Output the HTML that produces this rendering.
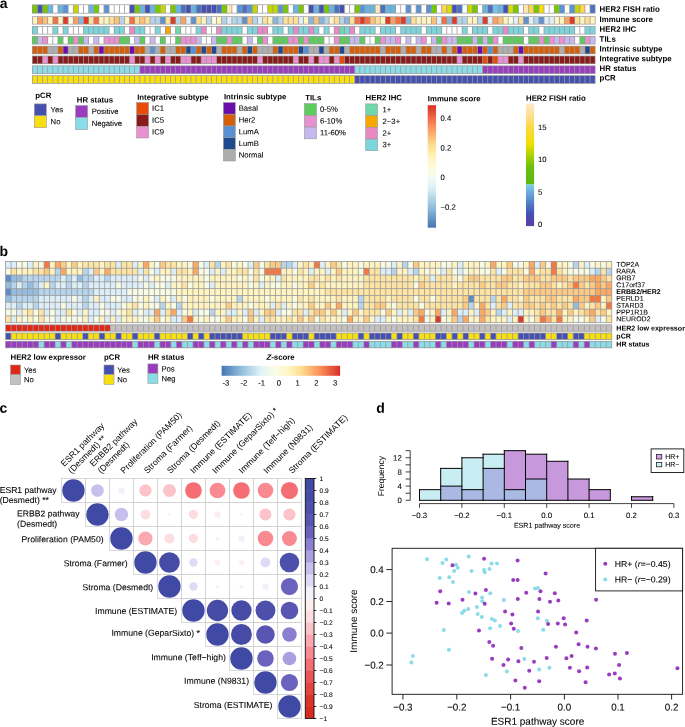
<!DOCTYPE html>
<html lang="en">
<head>
<meta charset="utf-8">
<title>Figure</title>
<style>
html,body{margin:0;padding:0;background:#fff;}
body{width:685px;height:727px;overflow:hidden;}
svg{display:block;font-family:"Liberation Sans", Arial, Helvetica, sans-serif;text-rendering:geometricPrecision;}
</style>
</head>
<body>
<svg width="685" height="727" viewBox="0 0 685 727">
<rect x="0" y="0" width="685" height="727" fill="#ffffff"/>
<g id="panel-a">
<rect x="32.00" y="4.40" width="563.52" height="9.15" fill="#9a9a9a"/>
<rect x="32.75" y="5.10" width="4.32" height="7.75" fill="#78c800"/>
<rect x="37.87" y="5.10" width="4.32" height="7.75" fill="#4650b0"/>
<rect x="42.98" y="5.10" width="4.32" height="7.75" fill="#78c800"/>
<rect x="48.10" y="5.10" width="4.32" height="7.75" fill="#68b4e0"/>
<rect x="53.22" y="5.10" width="4.32" height="7.75" fill="#ffffff"/>
<rect x="58.33" y="5.10" width="4.32" height="7.75" fill="#68b4e0"/>
<rect x="63.45" y="5.10" width="4.32" height="7.75" fill="#5a94d4"/>
<rect x="68.57" y="5.10" width="4.32" height="7.75" fill="#ffffff"/>
<rect x="73.68" y="5.10" width="4.32" height="7.75" fill="#c4d800"/>
<rect x="78.80" y="5.10" width="4.32" height="7.75" fill="#ffffff"/>
<rect x="83.92" y="5.10" width="4.32" height="7.75" fill="#ffffff"/>
<rect x="89.03" y="5.10" width="4.32" height="7.75" fill="#68b4e0"/>
<rect x="94.15" y="5.10" width="4.32" height="7.75" fill="#78c800"/>
<rect x="99.26" y="5.10" width="4.32" height="7.75" fill="#ffffff"/>
<rect x="104.38" y="5.10" width="4.32" height="7.75" fill="#5a94d4"/>
<rect x="109.50" y="5.10" width="4.32" height="7.75" fill="#ffffff"/>
<rect x="114.61" y="5.10" width="4.32" height="7.75" fill="#ffffff"/>
<rect x="119.73" y="5.10" width="4.32" height="7.75" fill="#ffffff"/>
<rect x="124.85" y="5.10" width="4.32" height="7.75" fill="#ffffff"/>
<rect x="129.96" y="5.10" width="4.32" height="7.75" fill="#4650b0"/>
<rect x="135.08" y="5.10" width="4.32" height="7.75" fill="#78c800"/>
<rect x="140.20" y="5.10" width="4.32" height="7.75" fill="#68b4e0"/>
<rect x="145.31" y="5.10" width="4.32" height="7.75" fill="#4650b0"/>
<rect x="150.43" y="5.10" width="4.32" height="7.75" fill="#68b4e0"/>
<rect x="155.55" y="5.10" width="4.32" height="7.75" fill="#78c800"/>
<rect x="160.66" y="5.10" width="4.32" height="7.75" fill="#c4d800"/>
<rect x="165.78" y="5.10" width="4.32" height="7.75" fill="#ffffff"/>
<rect x="170.90" y="5.10" width="4.32" height="7.75" fill="#78c800"/>
<rect x="176.01" y="5.10" width="4.32" height="7.75" fill="#68b4e0"/>
<rect x="181.13" y="5.10" width="4.32" height="7.75" fill="#4a70c4"/>
<rect x="186.25" y="5.10" width="4.32" height="7.75" fill="#4650b0"/>
<rect x="191.36" y="5.10" width="4.32" height="7.75" fill="#68b4e0"/>
<rect x="196.48" y="5.10" width="4.32" height="7.75" fill="#4a70c4"/>
<rect x="201.59" y="5.10" width="4.32" height="7.75" fill="#4650b0"/>
<rect x="206.71" y="5.10" width="4.32" height="7.75" fill="#4650b0"/>
<rect x="211.83" y="5.10" width="4.32" height="7.75" fill="#4650b0"/>
<rect x="216.94" y="5.10" width="4.32" height="7.75" fill="#4a70c4"/>
<rect x="222.06" y="5.10" width="4.32" height="7.75" fill="#78c800"/>
<rect x="227.18" y="5.10" width="4.32" height="7.75" fill="#ffe8b0"/>
<rect x="232.29" y="5.10" width="4.32" height="7.75" fill="#ffffff"/>
<rect x="237.41" y="5.10" width="4.32" height="7.75" fill="#5a94d4"/>
<rect x="242.53" y="5.10" width="4.32" height="7.75" fill="#4a70c4"/>
<rect x="247.64" y="5.10" width="4.32" height="7.75" fill="#5a94d4"/>
<rect x="252.76" y="5.10" width="4.32" height="7.75" fill="#c4d800"/>
<rect x="257.88" y="5.10" width="4.32" height="7.75" fill="#ffffff"/>
<rect x="262.99" y="5.10" width="4.32" height="7.75" fill="#ffffff"/>
<rect x="268.11" y="5.10" width="4.32" height="7.75" fill="#c4d800"/>
<rect x="273.23" y="5.10" width="4.32" height="7.75" fill="#c4d800"/>
<rect x="278.34" y="5.10" width="4.32" height="7.75" fill="#5a94d4"/>
<rect x="283.46" y="5.10" width="4.32" height="7.75" fill="#78c800"/>
<rect x="288.57" y="5.10" width="4.32" height="7.75" fill="#ffffff"/>
<rect x="293.69" y="5.10" width="4.32" height="7.75" fill="#68b4e0"/>
<rect x="298.81" y="5.10" width="4.32" height="7.75" fill="#78c800"/>
<rect x="303.92" y="5.10" width="4.32" height="7.75" fill="#ffffff"/>
<rect x="309.04" y="5.10" width="4.32" height="7.75" fill="#4650b0"/>
<rect x="314.16" y="5.10" width="4.32" height="7.75" fill="#68b4e0"/>
<rect x="319.27" y="5.10" width="4.32" height="7.75" fill="#4650b0"/>
<rect x="324.39" y="5.10" width="4.32" height="7.75" fill="#78c800"/>
<rect x="329.51" y="5.10" width="4.32" height="7.75" fill="#68b4e0"/>
<rect x="334.62" y="5.10" width="4.32" height="7.75" fill="#4a70c4"/>
<rect x="339.74" y="5.10" width="4.32" height="7.75" fill="#4650b0"/>
<rect x="344.86" y="5.10" width="4.32" height="7.75" fill="#ffffff"/>
<rect x="349.97" y="5.10" width="4.32" height="7.75" fill="#ffffff"/>
<rect x="355.09" y="5.10" width="4.32" height="7.75" fill="#78c800"/>
<rect x="360.21" y="5.10" width="4.32" height="7.75" fill="#5a94d4"/>
<rect x="365.32" y="5.10" width="4.32" height="7.75" fill="#68b4e0"/>
<rect x="370.44" y="5.10" width="4.32" height="7.75" fill="#68b4e0"/>
<rect x="375.56" y="5.10" width="4.32" height="7.75" fill="#ffe8b0"/>
<rect x="380.67" y="5.10" width="4.32" height="7.75" fill="#4a70c4"/>
<rect x="385.79" y="5.10" width="4.32" height="7.75" fill="#68b4e0"/>
<rect x="390.91" y="5.10" width="4.32" height="7.75" fill="#68b4e0"/>
<rect x="396.02" y="5.10" width="4.32" height="7.75" fill="#ffffff"/>
<rect x="401.14" y="5.10" width="4.32" height="7.75" fill="#ffffff"/>
<rect x="406.25" y="5.10" width="4.32" height="7.75" fill="#5a94d4"/>
<rect x="411.37" y="5.10" width="4.32" height="7.75" fill="#ffffff"/>
<rect x="416.49" y="5.10" width="4.32" height="7.75" fill="#5a94d4"/>
<rect x="421.60" y="5.10" width="4.32" height="7.75" fill="#ffffff"/>
<rect x="426.72" y="5.10" width="4.32" height="7.75" fill="#5a94d4"/>
<rect x="431.84" y="5.10" width="4.32" height="7.75" fill="#78c800"/>
<rect x="436.95" y="5.10" width="4.32" height="7.75" fill="#ffffff"/>
<rect x="442.07" y="5.10" width="4.32" height="7.75" fill="#fdd84a"/>
<rect x="447.19" y="5.10" width="4.32" height="7.75" fill="#d8de00"/>
<rect x="452.30" y="5.10" width="4.32" height="7.75" fill="#4650b0"/>
<rect x="457.42" y="5.10" width="4.32" height="7.75" fill="#4a70c4"/>
<rect x="462.54" y="5.10" width="4.32" height="7.75" fill="#ffffff"/>
<rect x="467.65" y="5.10" width="4.32" height="7.75" fill="#c4d800"/>
<rect x="472.77" y="5.10" width="4.32" height="7.75" fill="#78c800"/>
<rect x="477.89" y="5.10" width="4.32" height="7.75" fill="#ffffff"/>
<rect x="483.00" y="5.10" width="4.32" height="7.75" fill="#68b4e0"/>
<rect x="488.12" y="5.10" width="4.32" height="7.75" fill="#4a70c4"/>
<rect x="493.24" y="5.10" width="4.32" height="7.75" fill="#70c8e8"/>
<rect x="498.35" y="5.10" width="4.32" height="7.75" fill="#68b4e0"/>
<rect x="503.47" y="5.10" width="4.32" height="7.75" fill="#4650b0"/>
<rect x="508.58" y="5.10" width="4.32" height="7.75" fill="#d8de00"/>
<rect x="513.70" y="5.10" width="4.32" height="7.75" fill="#78c800"/>
<rect x="518.82" y="5.10" width="4.32" height="7.75" fill="#ffffff"/>
<rect x="523.93" y="5.10" width="4.32" height="7.75" fill="#ffe8b0"/>
<rect x="529.05" y="5.10" width="4.32" height="7.75" fill="#fdd84a"/>
<rect x="534.17" y="5.10" width="4.32" height="7.75" fill="#78c800"/>
<rect x="539.28" y="5.10" width="4.32" height="7.75" fill="#f4e000"/>
<rect x="544.40" y="5.10" width="4.32" height="7.75" fill="#ffffff"/>
<rect x="549.52" y="5.10" width="4.32" height="7.75" fill="#ffffff"/>
<rect x="554.63" y="5.10" width="4.32" height="7.75" fill="#78c800"/>
<rect x="559.75" y="5.10" width="4.32" height="7.75" fill="#5a94d4"/>
<rect x="564.87" y="5.10" width="4.32" height="7.75" fill="#ffffff"/>
<rect x="569.98" y="5.10" width="4.32" height="7.75" fill="#5a94d4"/>
<rect x="575.10" y="5.10" width="4.32" height="7.75" fill="#c4d800"/>
<rect x="580.22" y="5.10" width="4.32" height="7.75" fill="#fdd84a"/>
<rect x="585.33" y="5.10" width="4.32" height="7.75" fill="#ffffff"/>
<rect x="590.45" y="5.10" width="4.32" height="7.75" fill="#4a70c4"/>
<rect x="32.00" y="16.30" width="563.52" height="8.20" fill="#9a9a9a"/>
<rect x="32.75" y="17.00" width="4.32" height="6.80" fill="#fff4c0"/>
<rect x="37.87" y="17.00" width="4.32" height="6.80" fill="#fca060"/>
<rect x="42.98" y="17.00" width="4.32" height="6.80" fill="#fdc078"/>
<rect x="48.10" y="17.00" width="4.32" height="6.80" fill="#fff4c0"/>
<rect x="53.22" y="17.00" width="4.32" height="6.80" fill="#f46d43"/>
<rect x="58.33" y="17.00" width="4.32" height="6.80" fill="#fff4c0"/>
<rect x="63.45" y="17.00" width="4.32" height="6.80" fill="#dc3c28"/>
<rect x="68.57" y="17.00" width="4.32" height="6.80" fill="#fcfde0"/>
<rect x="73.68" y="17.00" width="4.32" height="6.80" fill="#fca060"/>
<rect x="78.80" y="17.00" width="4.32" height="6.80" fill="#8ab4da"/>
<rect x="83.92" y="17.00" width="4.32" height="6.80" fill="#dc3c28"/>
<rect x="89.03" y="17.00" width="4.32" height="6.80" fill="#fee098"/>
<rect x="94.15" y="17.00" width="4.32" height="6.80" fill="#f46d43"/>
<rect x="99.26" y="17.00" width="4.32" height="6.80" fill="#fff4c0"/>
<rect x="104.38" y="17.00" width="4.32" height="6.80" fill="#fff4c0"/>
<rect x="109.50" y="17.00" width="4.32" height="6.80" fill="#fee098"/>
<rect x="114.61" y="17.00" width="4.32" height="6.80" fill="#fdc078"/>
<rect x="119.73" y="17.00" width="4.32" height="6.80" fill="#b4d4ea"/>
<rect x="124.85" y="17.00" width="4.32" height="6.80" fill="#fff4c0"/>
<rect x="129.96" y="17.00" width="4.32" height="6.80" fill="#f46d43"/>
<rect x="135.08" y="17.00" width="4.32" height="6.80" fill="#fee098"/>
<rect x="140.20" y="17.00" width="4.32" height="6.80" fill="#fdc078"/>
<rect x="145.31" y="17.00" width="4.32" height="6.80" fill="#fee098"/>
<rect x="150.43" y="17.00" width="4.32" height="6.80" fill="#b4d4ea"/>
<rect x="155.55" y="17.00" width="4.32" height="6.80" fill="#b4d4ea"/>
<rect x="160.66" y="17.00" width="4.32" height="6.80" fill="#6292cc"/>
<rect x="165.78" y="17.00" width="4.32" height="6.80" fill="#fee098"/>
<rect x="170.90" y="17.00" width="4.32" height="6.80" fill="#dc3c28"/>
<rect x="176.01" y="17.00" width="4.32" height="6.80" fill="#b4d4ea"/>
<rect x="181.13" y="17.00" width="4.32" height="6.80" fill="#fca060"/>
<rect x="186.25" y="17.00" width="4.32" height="6.80" fill="#e0f0f8"/>
<rect x="191.36" y="17.00" width="4.32" height="6.80" fill="#6292cc"/>
<rect x="196.48" y="17.00" width="4.32" height="6.80" fill="#fee098"/>
<rect x="201.59" y="17.00" width="4.32" height="6.80" fill="#fff4c0"/>
<rect x="206.71" y="17.00" width="4.32" height="6.80" fill="#b4d4ea"/>
<rect x="211.83" y="17.00" width="4.32" height="6.80" fill="#fcfde0"/>
<rect x="216.94" y="17.00" width="4.32" height="6.80" fill="#fff4c0"/>
<rect x="222.06" y="17.00" width="4.32" height="6.80" fill="#b4d4ea"/>
<rect x="227.18" y="17.00" width="4.32" height="6.80" fill="#e0f0f8"/>
<rect x="232.29" y="17.00" width="4.32" height="6.80" fill="#b4d4ea"/>
<rect x="237.41" y="17.00" width="4.32" height="6.80" fill="#b4d4ea"/>
<rect x="242.53" y="17.00" width="4.32" height="6.80" fill="#6292cc"/>
<rect x="247.64" y="17.00" width="4.32" height="6.80" fill="#fdc078"/>
<rect x="252.76" y="17.00" width="4.32" height="6.80" fill="#b4d4ea"/>
<rect x="257.88" y="17.00" width="4.32" height="6.80" fill="#e0f0f8"/>
<rect x="262.99" y="17.00" width="4.32" height="6.80" fill="#fee098"/>
<rect x="268.11" y="17.00" width="4.32" height="6.80" fill="#fff4c0"/>
<rect x="273.23" y="17.00" width="4.32" height="6.80" fill="#8ab4da"/>
<rect x="278.34" y="17.00" width="4.32" height="6.80" fill="#b4d4ea"/>
<rect x="283.46" y="17.00" width="4.32" height="6.80" fill="#fee098"/>
<rect x="288.57" y="17.00" width="4.32" height="6.80" fill="#fee098"/>
<rect x="293.69" y="17.00" width="4.32" height="6.80" fill="#fee098"/>
<rect x="298.81" y="17.00" width="4.32" height="6.80" fill="#e0f0f8"/>
<rect x="303.92" y="17.00" width="4.32" height="6.80" fill="#fff4c0"/>
<rect x="309.04" y="17.00" width="4.32" height="6.80" fill="#8ab4da"/>
<rect x="314.16" y="17.00" width="4.32" height="6.80" fill="#fdc078"/>
<rect x="319.27" y="17.00" width="4.32" height="6.80" fill="#8ab4da"/>
<rect x="324.39" y="17.00" width="4.32" height="6.80" fill="#b4d4ea"/>
<rect x="329.51" y="17.00" width="4.32" height="6.80" fill="#fff4c0"/>
<rect x="334.62" y="17.00" width="4.32" height="6.80" fill="#fee098"/>
<rect x="339.74" y="17.00" width="4.32" height="6.80" fill="#b4d4ea"/>
<rect x="344.86" y="17.00" width="4.32" height="6.80" fill="#8ab4da"/>
<rect x="349.97" y="17.00" width="4.32" height="6.80" fill="#fee098"/>
<rect x="355.09" y="17.00" width="4.32" height="6.80" fill="#f46d43"/>
<rect x="360.21" y="17.00" width="4.32" height="6.80" fill="#dc3c28"/>
<rect x="365.32" y="17.00" width="4.32" height="6.80" fill="#f46d43"/>
<rect x="370.44" y="17.00" width="4.32" height="6.80" fill="#fdc078"/>
<rect x="375.56" y="17.00" width="4.32" height="6.80" fill="#fee098"/>
<rect x="380.67" y="17.00" width="4.32" height="6.80" fill="#fff4c0"/>
<rect x="385.79" y="17.00" width="4.32" height="6.80" fill="#dc3c28"/>
<rect x="390.91" y="17.00" width="4.32" height="6.80" fill="#fca060"/>
<rect x="396.02" y="17.00" width="4.32" height="6.80" fill="#f46d43"/>
<rect x="401.14" y="17.00" width="4.32" height="6.80" fill="#dc3c28"/>
<rect x="406.25" y="17.00" width="4.32" height="6.80" fill="#8ab4da"/>
<rect x="411.37" y="17.00" width="4.32" height="6.80" fill="#fee098"/>
<rect x="416.49" y="17.00" width="4.32" height="6.80" fill="#fff4c0"/>
<rect x="421.60" y="17.00" width="4.32" height="6.80" fill="#fff4c0"/>
<rect x="426.72" y="17.00" width="4.32" height="6.80" fill="#fff4c0"/>
<rect x="431.84" y="17.00" width="4.32" height="6.80" fill="#fdc078"/>
<rect x="436.95" y="17.00" width="4.32" height="6.80" fill="#e0f0f8"/>
<rect x="442.07" y="17.00" width="4.32" height="6.80" fill="#f46d43"/>
<rect x="447.19" y="17.00" width="4.32" height="6.80" fill="#8ab4da"/>
<rect x="452.30" y="17.00" width="4.32" height="6.80" fill="#dc3c28"/>
<rect x="457.42" y="17.00" width="4.32" height="6.80" fill="#b4d4ea"/>
<rect x="462.54" y="17.00" width="4.32" height="6.80" fill="#b4d4ea"/>
<rect x="467.65" y="17.00" width="4.32" height="6.80" fill="#fff4c0"/>
<rect x="472.77" y="17.00" width="4.32" height="6.80" fill="#fff4c0"/>
<rect x="477.89" y="17.00" width="4.32" height="6.80" fill="#b4d4ea"/>
<rect x="483.00" y="17.00" width="4.32" height="6.80" fill="#dc3c28"/>
<rect x="488.12" y="17.00" width="4.32" height="6.80" fill="#e0f0f8"/>
<rect x="493.24" y="17.00" width="4.32" height="6.80" fill="#fca060"/>
<rect x="498.35" y="17.00" width="4.32" height="6.80" fill="#fdc078"/>
<rect x="503.47" y="17.00" width="4.32" height="6.80" fill="#fff4c0"/>
<rect x="508.58" y="17.00" width="4.32" height="6.80" fill="#fcfde0"/>
<rect x="513.70" y="17.00" width="4.32" height="6.80" fill="#e0f0f8"/>
<rect x="518.82" y="17.00" width="4.32" height="6.80" fill="#fee098"/>
<rect x="523.93" y="17.00" width="4.32" height="6.80" fill="#6292cc"/>
<rect x="529.05" y="17.00" width="4.32" height="6.80" fill="#e0f0f8"/>
<rect x="534.17" y="17.00" width="4.32" height="6.80" fill="#b4d4ea"/>
<rect x="539.28" y="17.00" width="4.32" height="6.80" fill="#6292cc"/>
<rect x="544.40" y="17.00" width="4.32" height="6.80" fill="#e0f0f8"/>
<rect x="549.52" y="17.00" width="4.32" height="6.80" fill="#e0f0f8"/>
<rect x="554.63" y="17.00" width="4.32" height="6.80" fill="#fff4c0"/>
<rect x="559.75" y="17.00" width="4.32" height="6.80" fill="#fff4c0"/>
<rect x="564.87" y="17.00" width="4.32" height="6.80" fill="#fca060"/>
<rect x="569.98" y="17.00" width="4.32" height="6.80" fill="#dc3c28"/>
<rect x="575.10" y="17.00" width="4.32" height="6.80" fill="#fee098"/>
<rect x="580.22" y="17.00" width="4.32" height="6.80" fill="#fff4c0"/>
<rect x="585.33" y="17.00" width="4.32" height="6.80" fill="#fee098"/>
<rect x="590.45" y="17.00" width="4.32" height="6.80" fill="#fff4c0"/>
<rect x="32.00" y="26.10" width="563.52" height="8.40" fill="#9a9a9a"/>
<rect x="32.75" y="26.80" width="4.32" height="7.00" fill="#7cd4dc"/>
<rect x="37.87" y="26.80" width="4.32" height="7.00" fill="#ffffff"/>
<rect x="42.98" y="26.80" width="4.32" height="7.00" fill="#ffffff"/>
<rect x="48.10" y="26.80" width="4.32" height="7.00" fill="#ffffff"/>
<rect x="53.22" y="26.80" width="4.32" height="7.00" fill="#7cd4dc"/>
<rect x="58.33" y="26.80" width="4.32" height="7.00" fill="#ffffff"/>
<rect x="63.45" y="26.80" width="4.32" height="7.00" fill="#7cd4dc"/>
<rect x="68.57" y="26.80" width="4.32" height="7.00" fill="#ffffff"/>
<rect x="73.68" y="26.80" width="4.32" height="7.00" fill="#ffffff"/>
<rect x="78.80" y="26.80" width="4.32" height="7.00" fill="#ffffff"/>
<rect x="83.92" y="26.80" width="4.32" height="7.00" fill="#7cd4dc"/>
<rect x="89.03" y="26.80" width="4.32" height="7.00" fill="#7cd4dc"/>
<rect x="94.15" y="26.80" width="4.32" height="7.00" fill="#7cd4dc"/>
<rect x="99.26" y="26.80" width="4.32" height="7.00" fill="#7cd4dc"/>
<rect x="104.38" y="26.80" width="4.32" height="7.00" fill="#7cd4dc"/>
<rect x="109.50" y="26.80" width="4.32" height="7.00" fill="#ffffff"/>
<rect x="114.61" y="26.80" width="4.32" height="7.00" fill="#7cd4dc"/>
<rect x="119.73" y="26.80" width="4.32" height="7.00" fill="#7cd4dc"/>
<rect x="124.85" y="26.80" width="4.32" height="7.00" fill="#ffffff"/>
<rect x="129.96" y="26.80" width="4.32" height="7.00" fill="#e888c4"/>
<rect x="135.08" y="26.80" width="4.32" height="7.00" fill="#7cd4dc"/>
<rect x="140.20" y="26.80" width="4.32" height="7.00" fill="#7cd4dc"/>
<rect x="145.31" y="26.80" width="4.32" height="7.00" fill="#ffffff"/>
<rect x="150.43" y="26.80" width="4.32" height="7.00" fill="#ffffff"/>
<rect x="155.55" y="26.80" width="4.32" height="7.00" fill="#7cd4dc"/>
<rect x="160.66" y="26.80" width="4.32" height="7.00" fill="#ffffff"/>
<rect x="165.78" y="26.80" width="4.32" height="7.00" fill="#f4a800"/>
<rect x="170.90" y="26.80" width="4.32" height="7.00" fill="#ffffff"/>
<rect x="176.01" y="26.80" width="4.32" height="7.00" fill="#70d8a8"/>
<rect x="181.13" y="26.80" width="4.32" height="7.00" fill="#ffffff"/>
<rect x="186.25" y="26.80" width="4.32" height="7.00" fill="#ffffff"/>
<rect x="191.36" y="26.80" width="4.32" height="7.00" fill="#ffffff"/>
<rect x="196.48" y="26.80" width="4.32" height="7.00" fill="#7cd4dc"/>
<rect x="201.59" y="26.80" width="4.32" height="7.00" fill="#e888c4"/>
<rect x="206.71" y="26.80" width="4.32" height="7.00" fill="#ffffff"/>
<rect x="211.83" y="26.80" width="4.32" height="7.00" fill="#ffffff"/>
<rect x="216.94" y="26.80" width="4.32" height="7.00" fill="#e888c4"/>
<rect x="222.06" y="26.80" width="4.32" height="7.00" fill="#7cd4dc"/>
<rect x="227.18" y="26.80" width="4.32" height="7.00" fill="#7cd4dc"/>
<rect x="232.29" y="26.80" width="4.32" height="7.00" fill="#7cd4dc"/>
<rect x="237.41" y="26.80" width="4.32" height="7.00" fill="#7cd4dc"/>
<rect x="242.53" y="26.80" width="4.32" height="7.00" fill="#ffffff"/>
<rect x="247.64" y="26.80" width="4.32" height="7.00" fill="#7cd4dc"/>
<rect x="252.76" y="26.80" width="4.32" height="7.00" fill="#7cd4dc"/>
<rect x="257.88" y="26.80" width="4.32" height="7.00" fill="#e888c4"/>
<rect x="262.99" y="26.80" width="4.32" height="7.00" fill="#e888c4"/>
<rect x="268.11" y="26.80" width="4.32" height="7.00" fill="#ffffff"/>
<rect x="273.23" y="26.80" width="4.32" height="7.00" fill="#7cd4dc"/>
<rect x="278.34" y="26.80" width="4.32" height="7.00" fill="#7cd4dc"/>
<rect x="283.46" y="26.80" width="4.32" height="7.00" fill="#ffffff"/>
<rect x="288.57" y="26.80" width="4.32" height="7.00" fill="#7cd4dc"/>
<rect x="293.69" y="26.80" width="4.32" height="7.00" fill="#e888c4"/>
<rect x="298.81" y="26.80" width="4.32" height="7.00" fill="#7cd4dc"/>
<rect x="303.92" y="26.80" width="4.32" height="7.00" fill="#7cd4dc"/>
<rect x="309.04" y="26.80" width="4.32" height="7.00" fill="#e888c4"/>
<rect x="314.16" y="26.80" width="4.32" height="7.00" fill="#7cd4dc"/>
<rect x="319.27" y="26.80" width="4.32" height="7.00" fill="#ffffff"/>
<rect x="324.39" y="26.80" width="4.32" height="7.00" fill="#7cd4dc"/>
<rect x="329.51" y="26.80" width="4.32" height="7.00" fill="#ffffff"/>
<rect x="334.62" y="26.80" width="4.32" height="7.00" fill="#e888c4"/>
<rect x="339.74" y="26.80" width="4.32" height="7.00" fill="#70d8a8"/>
<rect x="344.86" y="26.80" width="4.32" height="7.00" fill="#7cd4dc"/>
<rect x="349.97" y="26.80" width="4.32" height="7.00" fill="#e888c4"/>
<rect x="355.09" y="26.80" width="4.32" height="7.00" fill="#ffffff"/>
<rect x="360.21" y="26.80" width="4.32" height="7.00" fill="#7cd4dc"/>
<rect x="365.32" y="26.80" width="4.32" height="7.00" fill="#7cd4dc"/>
<rect x="370.44" y="26.80" width="4.32" height="7.00" fill="#7cd4dc"/>
<rect x="375.56" y="26.80" width="4.32" height="7.00" fill="#ffffff"/>
<rect x="380.67" y="26.80" width="4.32" height="7.00" fill="#7cd4dc"/>
<rect x="385.79" y="26.80" width="4.32" height="7.00" fill="#7cd4dc"/>
<rect x="390.91" y="26.80" width="4.32" height="7.00" fill="#7cd4dc"/>
<rect x="396.02" y="26.80" width="4.32" height="7.00" fill="#ffffff"/>
<rect x="401.14" y="26.80" width="4.32" height="7.00" fill="#7cd4dc"/>
<rect x="406.25" y="26.80" width="4.32" height="7.00" fill="#7cd4dc"/>
<rect x="411.37" y="26.80" width="4.32" height="7.00" fill="#7cd4dc"/>
<rect x="416.49" y="26.80" width="4.32" height="7.00" fill="#7cd4dc"/>
<rect x="421.60" y="26.80" width="4.32" height="7.00" fill="#ffffff"/>
<rect x="426.72" y="26.80" width="4.32" height="7.00" fill="#7cd4dc"/>
<rect x="431.84" y="26.80" width="4.32" height="7.00" fill="#7cd4dc"/>
<rect x="436.95" y="26.80" width="4.32" height="7.00" fill="#7cd4dc"/>
<rect x="442.07" y="26.80" width="4.32" height="7.00" fill="#ffffff"/>
<rect x="447.19" y="26.80" width="4.32" height="7.00" fill="#ffffff"/>
<rect x="452.30" y="26.80" width="4.32" height="7.00" fill="#ffffff"/>
<rect x="457.42" y="26.80" width="4.32" height="7.00" fill="#ffffff"/>
<rect x="462.54" y="26.80" width="4.32" height="7.00" fill="#7cd4dc"/>
<rect x="467.65" y="26.80" width="4.32" height="7.00" fill="#ffffff"/>
<rect x="472.77" y="26.80" width="4.32" height="7.00" fill="#7cd4dc"/>
<rect x="477.89" y="26.80" width="4.32" height="7.00" fill="#7cd4dc"/>
<rect x="483.00" y="26.80" width="4.32" height="7.00" fill="#7cd4dc"/>
<rect x="488.12" y="26.80" width="4.32" height="7.00" fill="#ffffff"/>
<rect x="493.24" y="26.80" width="4.32" height="7.00" fill="#7cd4dc"/>
<rect x="498.35" y="26.80" width="4.32" height="7.00" fill="#7cd4dc"/>
<rect x="503.47" y="26.80" width="4.32" height="7.00" fill="#e888c4"/>
<rect x="508.58" y="26.80" width="4.32" height="7.00" fill="#7cd4dc"/>
<rect x="513.70" y="26.80" width="4.32" height="7.00" fill="#7cd4dc"/>
<rect x="518.82" y="26.80" width="4.32" height="7.00" fill="#7cd4dc"/>
<rect x="523.93" y="26.80" width="4.32" height="7.00" fill="#ffffff"/>
<rect x="529.05" y="26.80" width="4.32" height="7.00" fill="#7cd4dc"/>
<rect x="534.17" y="26.80" width="4.32" height="7.00" fill="#7cd4dc"/>
<rect x="539.28" y="26.80" width="4.32" height="7.00" fill="#ffffff"/>
<rect x="544.40" y="26.80" width="4.32" height="7.00" fill="#7cd4dc"/>
<rect x="549.52" y="26.80" width="4.32" height="7.00" fill="#7cd4dc"/>
<rect x="554.63" y="26.80" width="4.32" height="7.00" fill="#7cd4dc"/>
<rect x="559.75" y="26.80" width="4.32" height="7.00" fill="#7cd4dc"/>
<rect x="564.87" y="26.80" width="4.32" height="7.00" fill="#7cd4dc"/>
<rect x="569.98" y="26.80" width="4.32" height="7.00" fill="#7cd4dc"/>
<rect x="575.10" y="26.80" width="4.32" height="7.00" fill="#ffffff"/>
<rect x="580.22" y="26.80" width="4.32" height="7.00" fill="#ffffff"/>
<rect x="585.33" y="26.80" width="4.32" height="7.00" fill="#7cd4dc"/>
<rect x="590.45" y="26.80" width="4.32" height="7.00" fill="#7cd4dc"/>
<rect x="32.00" y="36.05" width="563.52" height="8.40" fill="#9a9a9a"/>
<rect x="32.75" y="36.75" width="4.32" height="7.00" fill="#5ccc5c"/>
<rect x="37.87" y="36.75" width="4.32" height="7.00" fill="#c8b8f0"/>
<rect x="42.98" y="36.75" width="4.32" height="7.00" fill="#e890d0"/>
<rect x="48.10" y="36.75" width="4.32" height="7.00" fill="#ffffff"/>
<rect x="53.22" y="36.75" width="4.32" height="7.00" fill="#ffffff"/>
<rect x="58.33" y="36.75" width="4.32" height="7.00" fill="#5ccc5c"/>
<rect x="63.45" y="36.75" width="4.32" height="7.00" fill="#ffffff"/>
<rect x="68.57" y="36.75" width="4.32" height="7.00" fill="#5ccc5c"/>
<rect x="73.68" y="36.75" width="4.32" height="7.00" fill="#e890d0"/>
<rect x="78.80" y="36.75" width="4.32" height="7.00" fill="#5ccc5c"/>
<rect x="83.92" y="36.75" width="4.32" height="7.00" fill="#c8b8f0"/>
<rect x="89.03" y="36.75" width="4.32" height="7.00" fill="#ffffff"/>
<rect x="94.15" y="36.75" width="4.32" height="7.00" fill="#c8b8f0"/>
<rect x="99.26" y="36.75" width="4.32" height="7.00" fill="#ffffff"/>
<rect x="104.38" y="36.75" width="4.32" height="7.00" fill="#e890d0"/>
<rect x="109.50" y="36.75" width="4.32" height="7.00" fill="#e890d0"/>
<rect x="114.61" y="36.75" width="4.32" height="7.00" fill="#e890d0"/>
<rect x="119.73" y="36.75" width="4.32" height="7.00" fill="#5ccc5c"/>
<rect x="124.85" y="36.75" width="4.32" height="7.00" fill="#5ccc5c"/>
<rect x="129.96" y="36.75" width="4.32" height="7.00" fill="#ffffff"/>
<rect x="135.08" y="36.75" width="4.32" height="7.00" fill="#c8b8f0"/>
<rect x="140.20" y="36.75" width="4.32" height="7.00" fill="#5ccc5c"/>
<rect x="145.31" y="36.75" width="4.32" height="7.00" fill="#ffffff"/>
<rect x="150.43" y="36.75" width="4.32" height="7.00" fill="#c8b8f0"/>
<rect x="155.55" y="36.75" width="4.32" height="7.00" fill="#ffffff"/>
<rect x="160.66" y="36.75" width="4.32" height="7.00" fill="#5ccc5c"/>
<rect x="165.78" y="36.75" width="4.32" height="7.00" fill="#ffffff"/>
<rect x="170.90" y="36.75" width="4.32" height="7.00" fill="#ffffff"/>
<rect x="176.01" y="36.75" width="4.32" height="7.00" fill="#5ccc5c"/>
<rect x="181.13" y="36.75" width="4.32" height="7.00" fill="#e890d0"/>
<rect x="186.25" y="36.75" width="4.32" height="7.00" fill="#e890d0"/>
<rect x="191.36" y="36.75" width="4.32" height="7.00" fill="#e890d0"/>
<rect x="196.48" y="36.75" width="4.32" height="7.00" fill="#c8b8f0"/>
<rect x="201.59" y="36.75" width="4.32" height="7.00" fill="#ffffff"/>
<rect x="206.71" y="36.75" width="4.32" height="7.00" fill="#ffffff"/>
<rect x="211.83" y="36.75" width="4.32" height="7.00" fill="#c8b8f0"/>
<rect x="216.94" y="36.75" width="4.32" height="7.00" fill="#5ccc5c"/>
<rect x="222.06" y="36.75" width="4.32" height="7.00" fill="#5ccc5c"/>
<rect x="227.18" y="36.75" width="4.32" height="7.00" fill="#e890d0"/>
<rect x="232.29" y="36.75" width="4.32" height="7.00" fill="#5ccc5c"/>
<rect x="237.41" y="36.75" width="4.32" height="7.00" fill="#5ccc5c"/>
<rect x="242.53" y="36.75" width="4.32" height="7.00" fill="#ffffff"/>
<rect x="247.64" y="36.75" width="4.32" height="7.00" fill="#c8b8f0"/>
<rect x="252.76" y="36.75" width="4.32" height="7.00" fill="#ffffff"/>
<rect x="257.88" y="36.75" width="4.32" height="7.00" fill="#5ccc5c"/>
<rect x="262.99" y="36.75" width="4.32" height="7.00" fill="#e890d0"/>
<rect x="268.11" y="36.75" width="4.32" height="7.00" fill="#ffffff"/>
<rect x="273.23" y="36.75" width="4.32" height="7.00" fill="#5ccc5c"/>
<rect x="278.34" y="36.75" width="4.32" height="7.00" fill="#5ccc5c"/>
<rect x="283.46" y="36.75" width="4.32" height="7.00" fill="#5ccc5c"/>
<rect x="288.57" y="36.75" width="4.32" height="7.00" fill="#e890d0"/>
<rect x="293.69" y="36.75" width="4.32" height="7.00" fill="#e890d0"/>
<rect x="298.81" y="36.75" width="4.32" height="7.00" fill="#5ccc5c"/>
<rect x="303.92" y="36.75" width="4.32" height="7.00" fill="#e890d0"/>
<rect x="309.04" y="36.75" width="4.32" height="7.00" fill="#5ccc5c"/>
<rect x="314.16" y="36.75" width="4.32" height="7.00" fill="#5ccc5c"/>
<rect x="319.27" y="36.75" width="4.32" height="7.00" fill="#5ccc5c"/>
<rect x="324.39" y="36.75" width="4.32" height="7.00" fill="#ffffff"/>
<rect x="329.51" y="36.75" width="4.32" height="7.00" fill="#ffffff"/>
<rect x="334.62" y="36.75" width="4.32" height="7.00" fill="#e890d0"/>
<rect x="339.74" y="36.75" width="4.32" height="7.00" fill="#5ccc5c"/>
<rect x="344.86" y="36.75" width="4.32" height="7.00" fill="#5ccc5c"/>
<rect x="349.97" y="36.75" width="4.32" height="7.00" fill="#c8b8f0"/>
<rect x="355.09" y="36.75" width="4.32" height="7.00" fill="#c8b8f0"/>
<rect x="360.21" y="36.75" width="4.32" height="7.00" fill="#5ccc5c"/>
<rect x="365.32" y="36.75" width="4.32" height="7.00" fill="#ffffff"/>
<rect x="370.44" y="36.75" width="4.32" height="7.00" fill="#ffffff"/>
<rect x="375.56" y="36.75" width="4.32" height="7.00" fill="#5ccc5c"/>
<rect x="380.67" y="36.75" width="4.32" height="7.00" fill="#e890d0"/>
<rect x="385.79" y="36.75" width="4.32" height="7.00" fill="#c8b8f0"/>
<rect x="390.91" y="36.75" width="4.32" height="7.00" fill="#c8b8f0"/>
<rect x="396.02" y="36.75" width="4.32" height="7.00" fill="#e890d0"/>
<rect x="401.14" y="36.75" width="4.32" height="7.00" fill="#ffffff"/>
<rect x="406.25" y="36.75" width="4.32" height="7.00" fill="#c8b8f0"/>
<rect x="411.37" y="36.75" width="4.32" height="7.00" fill="#ffffff"/>
<rect x="416.49" y="36.75" width="4.32" height="7.00" fill="#c8b8f0"/>
<rect x="421.60" y="36.75" width="4.32" height="7.00" fill="#e890d0"/>
<rect x="426.72" y="36.75" width="4.32" height="7.00" fill="#ffffff"/>
<rect x="431.84" y="36.75" width="4.32" height="7.00" fill="#c8b8f0"/>
<rect x="436.95" y="36.75" width="4.32" height="7.00" fill="#5ccc5c"/>
<rect x="442.07" y="36.75" width="4.32" height="7.00" fill="#e890d0"/>
<rect x="447.19" y="36.75" width="4.32" height="7.00" fill="#c8b8f0"/>
<rect x="452.30" y="36.75" width="4.32" height="7.00" fill="#c8b8f0"/>
<rect x="457.42" y="36.75" width="4.32" height="7.00" fill="#5ccc5c"/>
<rect x="462.54" y="36.75" width="4.32" height="7.00" fill="#5ccc5c"/>
<rect x="467.65" y="36.75" width="4.32" height="7.00" fill="#5ccc5c"/>
<rect x="472.77" y="36.75" width="4.32" height="7.00" fill="#c8b8f0"/>
<rect x="477.89" y="36.75" width="4.32" height="7.00" fill="#5ccc5c"/>
<rect x="483.00" y="36.75" width="4.32" height="7.00" fill="#c8b8f0"/>
<rect x="488.12" y="36.75" width="4.32" height="7.00" fill="#5ccc5c"/>
<rect x="493.24" y="36.75" width="4.32" height="7.00" fill="#e890d0"/>
<rect x="498.35" y="36.75" width="4.32" height="7.00" fill="#ffffff"/>
<rect x="503.47" y="36.75" width="4.32" height="7.00" fill="#5ccc5c"/>
<rect x="508.58" y="36.75" width="4.32" height="7.00" fill="#5ccc5c"/>
<rect x="513.70" y="36.75" width="4.32" height="7.00" fill="#5ccc5c"/>
<rect x="518.82" y="36.75" width="4.32" height="7.00" fill="#5ccc5c"/>
<rect x="523.93" y="36.75" width="4.32" height="7.00" fill="#ffffff"/>
<rect x="529.05" y="36.75" width="4.32" height="7.00" fill="#5ccc5c"/>
<rect x="534.17" y="36.75" width="4.32" height="7.00" fill="#5ccc5c"/>
<rect x="539.28" y="36.75" width="4.32" height="7.00" fill="#e890d0"/>
<rect x="544.40" y="36.75" width="4.32" height="7.00" fill="#5ccc5c"/>
<rect x="549.52" y="36.75" width="4.32" height="7.00" fill="#e890d0"/>
<rect x="554.63" y="36.75" width="4.32" height="7.00" fill="#c8b8f0"/>
<rect x="559.75" y="36.75" width="4.32" height="7.00" fill="#e890d0"/>
<rect x="564.87" y="36.75" width="4.32" height="7.00" fill="#c8b8f0"/>
<rect x="569.98" y="36.75" width="4.32" height="7.00" fill="#c8b8f0"/>
<rect x="575.10" y="36.75" width="4.32" height="7.00" fill="#ffffff"/>
<rect x="580.22" y="36.75" width="4.32" height="7.00" fill="#5ccc5c"/>
<rect x="585.33" y="36.75" width="4.32" height="7.00" fill="#e890d0"/>
<rect x="590.45" y="36.75" width="4.32" height="7.00" fill="#c8b8f0"/>
<rect x="32.00" y="45.85" width="563.52" height="8.40" fill="#9a9a9a"/>
<rect x="32.75" y="46.55" width="4.32" height="7.00" fill="#d4600c"/>
<rect x="37.87" y="46.55" width="4.32" height="7.00" fill="#d4600c"/>
<rect x="42.98" y="46.55" width="4.32" height="7.00" fill="#d4600c"/>
<rect x="48.10" y="46.55" width="4.32" height="7.00" fill="#adadad"/>
<rect x="53.22" y="46.55" width="4.32" height="7.00" fill="#adadad"/>
<rect x="58.33" y="46.55" width="4.32" height="7.00" fill="#d4600c"/>
<rect x="63.45" y="46.55" width="4.32" height="7.00" fill="#6a0dad"/>
<rect x="68.57" y="46.55" width="4.32" height="7.00" fill="#adadad"/>
<rect x="73.68" y="46.55" width="4.32" height="7.00" fill="#adadad"/>
<rect x="78.80" y="46.55" width="4.32" height="7.00" fill="#d4600c"/>
<rect x="83.92" y="46.55" width="4.32" height="7.00" fill="#d4600c"/>
<rect x="89.03" y="46.55" width="4.32" height="7.00" fill="#adadad"/>
<rect x="94.15" y="46.55" width="4.32" height="7.00" fill="#d4600c"/>
<rect x="99.26" y="46.55" width="4.32" height="7.00" fill="#6a0dad"/>
<rect x="104.38" y="46.55" width="4.32" height="7.00" fill="#d4600c"/>
<rect x="109.50" y="46.55" width="4.32" height="7.00" fill="#d4600c"/>
<rect x="114.61" y="46.55" width="4.32" height="7.00" fill="#d4600c"/>
<rect x="119.73" y="46.55" width="4.32" height="7.00" fill="#d4600c"/>
<rect x="124.85" y="46.55" width="4.32" height="7.00" fill="#d4600c"/>
<rect x="129.96" y="46.55" width="4.32" height="7.00" fill="#6a0dad"/>
<rect x="135.08" y="46.55" width="4.32" height="7.00" fill="#d4600c"/>
<rect x="140.20" y="46.55" width="4.32" height="7.00" fill="#d4600c"/>
<rect x="145.31" y="46.55" width="4.32" height="7.00" fill="#adadad"/>
<rect x="150.43" y="46.55" width="4.32" height="7.00" fill="#5a90d0"/>
<rect x="155.55" y="46.55" width="4.32" height="7.00" fill="#adadad"/>
<rect x="160.66" y="46.55" width="4.32" height="7.00" fill="#d4600c"/>
<rect x="165.78" y="46.55" width="4.32" height="7.00" fill="#adadad"/>
<rect x="170.90" y="46.55" width="4.32" height="7.00" fill="#adadad"/>
<rect x="176.01" y="46.55" width="4.32" height="7.00" fill="#d4600c"/>
<rect x="181.13" y="46.55" width="4.32" height="7.00" fill="#d4600c"/>
<rect x="186.25" y="46.55" width="4.32" height="7.00" fill="#204a90"/>
<rect x="191.36" y="46.55" width="4.32" height="7.00" fill="#5a90d0"/>
<rect x="196.48" y="46.55" width="4.32" height="7.00" fill="#d4600c"/>
<rect x="201.59" y="46.55" width="4.32" height="7.00" fill="#204a90"/>
<rect x="206.71" y="46.55" width="4.32" height="7.00" fill="#d4600c"/>
<rect x="211.83" y="46.55" width="4.32" height="7.00" fill="#204a90"/>
<rect x="216.94" y="46.55" width="4.32" height="7.00" fill="#adadad"/>
<rect x="222.06" y="46.55" width="4.32" height="7.00" fill="#d4600c"/>
<rect x="227.18" y="46.55" width="4.32" height="7.00" fill="#d4600c"/>
<rect x="232.29" y="46.55" width="4.32" height="7.00" fill="#d4600c"/>
<rect x="237.41" y="46.55" width="4.32" height="7.00" fill="#adadad"/>
<rect x="242.53" y="46.55" width="4.32" height="7.00" fill="#d4600c"/>
<rect x="247.64" y="46.55" width="4.32" height="7.00" fill="#204a90"/>
<rect x="252.76" y="46.55" width="4.32" height="7.00" fill="#d4600c"/>
<rect x="257.88" y="46.55" width="4.32" height="7.00" fill="#adadad"/>
<rect x="262.99" y="46.55" width="4.32" height="7.00" fill="#adadad"/>
<rect x="268.11" y="46.55" width="4.32" height="7.00" fill="#adadad"/>
<rect x="273.23" y="46.55" width="4.32" height="7.00" fill="#d4600c"/>
<rect x="278.34" y="46.55" width="4.32" height="7.00" fill="#204a90"/>
<rect x="283.46" y="46.55" width="4.32" height="7.00" fill="#d4600c"/>
<rect x="288.57" y="46.55" width="4.32" height="7.00" fill="#d4600c"/>
<rect x="293.69" y="46.55" width="4.32" height="7.00" fill="#d4600c"/>
<rect x="298.81" y="46.55" width="4.32" height="7.00" fill="#204a90"/>
<rect x="303.92" y="46.55" width="4.32" height="7.00" fill="#5a90d0"/>
<rect x="309.04" y="46.55" width="4.32" height="7.00" fill="#adadad"/>
<rect x="314.16" y="46.55" width="4.32" height="7.00" fill="#adadad"/>
<rect x="319.27" y="46.55" width="4.32" height="7.00" fill="#204a90"/>
<rect x="324.39" y="46.55" width="4.32" height="7.00" fill="#adadad"/>
<rect x="329.51" y="46.55" width="4.32" height="7.00" fill="#d4600c"/>
<rect x="334.62" y="46.55" width="4.32" height="7.00" fill="#d4600c"/>
<rect x="339.74" y="46.55" width="4.32" height="7.00" fill="#204a90"/>
<rect x="344.86" y="46.55" width="4.32" height="7.00" fill="#adadad"/>
<rect x="349.97" y="46.55" width="4.32" height="7.00" fill="#d4600c"/>
<rect x="355.09" y="46.55" width="4.32" height="7.00" fill="#d4600c"/>
<rect x="360.21" y="46.55" width="4.32" height="7.00" fill="#d4600c"/>
<rect x="365.32" y="46.55" width="4.32" height="7.00" fill="#d4600c"/>
<rect x="370.44" y="46.55" width="4.32" height="7.00" fill="#d4600c"/>
<rect x="375.56" y="46.55" width="4.32" height="7.00" fill="#d4600c"/>
<rect x="380.67" y="46.55" width="4.32" height="7.00" fill="#adadad"/>
<rect x="385.79" y="46.55" width="4.32" height="7.00" fill="#d4600c"/>
<rect x="390.91" y="46.55" width="4.32" height="7.00" fill="#d4600c"/>
<rect x="396.02" y="46.55" width="4.32" height="7.00" fill="#d4600c"/>
<rect x="401.14" y="46.55" width="4.32" height="7.00" fill="#adadad"/>
<rect x="406.25" y="46.55" width="4.32" height="7.00" fill="#d4600c"/>
<rect x="411.37" y="46.55" width="4.32" height="7.00" fill="#d4600c"/>
<rect x="416.49" y="46.55" width="4.32" height="7.00" fill="#adadad"/>
<rect x="421.60" y="46.55" width="4.32" height="7.00" fill="#d4600c"/>
<rect x="426.72" y="46.55" width="4.32" height="7.00" fill="#d4600c"/>
<rect x="431.84" y="46.55" width="4.32" height="7.00" fill="#adadad"/>
<rect x="436.95" y="46.55" width="4.32" height="7.00" fill="#adadad"/>
<rect x="442.07" y="46.55" width="4.32" height="7.00" fill="#d4600c"/>
<rect x="447.19" y="46.55" width="4.32" height="7.00" fill="#adadad"/>
<rect x="452.30" y="46.55" width="4.32" height="7.00" fill="#d4600c"/>
<rect x="457.42" y="46.55" width="4.32" height="7.00" fill="#6a0dad"/>
<rect x="462.54" y="46.55" width="4.32" height="7.00" fill="#d4600c"/>
<rect x="467.65" y="46.55" width="4.32" height="7.00" fill="#d4600c"/>
<rect x="472.77" y="46.55" width="4.32" height="7.00" fill="#d4600c"/>
<rect x="477.89" y="46.55" width="4.32" height="7.00" fill="#6a0dad"/>
<rect x="483.00" y="46.55" width="4.32" height="7.00" fill="#d4600c"/>
<rect x="488.12" y="46.55" width="4.32" height="7.00" fill="#5a90d0"/>
<rect x="493.24" y="46.55" width="4.32" height="7.00" fill="#d4600c"/>
<rect x="498.35" y="46.55" width="4.32" height="7.00" fill="#adadad"/>
<rect x="503.47" y="46.55" width="4.32" height="7.00" fill="#adadad"/>
<rect x="508.58" y="46.55" width="4.32" height="7.00" fill="#adadad"/>
<rect x="513.70" y="46.55" width="4.32" height="7.00" fill="#d4600c"/>
<rect x="518.82" y="46.55" width="4.32" height="7.00" fill="#6a0dad"/>
<rect x="523.93" y="46.55" width="4.32" height="7.00" fill="#d4600c"/>
<rect x="529.05" y="46.55" width="4.32" height="7.00" fill="#d4600c"/>
<rect x="534.17" y="46.55" width="4.32" height="7.00" fill="#d4600c"/>
<rect x="539.28" y="46.55" width="4.32" height="7.00" fill="#d4600c"/>
<rect x="544.40" y="46.55" width="4.32" height="7.00" fill="#d4600c"/>
<rect x="549.52" y="46.55" width="4.32" height="7.00" fill="#d4600c"/>
<rect x="554.63" y="46.55" width="4.32" height="7.00" fill="#d4600c"/>
<rect x="559.75" y="46.55" width="4.32" height="7.00" fill="#adadad"/>
<rect x="564.87" y="46.55" width="4.32" height="7.00" fill="#d4600c"/>
<rect x="569.98" y="46.55" width="4.32" height="7.00" fill="#d4600c"/>
<rect x="575.10" y="46.55" width="4.32" height="7.00" fill="#d4600c"/>
<rect x="580.22" y="46.55" width="4.32" height="7.00" fill="#adadad"/>
<rect x="585.33" y="46.55" width="4.32" height="7.00" fill="#204a90"/>
<rect x="590.45" y="46.55" width="4.32" height="7.00" fill="#d4600c"/>
<rect x="32.00" y="55.65" width="563.52" height="8.40" fill="#9a9a9a"/>
<rect x="32.75" y="56.35" width="4.32" height="7.00" fill="#8b1a1a"/>
<rect x="37.87" y="56.35" width="4.32" height="7.00" fill="#8b1a1a"/>
<rect x="42.98" y="56.35" width="4.32" height="7.00" fill="#e890d0"/>
<rect x="48.10" y="56.35" width="4.32" height="7.00" fill="#8b1a1a"/>
<rect x="53.22" y="56.35" width="4.32" height="7.00" fill="#e890d0"/>
<rect x="58.33" y="56.35" width="4.32" height="7.00" fill="#8b1a1a"/>
<rect x="63.45" y="56.35" width="4.32" height="7.00" fill="#8b1a1a"/>
<rect x="68.57" y="56.35" width="4.32" height="7.00" fill="#8b1a1a"/>
<rect x="73.68" y="56.35" width="4.32" height="7.00" fill="#8b1a1a"/>
<rect x="78.80" y="56.35" width="4.32" height="7.00" fill="#8b1a1a"/>
<rect x="83.92" y="56.35" width="4.32" height="7.00" fill="#8b1a1a"/>
<rect x="89.03" y="56.35" width="4.32" height="7.00" fill="#8b1a1a"/>
<rect x="94.15" y="56.35" width="4.32" height="7.00" fill="#8b1a1a"/>
<rect x="99.26" y="56.35" width="4.32" height="7.00" fill="#8b1a1a"/>
<rect x="104.38" y="56.35" width="4.32" height="7.00" fill="#8b1a1a"/>
<rect x="109.50" y="56.35" width="4.32" height="7.00" fill="#8b1a1a"/>
<rect x="114.61" y="56.35" width="4.32" height="7.00" fill="#8b1a1a"/>
<rect x="119.73" y="56.35" width="4.32" height="7.00" fill="#8b1a1a"/>
<rect x="124.85" y="56.35" width="4.32" height="7.00" fill="#8b1a1a"/>
<rect x="129.96" y="56.35" width="4.32" height="7.00" fill="#e890d0"/>
<rect x="135.08" y="56.35" width="4.32" height="7.00" fill="#8b1a1a"/>
<rect x="140.20" y="56.35" width="4.32" height="7.00" fill="#8b1a1a"/>
<rect x="145.31" y="56.35" width="4.32" height="7.00" fill="#e890d0"/>
<rect x="150.43" y="56.35" width="4.32" height="7.00" fill="#8b1a1a"/>
<rect x="155.55" y="56.35" width="4.32" height="7.00" fill="#e890d0"/>
<rect x="160.66" y="56.35" width="4.32" height="7.00" fill="#8b1a1a"/>
<rect x="165.78" y="56.35" width="4.32" height="7.00" fill="#e890d0"/>
<rect x="170.90" y="56.35" width="4.32" height="7.00" fill="#8b1a1a"/>
<rect x="176.01" y="56.35" width="4.32" height="7.00" fill="#8b1a1a"/>
<rect x="181.13" y="56.35" width="4.32" height="7.00" fill="#e890d0"/>
<rect x="186.25" y="56.35" width="4.32" height="7.00" fill="#e890d0"/>
<rect x="191.36" y="56.35" width="4.32" height="7.00" fill="#8b1a1a"/>
<rect x="196.48" y="56.35" width="4.32" height="7.00" fill="#8b1a1a"/>
<rect x="201.59" y="56.35" width="4.32" height="7.00" fill="#e890d0"/>
<rect x="206.71" y="56.35" width="4.32" height="7.00" fill="#e890d0"/>
<rect x="211.83" y="56.35" width="4.32" height="7.00" fill="#e890d0"/>
<rect x="216.94" y="56.35" width="4.32" height="7.00" fill="#8b1a1a"/>
<rect x="222.06" y="56.35" width="4.32" height="7.00" fill="#8b1a1a"/>
<rect x="227.18" y="56.35" width="4.32" height="7.00" fill="#8b1a1a"/>
<rect x="232.29" y="56.35" width="4.32" height="7.00" fill="#8b1a1a"/>
<rect x="237.41" y="56.35" width="4.32" height="7.00" fill="#8b1a1a"/>
<rect x="242.53" y="56.35" width="4.32" height="7.00" fill="#8b1a1a"/>
<rect x="247.64" y="56.35" width="4.32" height="7.00" fill="#8b1a1a"/>
<rect x="252.76" y="56.35" width="4.32" height="7.00" fill="#8b1a1a"/>
<rect x="257.88" y="56.35" width="4.32" height="7.00" fill="#e890d0"/>
<rect x="262.99" y="56.35" width="4.32" height="7.00" fill="#8b1a1a"/>
<rect x="268.11" y="56.35" width="4.32" height="7.00" fill="#8b1a1a"/>
<rect x="273.23" y="56.35" width="4.32" height="7.00" fill="#8b1a1a"/>
<rect x="278.34" y="56.35" width="4.32" height="7.00" fill="#8b1a1a"/>
<rect x="283.46" y="56.35" width="4.32" height="7.00" fill="#8b1a1a"/>
<rect x="288.57" y="56.35" width="4.32" height="7.00" fill="#8b1a1a"/>
<rect x="293.69" y="56.35" width="4.32" height="7.00" fill="#e890d0"/>
<rect x="298.81" y="56.35" width="4.32" height="7.00" fill="#8b1a1a"/>
<rect x="303.92" y="56.35" width="4.32" height="7.00" fill="#8b1a1a"/>
<rect x="309.04" y="56.35" width="4.32" height="7.00" fill="#e890d0"/>
<rect x="314.16" y="56.35" width="4.32" height="7.00" fill="#8b1a1a"/>
<rect x="319.27" y="56.35" width="4.32" height="7.00" fill="#e890d0"/>
<rect x="324.39" y="56.35" width="4.32" height="7.00" fill="#e890d0"/>
<rect x="329.51" y="56.35" width="4.32" height="7.00" fill="#8b1a1a"/>
<rect x="334.62" y="56.35" width="4.32" height="7.00" fill="#e890d0"/>
<rect x="339.74" y="56.35" width="4.32" height="7.00" fill="#e84c08"/>
<rect x="344.86" y="56.35" width="4.32" height="7.00" fill="#8b1a1a"/>
<rect x="349.97" y="56.35" width="4.32" height="7.00" fill="#8b1a1a"/>
<rect x="355.09" y="56.35" width="4.32" height="7.00" fill="#8b1a1a"/>
<rect x="360.21" y="56.35" width="4.32" height="7.00" fill="#8b1a1a"/>
<rect x="365.32" y="56.35" width="4.32" height="7.00" fill="#8b1a1a"/>
<rect x="370.44" y="56.35" width="4.32" height="7.00" fill="#8b1a1a"/>
<rect x="375.56" y="56.35" width="4.32" height="7.00" fill="#8b1a1a"/>
<rect x="380.67" y="56.35" width="4.32" height="7.00" fill="#8b1a1a"/>
<rect x="385.79" y="56.35" width="4.32" height="7.00" fill="#8b1a1a"/>
<rect x="390.91" y="56.35" width="4.32" height="7.00" fill="#8b1a1a"/>
<rect x="396.02" y="56.35" width="4.32" height="7.00" fill="#8b1a1a"/>
<rect x="401.14" y="56.35" width="4.32" height="7.00" fill="#8b1a1a"/>
<rect x="406.25" y="56.35" width="4.32" height="7.00" fill="#8b1a1a"/>
<rect x="411.37" y="56.35" width="4.32" height="7.00" fill="#8b1a1a"/>
<rect x="416.49" y="56.35" width="4.32" height="7.00" fill="#8b1a1a"/>
<rect x="421.60" y="56.35" width="4.32" height="7.00" fill="#8b1a1a"/>
<rect x="426.72" y="56.35" width="4.32" height="7.00" fill="#8b1a1a"/>
<rect x="431.84" y="56.35" width="4.32" height="7.00" fill="#8b1a1a"/>
<rect x="436.95" y="56.35" width="4.32" height="7.00" fill="#8b1a1a"/>
<rect x="442.07" y="56.35" width="4.32" height="7.00" fill="#8b1a1a"/>
<rect x="447.19" y="56.35" width="4.32" height="7.00" fill="#8b1a1a"/>
<rect x="452.30" y="56.35" width="4.32" height="7.00" fill="#8b1a1a"/>
<rect x="457.42" y="56.35" width="4.32" height="7.00" fill="#e890d0"/>
<rect x="462.54" y="56.35" width="4.32" height="7.00" fill="#8b1a1a"/>
<rect x="467.65" y="56.35" width="4.32" height="7.00" fill="#8b1a1a"/>
<rect x="472.77" y="56.35" width="4.32" height="7.00" fill="#8b1a1a"/>
<rect x="477.89" y="56.35" width="4.32" height="7.00" fill="#8b1a1a"/>
<rect x="483.00" y="56.35" width="4.32" height="7.00" fill="#e84c08"/>
<rect x="488.12" y="56.35" width="4.32" height="7.00" fill="#8b1a1a"/>
<rect x="493.24" y="56.35" width="4.32" height="7.00" fill="#e84c08"/>
<rect x="498.35" y="56.35" width="4.32" height="7.00" fill="#e890d0"/>
<rect x="503.47" y="56.35" width="4.32" height="7.00" fill="#e890d0"/>
<rect x="508.58" y="56.35" width="4.32" height="7.00" fill="#8b1a1a"/>
<rect x="513.70" y="56.35" width="4.32" height="7.00" fill="#8b1a1a"/>
<rect x="518.82" y="56.35" width="4.32" height="7.00" fill="#e890d0"/>
<rect x="523.93" y="56.35" width="4.32" height="7.00" fill="#8b1a1a"/>
<rect x="529.05" y="56.35" width="4.32" height="7.00" fill="#8b1a1a"/>
<rect x="534.17" y="56.35" width="4.32" height="7.00" fill="#8b1a1a"/>
<rect x="539.28" y="56.35" width="4.32" height="7.00" fill="#8b1a1a"/>
<rect x="544.40" y="56.35" width="4.32" height="7.00" fill="#8b1a1a"/>
<rect x="549.52" y="56.35" width="4.32" height="7.00" fill="#8b1a1a"/>
<rect x="554.63" y="56.35" width="4.32" height="7.00" fill="#8b1a1a"/>
<rect x="559.75" y="56.35" width="4.32" height="7.00" fill="#8b1a1a"/>
<rect x="564.87" y="56.35" width="4.32" height="7.00" fill="#8b1a1a"/>
<rect x="569.98" y="56.35" width="4.32" height="7.00" fill="#8b1a1a"/>
<rect x="575.10" y="56.35" width="4.32" height="7.00" fill="#8b1a1a"/>
<rect x="580.22" y="56.35" width="4.32" height="7.00" fill="#8b1a1a"/>
<rect x="585.33" y="56.35" width="4.32" height="7.00" fill="#8b1a1a"/>
<rect x="590.45" y="56.35" width="4.32" height="7.00" fill="#8b1a1a"/>
<rect x="32.00" y="65.45" width="563.52" height="8.45" fill="#9a9a9a"/>
<rect x="32.75" y="66.15" width="4.32" height="7.05" fill="#8adce8"/>
<rect x="37.87" y="66.15" width="4.32" height="7.05" fill="#8adce8"/>
<rect x="42.98" y="66.15" width="4.32" height="7.05" fill="#8adce8"/>
<rect x="48.10" y="66.15" width="4.32" height="7.05" fill="#8adce8"/>
<rect x="53.22" y="66.15" width="4.32" height="7.05" fill="#8adce8"/>
<rect x="58.33" y="66.15" width="4.32" height="7.05" fill="#8adce8"/>
<rect x="63.45" y="66.15" width="4.32" height="7.05" fill="#8adce8"/>
<rect x="68.57" y="66.15" width="4.32" height="7.05" fill="#8adce8"/>
<rect x="73.68" y="66.15" width="4.32" height="7.05" fill="#8adce8"/>
<rect x="78.80" y="66.15" width="4.32" height="7.05" fill="#8adce8"/>
<rect x="83.92" y="66.15" width="4.32" height="7.05" fill="#8adce8"/>
<rect x="89.03" y="66.15" width="4.32" height="7.05" fill="#8adce8"/>
<rect x="94.15" y="66.15" width="4.32" height="7.05" fill="#8adce8"/>
<rect x="99.26" y="66.15" width="4.32" height="7.05" fill="#8adce8"/>
<rect x="104.38" y="66.15" width="4.32" height="7.05" fill="#8adce8"/>
<rect x="109.50" y="66.15" width="4.32" height="7.05" fill="#8adce8"/>
<rect x="114.61" y="66.15" width="4.32" height="7.05" fill="#8adce8"/>
<rect x="119.73" y="66.15" width="4.32" height="7.05" fill="#8adce8"/>
<rect x="124.85" y="66.15" width="4.32" height="7.05" fill="#8adce8"/>
<rect x="129.96" y="66.15" width="4.32" height="7.05" fill="#8adce8"/>
<rect x="135.08" y="66.15" width="4.32" height="7.05" fill="#8adce8"/>
<rect x="140.20" y="66.15" width="4.32" height="7.05" fill="#9a3cc0"/>
<rect x="145.31" y="66.15" width="4.32" height="7.05" fill="#9a3cc0"/>
<rect x="150.43" y="66.15" width="4.32" height="7.05" fill="#9a3cc0"/>
<rect x="155.55" y="66.15" width="4.32" height="7.05" fill="#9a3cc0"/>
<rect x="160.66" y="66.15" width="4.32" height="7.05" fill="#9a3cc0"/>
<rect x="165.78" y="66.15" width="4.32" height="7.05" fill="#9a3cc0"/>
<rect x="170.90" y="66.15" width="4.32" height="7.05" fill="#9a3cc0"/>
<rect x="176.01" y="66.15" width="4.32" height="7.05" fill="#9a3cc0"/>
<rect x="181.13" y="66.15" width="4.32" height="7.05" fill="#9a3cc0"/>
<rect x="186.25" y="66.15" width="4.32" height="7.05" fill="#9a3cc0"/>
<rect x="191.36" y="66.15" width="4.32" height="7.05" fill="#9a3cc0"/>
<rect x="196.48" y="66.15" width="4.32" height="7.05" fill="#9a3cc0"/>
<rect x="201.59" y="66.15" width="4.32" height="7.05" fill="#9a3cc0"/>
<rect x="206.71" y="66.15" width="4.32" height="7.05" fill="#9a3cc0"/>
<rect x="211.83" y="66.15" width="4.32" height="7.05" fill="#9a3cc0"/>
<rect x="216.94" y="66.15" width="4.32" height="7.05" fill="#9a3cc0"/>
<rect x="222.06" y="66.15" width="4.32" height="7.05" fill="#9a3cc0"/>
<rect x="227.18" y="66.15" width="4.32" height="7.05" fill="#9a3cc0"/>
<rect x="232.29" y="66.15" width="4.32" height="7.05" fill="#9a3cc0"/>
<rect x="237.41" y="66.15" width="4.32" height="7.05" fill="#9a3cc0"/>
<rect x="242.53" y="66.15" width="4.32" height="7.05" fill="#9a3cc0"/>
<rect x="247.64" y="66.15" width="4.32" height="7.05" fill="#9a3cc0"/>
<rect x="252.76" y="66.15" width="4.32" height="7.05" fill="#9a3cc0"/>
<rect x="257.88" y="66.15" width="4.32" height="7.05" fill="#9a3cc0"/>
<rect x="262.99" y="66.15" width="4.32" height="7.05" fill="#9a3cc0"/>
<rect x="268.11" y="66.15" width="4.32" height="7.05" fill="#9a3cc0"/>
<rect x="273.23" y="66.15" width="4.32" height="7.05" fill="#9a3cc0"/>
<rect x="278.34" y="66.15" width="4.32" height="7.05" fill="#9a3cc0"/>
<rect x="283.46" y="66.15" width="4.32" height="7.05" fill="#9a3cc0"/>
<rect x="288.57" y="66.15" width="4.32" height="7.05" fill="#9a3cc0"/>
<rect x="293.69" y="66.15" width="4.32" height="7.05" fill="#9a3cc0"/>
<rect x="298.81" y="66.15" width="4.32" height="7.05" fill="#9a3cc0"/>
<rect x="303.92" y="66.15" width="4.32" height="7.05" fill="#9a3cc0"/>
<rect x="309.04" y="66.15" width="4.32" height="7.05" fill="#9a3cc0"/>
<rect x="314.16" y="66.15" width="4.32" height="7.05" fill="#9a3cc0"/>
<rect x="319.27" y="66.15" width="4.32" height="7.05" fill="#9a3cc0"/>
<rect x="324.39" y="66.15" width="4.32" height="7.05" fill="#9a3cc0"/>
<rect x="329.51" y="66.15" width="4.32" height="7.05" fill="#9a3cc0"/>
<rect x="334.62" y="66.15" width="4.32" height="7.05" fill="#9a3cc0"/>
<rect x="339.74" y="66.15" width="4.32" height="7.05" fill="#9a3cc0"/>
<rect x="344.86" y="66.15" width="4.32" height="7.05" fill="#9a3cc0"/>
<rect x="349.97" y="66.15" width="4.32" height="7.05" fill="#9a3cc0"/>
<rect x="355.09" y="66.15" width="4.32" height="7.05" fill="#8adce8"/>
<rect x="360.21" y="66.15" width="4.32" height="7.05" fill="#8adce8"/>
<rect x="365.32" y="66.15" width="4.32" height="7.05" fill="#8adce8"/>
<rect x="370.44" y="66.15" width="4.32" height="7.05" fill="#8adce8"/>
<rect x="375.56" y="66.15" width="4.32" height="7.05" fill="#8adce8"/>
<rect x="380.67" y="66.15" width="4.32" height="7.05" fill="#8adce8"/>
<rect x="385.79" y="66.15" width="4.32" height="7.05" fill="#8adce8"/>
<rect x="390.91" y="66.15" width="4.32" height="7.05" fill="#8adce8"/>
<rect x="396.02" y="66.15" width="4.32" height="7.05" fill="#8adce8"/>
<rect x="401.14" y="66.15" width="4.32" height="7.05" fill="#8adce8"/>
<rect x="406.25" y="66.15" width="4.32" height="7.05" fill="#8adce8"/>
<rect x="411.37" y="66.15" width="4.32" height="7.05" fill="#8adce8"/>
<rect x="416.49" y="66.15" width="4.32" height="7.05" fill="#8adce8"/>
<rect x="421.60" y="66.15" width="4.32" height="7.05" fill="#8adce8"/>
<rect x="426.72" y="66.15" width="4.32" height="7.05" fill="#8adce8"/>
<rect x="431.84" y="66.15" width="4.32" height="7.05" fill="#8adce8"/>
<rect x="436.95" y="66.15" width="4.32" height="7.05" fill="#8adce8"/>
<rect x="442.07" y="66.15" width="4.32" height="7.05" fill="#8adce8"/>
<rect x="447.19" y="66.15" width="4.32" height="7.05" fill="#8adce8"/>
<rect x="452.30" y="66.15" width="4.32" height="7.05" fill="#8adce8"/>
<rect x="457.42" y="66.15" width="4.32" height="7.05" fill="#8adce8"/>
<rect x="462.54" y="66.15" width="4.32" height="7.05" fill="#8adce8"/>
<rect x="467.65" y="66.15" width="4.32" height="7.05" fill="#8adce8"/>
<rect x="472.77" y="66.15" width="4.32" height="7.05" fill="#8adce8"/>
<rect x="477.89" y="66.15" width="4.32" height="7.05" fill="#8adce8"/>
<rect x="483.00" y="66.15" width="4.32" height="7.05" fill="#9a3cc0"/>
<rect x="488.12" y="66.15" width="4.32" height="7.05" fill="#9a3cc0"/>
<rect x="493.24" y="66.15" width="4.32" height="7.05" fill="#9a3cc0"/>
<rect x="498.35" y="66.15" width="4.32" height="7.05" fill="#9a3cc0"/>
<rect x="503.47" y="66.15" width="4.32" height="7.05" fill="#9a3cc0"/>
<rect x="508.58" y="66.15" width="4.32" height="7.05" fill="#9a3cc0"/>
<rect x="513.70" y="66.15" width="4.32" height="7.05" fill="#9a3cc0"/>
<rect x="518.82" y="66.15" width="4.32" height="7.05" fill="#9a3cc0"/>
<rect x="523.93" y="66.15" width="4.32" height="7.05" fill="#9a3cc0"/>
<rect x="529.05" y="66.15" width="4.32" height="7.05" fill="#9a3cc0"/>
<rect x="534.17" y="66.15" width="4.32" height="7.05" fill="#9a3cc0"/>
<rect x="539.28" y="66.15" width="4.32" height="7.05" fill="#9a3cc0"/>
<rect x="544.40" y="66.15" width="4.32" height="7.05" fill="#9a3cc0"/>
<rect x="549.52" y="66.15" width="4.32" height="7.05" fill="#9a3cc0"/>
<rect x="554.63" y="66.15" width="4.32" height="7.05" fill="#9a3cc0"/>
<rect x="559.75" y="66.15" width="4.32" height="7.05" fill="#9a3cc0"/>
<rect x="564.87" y="66.15" width="4.32" height="7.05" fill="#9a3cc0"/>
<rect x="569.98" y="66.15" width="4.32" height="7.05" fill="#9a3cc0"/>
<rect x="575.10" y="66.15" width="4.32" height="7.05" fill="#9a3cc0"/>
<rect x="580.22" y="66.15" width="4.32" height="7.05" fill="#9a3cc0"/>
<rect x="585.33" y="66.15" width="4.32" height="7.05" fill="#9a3cc0"/>
<rect x="590.45" y="66.15" width="4.32" height="7.05" fill="#9a3cc0"/>
<rect x="32.00" y="75.25" width="563.52" height="8.55" fill="#9a9a9a"/>
<rect x="32.75" y="75.95" width="4.32" height="7.15" fill="#f8e010"/>
<rect x="37.87" y="75.95" width="4.32" height="7.15" fill="#f8e010"/>
<rect x="42.98" y="75.95" width="4.32" height="7.15" fill="#f8e010"/>
<rect x="48.10" y="75.95" width="4.32" height="7.15" fill="#f8e010"/>
<rect x="53.22" y="75.95" width="4.32" height="7.15" fill="#f8e010"/>
<rect x="58.33" y="75.95" width="4.32" height="7.15" fill="#f8e010"/>
<rect x="63.45" y="75.95" width="4.32" height="7.15" fill="#f8e010"/>
<rect x="68.57" y="75.95" width="4.32" height="7.15" fill="#f8e010"/>
<rect x="73.68" y="75.95" width="4.32" height="7.15" fill="#f8e010"/>
<rect x="78.80" y="75.95" width="4.32" height="7.15" fill="#f8e010"/>
<rect x="83.92" y="75.95" width="4.32" height="7.15" fill="#f8e010"/>
<rect x="89.03" y="75.95" width="4.32" height="7.15" fill="#f8e010"/>
<rect x="94.15" y="75.95" width="4.32" height="7.15" fill="#f8e010"/>
<rect x="99.26" y="75.95" width="4.32" height="7.15" fill="#f8e010"/>
<rect x="104.38" y="75.95" width="4.32" height="7.15" fill="#f8e010"/>
<rect x="109.50" y="75.95" width="4.32" height="7.15" fill="#f8e010"/>
<rect x="114.61" y="75.95" width="4.32" height="7.15" fill="#f8e010"/>
<rect x="119.73" y="75.95" width="4.32" height="7.15" fill="#f8e010"/>
<rect x="124.85" y="75.95" width="4.32" height="7.15" fill="#f8e010"/>
<rect x="129.96" y="75.95" width="4.32" height="7.15" fill="#f8e010"/>
<rect x="135.08" y="75.95" width="4.32" height="7.15" fill="#f8e010"/>
<rect x="140.20" y="75.95" width="4.32" height="7.15" fill="#f8e010"/>
<rect x="145.31" y="75.95" width="4.32" height="7.15" fill="#f8e010"/>
<rect x="150.43" y="75.95" width="4.32" height="7.15" fill="#f8e010"/>
<rect x="155.55" y="75.95" width="4.32" height="7.15" fill="#f8e010"/>
<rect x="160.66" y="75.95" width="4.32" height="7.15" fill="#f8e010"/>
<rect x="165.78" y="75.95" width="4.32" height="7.15" fill="#f8e010"/>
<rect x="170.90" y="75.95" width="4.32" height="7.15" fill="#f8e010"/>
<rect x="176.01" y="75.95" width="4.32" height="7.15" fill="#f8e010"/>
<rect x="181.13" y="75.95" width="4.32" height="7.15" fill="#f8e010"/>
<rect x="186.25" y="75.95" width="4.32" height="7.15" fill="#f8e010"/>
<rect x="191.36" y="75.95" width="4.32" height="7.15" fill="#f8e010"/>
<rect x="196.48" y="75.95" width="4.32" height="7.15" fill="#f8e010"/>
<rect x="201.59" y="75.95" width="4.32" height="7.15" fill="#f8e010"/>
<rect x="206.71" y="75.95" width="4.32" height="7.15" fill="#f8e010"/>
<rect x="211.83" y="75.95" width="4.32" height="7.15" fill="#f8e010"/>
<rect x="216.94" y="75.95" width="4.32" height="7.15" fill="#f8e010"/>
<rect x="222.06" y="75.95" width="4.32" height="7.15" fill="#f8e010"/>
<rect x="227.18" y="75.95" width="4.32" height="7.15" fill="#f8e010"/>
<rect x="232.29" y="75.95" width="4.32" height="7.15" fill="#f8e010"/>
<rect x="237.41" y="75.95" width="4.32" height="7.15" fill="#f8e010"/>
<rect x="242.53" y="75.95" width="4.32" height="7.15" fill="#f8e010"/>
<rect x="247.64" y="75.95" width="4.32" height="7.15" fill="#f8e010"/>
<rect x="252.76" y="75.95" width="4.32" height="7.15" fill="#f8e010"/>
<rect x="257.88" y="75.95" width="4.32" height="7.15" fill="#f8e010"/>
<rect x="262.99" y="75.95" width="4.32" height="7.15" fill="#f8e010"/>
<rect x="268.11" y="75.95" width="4.32" height="7.15" fill="#f8e010"/>
<rect x="273.23" y="75.95" width="4.32" height="7.15" fill="#f8e010"/>
<rect x="278.34" y="75.95" width="4.32" height="7.15" fill="#f8e010"/>
<rect x="283.46" y="75.95" width="4.32" height="7.15" fill="#f8e010"/>
<rect x="288.57" y="75.95" width="4.32" height="7.15" fill="#f8e010"/>
<rect x="293.69" y="75.95" width="4.32" height="7.15" fill="#f8e010"/>
<rect x="298.81" y="75.95" width="4.32" height="7.15" fill="#f8e010"/>
<rect x="303.92" y="75.95" width="4.32" height="7.15" fill="#f8e010"/>
<rect x="309.04" y="75.95" width="4.32" height="7.15" fill="#f8e010"/>
<rect x="314.16" y="75.95" width="4.32" height="7.15" fill="#f8e010"/>
<rect x="319.27" y="75.95" width="4.32" height="7.15" fill="#f8e010"/>
<rect x="324.39" y="75.95" width="4.32" height="7.15" fill="#f8e010"/>
<rect x="329.51" y="75.95" width="4.32" height="7.15" fill="#f8e010"/>
<rect x="334.62" y="75.95" width="4.32" height="7.15" fill="#f8e010"/>
<rect x="339.74" y="75.95" width="4.32" height="7.15" fill="#f8e010"/>
<rect x="344.86" y="75.95" width="4.32" height="7.15" fill="#f8e010"/>
<rect x="349.97" y="75.95" width="4.32" height="7.15" fill="#f8e010"/>
<rect x="355.09" y="75.95" width="4.32" height="7.15" fill="#4650b0"/>
<rect x="360.21" y="75.95" width="4.32" height="7.15" fill="#4650b0"/>
<rect x="365.32" y="75.95" width="4.32" height="7.15" fill="#4650b0"/>
<rect x="370.44" y="75.95" width="4.32" height="7.15" fill="#4650b0"/>
<rect x="375.56" y="75.95" width="4.32" height="7.15" fill="#4650b0"/>
<rect x="380.67" y="75.95" width="4.32" height="7.15" fill="#4650b0"/>
<rect x="385.79" y="75.95" width="4.32" height="7.15" fill="#4650b0"/>
<rect x="390.91" y="75.95" width="4.32" height="7.15" fill="#4650b0"/>
<rect x="396.02" y="75.95" width="4.32" height="7.15" fill="#4650b0"/>
<rect x="401.14" y="75.95" width="4.32" height="7.15" fill="#4650b0"/>
<rect x="406.25" y="75.95" width="4.32" height="7.15" fill="#4650b0"/>
<rect x="411.37" y="75.95" width="4.32" height="7.15" fill="#4650b0"/>
<rect x="416.49" y="75.95" width="4.32" height="7.15" fill="#4650b0"/>
<rect x="421.60" y="75.95" width="4.32" height="7.15" fill="#4650b0"/>
<rect x="426.72" y="75.95" width="4.32" height="7.15" fill="#4650b0"/>
<rect x="431.84" y="75.95" width="4.32" height="7.15" fill="#4650b0"/>
<rect x="436.95" y="75.95" width="4.32" height="7.15" fill="#4650b0"/>
<rect x="442.07" y="75.95" width="4.32" height="7.15" fill="#4650b0"/>
<rect x="447.19" y="75.95" width="4.32" height="7.15" fill="#4650b0"/>
<rect x="452.30" y="75.95" width="4.32" height="7.15" fill="#4650b0"/>
<rect x="457.42" y="75.95" width="4.32" height="7.15" fill="#4650b0"/>
<rect x="462.54" y="75.95" width="4.32" height="7.15" fill="#4650b0"/>
<rect x="467.65" y="75.95" width="4.32" height="7.15" fill="#4650b0"/>
<rect x="472.77" y="75.95" width="4.32" height="7.15" fill="#4650b0"/>
<rect x="477.89" y="75.95" width="4.32" height="7.15" fill="#4650b0"/>
<rect x="483.00" y="75.95" width="4.32" height="7.15" fill="#4650b0"/>
<rect x="488.12" y="75.95" width="4.32" height="7.15" fill="#4650b0"/>
<rect x="493.24" y="75.95" width="4.32" height="7.15" fill="#4650b0"/>
<rect x="498.35" y="75.95" width="4.32" height="7.15" fill="#4650b0"/>
<rect x="503.47" y="75.95" width="4.32" height="7.15" fill="#4650b0"/>
<rect x="508.58" y="75.95" width="4.32" height="7.15" fill="#4650b0"/>
<rect x="513.70" y="75.95" width="4.32" height="7.15" fill="#4650b0"/>
<rect x="518.82" y="75.95" width="4.32" height="7.15" fill="#4650b0"/>
<rect x="523.93" y="75.95" width="4.32" height="7.15" fill="#4650b0"/>
<rect x="529.05" y="75.95" width="4.32" height="7.15" fill="#4650b0"/>
<rect x="534.17" y="75.95" width="4.32" height="7.15" fill="#4650b0"/>
<rect x="539.28" y="75.95" width="4.32" height="7.15" fill="#4650b0"/>
<rect x="544.40" y="75.95" width="4.32" height="7.15" fill="#4650b0"/>
<rect x="549.52" y="75.95" width="4.32" height="7.15" fill="#4650b0"/>
<rect x="554.63" y="75.95" width="4.32" height="7.15" fill="#4650b0"/>
<rect x="559.75" y="75.95" width="4.32" height="7.15" fill="#4650b0"/>
<rect x="564.87" y="75.95" width="4.32" height="7.15" fill="#4650b0"/>
<rect x="569.98" y="75.95" width="4.32" height="7.15" fill="#4650b0"/>
<rect x="575.10" y="75.95" width="4.32" height="7.15" fill="#4650b0"/>
<rect x="580.22" y="75.95" width="4.32" height="7.15" fill="#4650b0"/>
<rect x="585.33" y="75.95" width="4.32" height="7.15" fill="#4650b0"/>
<rect x="590.45" y="75.95" width="4.32" height="7.15" fill="#4650b0"/>
<text x="599.60" y="11.70" transform="rotate(0.03 599.60 11.70)" font-size="7.87" font-weight="700" fill="#000">HER2 FISH ratio</text>
<text x="599.60" y="22.00" transform="rotate(0.03 599.60 22.00)" font-size="7.87" font-weight="700" fill="#000">Immune score</text>
<text x="599.60" y="31.80" transform="rotate(0.03 599.60 31.80)" font-size="7.87" font-weight="700" fill="#000">HER2 IHC</text>
<text x="599.60" y="41.70" transform="rotate(0.03 599.60 41.70)" font-size="7.87" font-weight="700" fill="#000">TILs</text>
<text x="599.60" y="51.40" transform="rotate(0.03 599.60 51.40)" font-size="7.87" font-weight="700" fill="#000">Intrinsic subtype</text>
<text x="599.60" y="61.20" transform="rotate(0.03 599.60 61.20)" font-size="7.87" font-weight="700" fill="#000">Integrative subtype</text>
<text x="599.60" y="70.90" transform="rotate(0.03 599.60 70.90)" font-size="7.87" font-weight="700" fill="#000">HR status</text>
<text x="599.60" y="80.60" transform="rotate(0.03 599.60 80.60)" font-size="7.87" font-weight="700" fill="#000">pCR</text>
<text x="35.30" y="98.00" transform="rotate(0.03 35.30 98.00)" font-size="7.8" font-weight="700" fill="#000">pCR</text>
<rect x="34.30" y="103.90" width="12.00" height="11.90" fill="#4650b0" stroke="#9a9a9a" stroke-width="0.6"/>
<text x="50.60" y="112.25" transform="rotate(0.03 50.60 112.25)" font-size="7.7" stroke="#000" stroke-width="0.08" fill="#000">Yes</text>
<rect x="34.30" y="115.80" width="12.00" height="11.90" fill="#f8e010" stroke="#9a9a9a" stroke-width="0.6"/>
<text x="50.60" y="124.15" transform="rotate(0.03 50.60 124.15)" font-size="7.7" stroke="#000" stroke-width="0.08" fill="#000">No</text>
<text x="76.80" y="102.50" transform="rotate(0.03 76.80 102.50)" font-size="7.8" font-weight="700" fill="#000">HR status</text>
<rect x="75.60" y="105.60" width="12.00" height="11.90" fill="#9a3cc0" stroke="#9a9a9a" stroke-width="0.6"/>
<text x="91.70" y="113.95" transform="rotate(0.03 91.70 113.95)" font-size="7.7" stroke="#000" stroke-width="0.08" fill="#000">Positive</text>
<rect x="75.60" y="117.50" width="12.00" height="12.00" fill="#8adce8" stroke="#9a9a9a" stroke-width="0.6"/>
<text x="91.70" y="125.90" transform="rotate(0.03 91.70 125.90)" font-size="7.7" stroke="#000" stroke-width="0.08" fill="#000">Negative</text>
<text x="137.20" y="99.70" transform="rotate(0.03 137.20 99.70)" font-size="7.8" font-weight="700" fill="#000">Integrative subtype</text>
<rect x="136.60" y="102.50" width="12.00" height="11.90" fill="#e84c08" stroke="#9a9a9a" stroke-width="0.6"/>
<text x="152.10" y="110.85" transform="rotate(0.03 152.10 110.85)" font-size="7.7" stroke="#000" stroke-width="0.08" fill="#000">IC1</text>
<rect x="136.60" y="114.40" width="12.00" height="11.90" fill="#8b1a1a" stroke="#9a9a9a" stroke-width="0.6"/>
<text x="152.10" y="122.75" transform="rotate(0.03 152.10 122.75)" font-size="7.7" stroke="#000" stroke-width="0.08" fill="#000">IC5</text>
<rect x="136.60" y="126.30" width="12.00" height="11.70" fill="#e890d0" stroke="#9a9a9a" stroke-width="0.6"/>
<text x="152.10" y="134.55" transform="rotate(0.03 152.10 134.55)" font-size="7.7" stroke="#000" stroke-width="0.08" fill="#000">IC9</text>
<text x="223.90" y="99.20" transform="rotate(0.03 223.90 99.20)" font-size="7.8" font-weight="700" fill="#000">Intrinsic subtype</text>
<rect x="223.40" y="102.50" width="11.90" height="11.70" fill="#6a0dad" stroke="#9a9a9a" stroke-width="0.6"/>
<text x="238.70" y="110.75" transform="rotate(0.03 238.70 110.75)" font-size="7.7" stroke="#000" stroke-width="0.08" fill="#000">Basal</text>
<rect x="223.40" y="114.20" width="11.90" height="11.80" fill="#d4600c" stroke="#9a9a9a" stroke-width="0.6"/>
<text x="238.70" y="122.50" transform="rotate(0.03 238.70 122.50)" font-size="7.7" stroke="#000" stroke-width="0.08" fill="#000">Her2</text>
<rect x="223.40" y="126.00" width="11.90" height="11.70" fill="#5a90d0" stroke="#9a9a9a" stroke-width="0.6"/>
<text x="238.70" y="134.25" transform="rotate(0.03 238.70 134.25)" font-size="7.7" stroke="#000" stroke-width="0.08" fill="#000">LumA</text>
<rect x="223.40" y="137.70" width="11.90" height="11.70" fill="#204a90" stroke="#9a9a9a" stroke-width="0.6"/>
<text x="238.70" y="145.95" transform="rotate(0.03 238.70 145.95)" font-size="7.7" stroke="#000" stroke-width="0.08" fill="#000">LumB</text>
<rect x="223.40" y="149.40" width="11.90" height="11.60" fill="#adadad" stroke="#9a9a9a" stroke-width="0.6"/>
<text x="238.70" y="157.60" transform="rotate(0.03 238.70 157.60)" font-size="7.7" stroke="#000" stroke-width="0.08" fill="#000">Normal</text>
<text x="305.20" y="100.30" transform="rotate(0.03 305.20 100.30)" font-size="7.8" font-weight="700" fill="#000">TILs</text>
<rect x="304.40" y="103.60" width="12.10" height="11.70" fill="#5ccc5c" stroke="#9a9a9a" stroke-width="0.6"/>
<text x="320.00" y="111.85" transform="rotate(0.03 320.00 111.85)" font-size="7.7" stroke="#000" stroke-width="0.08" fill="#000">0-5%</text>
<rect x="304.40" y="115.30" width="12.10" height="11.80" fill="#e890d0" stroke="#9a9a9a" stroke-width="0.6"/>
<text x="320.00" y="123.60" transform="rotate(0.03 320.00 123.60)" font-size="7.7" stroke="#000" stroke-width="0.08" fill="#000">6-10%</text>
<rect x="304.40" y="127.10" width="12.10" height="11.70" fill="#c8b8f0" stroke="#9a9a9a" stroke-width="0.6"/>
<text x="320.00" y="135.35" transform="rotate(0.03 320.00 135.35)" font-size="7.7" stroke="#000" stroke-width="0.08" fill="#000">11-60%</text>
<text x="365.60" y="100.30" transform="rotate(0.03 365.60 100.30)" font-size="7.8" font-weight="700" fill="#000">HER2 IHC</text>
<rect x="365.70" y="103.90" width="11.90" height="11.80" fill="#70d8a8" stroke="#9a9a9a" stroke-width="0.6"/>
<text x="382.60" y="112.20" transform="rotate(0.03 382.60 112.20)" font-size="7.7" stroke="#000" stroke-width="0.08" fill="#000">1+</text>
<rect x="365.70" y="115.70" width="11.90" height="11.70" fill="#f4a800" stroke="#9a9a9a" stroke-width="0.6"/>
<text x="382.60" y="123.95" transform="rotate(0.03 382.60 123.95)" font-size="7.7" stroke="#000" stroke-width="0.08" fill="#000">2−3+</text>
<rect x="365.70" y="127.40" width="11.90" height="11.70" fill="#e888c4" stroke="#9a9a9a" stroke-width="0.6"/>
<text x="382.60" y="135.65" transform="rotate(0.03 382.60 135.65)" font-size="7.7" stroke="#000" stroke-width="0.08" fill="#000">2+</text>
<rect x="365.70" y="139.10" width="11.90" height="11.60" fill="#7cd4dc" stroke="#9a9a9a" stroke-width="0.6"/>
<text x="382.60" y="147.30" transform="rotate(0.03 382.60 147.30)" font-size="7.7" stroke="#000" stroke-width="0.08" fill="#000">3+</text>
<defs><linearGradient id="gImm" x1="0" y1="1" x2="0" y2="0"><stop offset="0" stop-color="#4575b4"/><stop offset="0.167" stop-color="#91bfdb"/><stop offset="0.333" stop-color="#e0f3f8"/><stop offset="0.45" stop-color="#fbfde6"/><stop offset="0.56" stop-color="#fff6c6"/><stop offset="0.667" stop-color="#fee090"/><stop offset="0.833" stop-color="#fc8d59"/><stop offset="1" stop-color="#d73027"/></linearGradient><linearGradient id="gFish1" x1="0" y1="1" x2="0" y2="0"><stop offset="0" stop-color="#5a40a8"/><stop offset="0.3" stop-color="#4450b0"/><stop offset="0.65" stop-color="#5a90d0"/><stop offset="1" stop-color="#7cccea"/></linearGradient><linearGradient id="gFish2" x1="0" y1="1" x2="0" y2="0"><stop offset="0" stop-color="#5cb810"/><stop offset="0.22" stop-color="#6cc010"/><stop offset="0.38" stop-color="#b4d400"/><stop offset="0.5" stop-color="#f0e000"/><stop offset="0.7" stop-color="#fcd840"/><stop offset="0.88" stop-color="#fee0a0"/><stop offset="1" stop-color="#ffe8c8"/></linearGradient><linearGradient id="gZ" x1="0" y1="0" x2="1" y2="0"><stop offset="0" stop-color="#4575b4"/><stop offset="0.167" stop-color="#91bfdb"/><stop offset="0.333" stop-color="#e0f3f8"/><stop offset="0.45" stop-color="#fbfde6"/><stop offset="0.56" stop-color="#fff6c6"/><stop offset="0.667" stop-color="#fee090"/><stop offset="0.833" stop-color="#fc8d59"/><stop offset="1" stop-color="#d73027"/></linearGradient></defs>
<text x="427.80" y="101.30" transform="rotate(0.03 427.80 101.30)" font-size="7.8" font-weight="700" fill="#000">Immune score</text>
<rect x="427.70" y="105.20" width="8.35" height="122.50" fill="url(#gImm)"/>
<text x="440.60" y="120.80" transform="rotate(0.03 440.60 120.80)" font-size="7.7" stroke="#000" stroke-width="0.08" fill="#000">0.4</text>
<text x="440.60" y="150.50" transform="rotate(0.03 440.60 150.50)" font-size="7.7" stroke="#000" stroke-width="0.08" fill="#000">0.2</text>
<text x="440.60" y="179.90" transform="rotate(0.03 440.60 179.90)" font-size="7.7" stroke="#000" stroke-width="0.08" fill="#000">0</text>
<text x="440.60" y="209.70" transform="rotate(0.03 440.60 209.70)" font-size="7.7" stroke="#000" stroke-width="0.08" fill="#000">−0.2</text>
<text x="526.00" y="100.80" transform="rotate(0.03 526.00 100.80)" font-size="7.8" font-weight="700" fill="#000">HER2 FISH ratio</text>
<rect x="526.00" y="103.50" width="8.10" height="81.00" fill="url(#gFish2)"/>
<rect x="526.00" y="184.50" width="8.10" height="41.60" fill="url(#gFish1)"/>
<text x="538.00" y="130.00" transform="rotate(0.03 538.00 130.00)" font-size="7.7" stroke="#000" stroke-width="0.08" fill="#000">15</text>
<text x="538.00" y="162.10" transform="rotate(0.03 538.00 162.10)" font-size="7.7" stroke="#000" stroke-width="0.08" fill="#000">10</text>
<text x="538.00" y="194.80" transform="rotate(0.03 538.00 194.80)" font-size="7.7" stroke="#000" stroke-width="0.08" fill="#000">5</text>
<text x="538.00" y="226.90" transform="rotate(0.03 538.00 226.90)" font-size="7.7" stroke="#000" stroke-width="0.08" fill="#000">0</text>
<text x="-0.30" y="7.90" transform="rotate(0.03 -0.30 7.90)" font-size="14" font-weight="700" fill="#000">a</text>
</g>
<g id="panel-b">
<rect x="5.15" y="261.00" width="607.01" height="62.11" fill="#9a9a9a"/>
<rect x="5.95" y="261.80" width="4.71" height="6.01" fill="#dceef7"/>
<rect x="11.46" y="261.80" width="4.71" height="6.01" fill="#dceef7"/>
<rect x="16.97" y="261.80" width="4.71" height="6.01" fill="#f7fbe4"/>
<rect x="22.48" y="261.80" width="4.71" height="6.01" fill="#f7fbe4"/>
<rect x="27.99" y="261.80" width="4.71" height="6.01" fill="#dceef7"/>
<rect x="33.50" y="261.80" width="4.71" height="6.01" fill="#fff4c0"/>
<rect x="39.02" y="261.80" width="4.71" height="6.01" fill="#f7fbe4"/>
<rect x="44.53" y="261.80" width="4.71" height="6.01" fill="#f47842"/>
<rect x="50.04" y="261.80" width="4.71" height="6.01" fill="#fff4c0"/>
<rect x="55.55" y="261.80" width="4.71" height="6.01" fill="#fca862"/>
<rect x="61.06" y="261.80" width="4.71" height="6.01" fill="#fdca84"/>
<rect x="66.57" y="261.80" width="4.71" height="6.01" fill="#fff4c0"/>
<rect x="72.08" y="261.80" width="4.71" height="6.01" fill="#fdca84"/>
<rect x="77.59" y="261.80" width="4.71" height="6.01" fill="#fff4c0"/>
<rect x="83.10" y="261.80" width="4.71" height="6.01" fill="#fee4a2"/>
<rect x="88.62" y="261.80" width="4.71" height="6.01" fill="#fee4a2"/>
<rect x="94.13" y="261.80" width="4.71" height="6.01" fill="#fee4a2"/>
<rect x="99.64" y="261.80" width="4.71" height="6.01" fill="#fff4c0"/>
<rect x="105.15" y="261.80" width="4.71" height="6.01" fill="#fee4a2"/>
<rect x="110.66" y="261.80" width="4.71" height="6.01" fill="#fee4a2"/>
<rect x="116.17" y="261.80" width="4.71" height="6.01" fill="#dceef7"/>
<rect x="121.68" y="261.80" width="4.71" height="6.01" fill="#fee4a2"/>
<rect x="127.19" y="261.80" width="4.71" height="6.01" fill="#fee4a2"/>
<rect x="132.70" y="261.80" width="4.71" height="6.01" fill="#dceef7"/>
<rect x="138.21" y="261.80" width="4.71" height="6.01" fill="#fff4c0"/>
<rect x="143.73" y="261.80" width="4.71" height="6.01" fill="#fca862"/>
<rect x="149.24" y="261.80" width="4.71" height="6.01" fill="#fff4c0"/>
<rect x="154.75" y="261.80" width="4.71" height="6.01" fill="#f7fbe4"/>
<rect x="160.26" y="261.80" width="4.71" height="6.01" fill="#fdca84"/>
<rect x="165.77" y="261.80" width="4.71" height="6.01" fill="#fee4a2"/>
<rect x="171.28" y="261.80" width="4.71" height="6.01" fill="#fee4a2"/>
<rect x="176.79" y="261.80" width="4.71" height="6.01" fill="#fff4c0"/>
<rect x="182.30" y="261.80" width="4.71" height="6.01" fill="#fff4c0"/>
<rect x="187.81" y="261.80" width="4.71" height="6.01" fill="#f7fbe4"/>
<rect x="193.32" y="261.80" width="4.71" height="6.01" fill="#fca862"/>
<rect x="198.84" y="261.80" width="4.71" height="6.01" fill="#f7fbe4"/>
<rect x="204.35" y="261.80" width="4.71" height="6.01" fill="#dceef7"/>
<rect x="209.86" y="261.80" width="4.71" height="6.01" fill="#fee4a2"/>
<rect x="215.37" y="261.80" width="4.71" height="6.01" fill="#b6d4ec"/>
<rect x="220.88" y="261.80" width="4.71" height="6.01" fill="#fff4c0"/>
<rect x="226.39" y="261.80" width="4.71" height="6.01" fill="#fee4a2"/>
<rect x="231.90" y="261.80" width="4.71" height="6.01" fill="#f7fbe4"/>
<rect x="237.41" y="261.80" width="4.71" height="6.01" fill="#fff4c0"/>
<rect x="242.92" y="261.80" width="4.71" height="6.01" fill="#f7fbe4"/>
<rect x="248.43" y="261.80" width="4.71" height="6.01" fill="#dceef7"/>
<rect x="253.95" y="261.80" width="4.71" height="6.01" fill="#fdca84"/>
<rect x="259.46" y="261.80" width="4.71" height="6.01" fill="#f7fbe4"/>
<rect x="264.97" y="261.80" width="4.71" height="6.01" fill="#fee4a2"/>
<rect x="270.48" y="261.80" width="4.71" height="6.01" fill="#fdca84"/>
<rect x="275.99" y="261.80" width="4.71" height="6.01" fill="#fdca84"/>
<rect x="281.50" y="261.80" width="4.71" height="6.01" fill="#b6d4ec"/>
<rect x="287.01" y="261.80" width="4.71" height="6.01" fill="#b6d4ec"/>
<rect x="292.52" y="261.80" width="4.71" height="6.01" fill="#dceef7"/>
<rect x="298.03" y="261.80" width="4.71" height="6.01" fill="#fff4c0"/>
<rect x="303.54" y="261.80" width="4.71" height="6.01" fill="#fee4a2"/>
<rect x="309.06" y="261.80" width="4.71" height="6.01" fill="#fff4c0"/>
<rect x="314.57" y="261.80" width="4.71" height="6.01" fill="#f47842"/>
<rect x="320.08" y="261.80" width="4.71" height="6.01" fill="#dceef7"/>
<rect x="325.59" y="261.80" width="4.71" height="6.01" fill="#fff4c0"/>
<rect x="331.10" y="261.80" width="4.71" height="6.01" fill="#fdca84"/>
<rect x="336.61" y="261.80" width="4.71" height="6.01" fill="#fee4a2"/>
<rect x="342.12" y="261.80" width="4.71" height="6.01" fill="#f7fbe4"/>
<rect x="347.63" y="261.80" width="4.71" height="6.01" fill="#fff4c0"/>
<rect x="353.14" y="261.80" width="4.71" height="6.01" fill="#fff4c0"/>
<rect x="358.65" y="261.80" width="4.71" height="6.01" fill="#f7fbe4"/>
<rect x="364.17" y="261.80" width="4.71" height="6.01" fill="#fff4c0"/>
<rect x="369.68" y="261.80" width="4.71" height="6.01" fill="#fff4c0"/>
<rect x="375.19" y="261.80" width="4.71" height="6.01" fill="#fff4c0"/>
<rect x="380.70" y="261.80" width="4.71" height="6.01" fill="#f7fbe4"/>
<rect x="386.21" y="261.80" width="4.71" height="6.01" fill="#f7fbe4"/>
<rect x="391.72" y="261.80" width="4.71" height="6.01" fill="#dceef7"/>
<rect x="397.23" y="261.80" width="4.71" height="6.01" fill="#fff4c0"/>
<rect x="402.74" y="261.80" width="4.71" height="6.01" fill="#b6d4ec"/>
<rect x="408.25" y="261.80" width="4.71" height="6.01" fill="#f7fbe4"/>
<rect x="413.76" y="261.80" width="4.71" height="6.01" fill="#fdca84"/>
<rect x="419.27" y="261.80" width="4.71" height="6.01" fill="#fff4c0"/>
<rect x="424.79" y="261.80" width="4.71" height="6.01" fill="#fff4c0"/>
<rect x="430.30" y="261.80" width="4.71" height="6.01" fill="#fff4c0"/>
<rect x="435.81" y="261.80" width="4.71" height="6.01" fill="#fff4c0"/>
<rect x="441.32" y="261.80" width="4.71" height="6.01" fill="#f7fbe4"/>
<rect x="446.83" y="261.80" width="4.71" height="6.01" fill="#f7fbe4"/>
<rect x="452.34" y="261.80" width="4.71" height="6.01" fill="#fff4c0"/>
<rect x="457.85" y="261.80" width="4.71" height="6.01" fill="#dceef7"/>
<rect x="463.36" y="261.80" width="4.71" height="6.01" fill="#fff4c0"/>
<rect x="468.87" y="261.80" width="4.71" height="6.01" fill="#fff4c0"/>
<rect x="474.38" y="261.80" width="4.71" height="6.01" fill="#fff4c0"/>
<rect x="479.90" y="261.80" width="4.71" height="6.01" fill="#f7fbe4"/>
<rect x="485.41" y="261.80" width="4.71" height="6.01" fill="#fff4c0"/>
<rect x="490.92" y="261.80" width="4.71" height="6.01" fill="#fca862"/>
<rect x="496.43" y="261.80" width="4.71" height="6.01" fill="#fff4c0"/>
<rect x="501.94" y="261.80" width="4.71" height="6.01" fill="#fff4c0"/>
<rect x="507.45" y="261.80" width="4.71" height="6.01" fill="#fdca84"/>
<rect x="512.96" y="261.80" width="4.71" height="6.01" fill="#f7fbe4"/>
<rect x="518.47" y="261.80" width="4.71" height="6.01" fill="#f7fbe4"/>
<rect x="523.98" y="261.80" width="4.71" height="6.01" fill="#fff4c0"/>
<rect x="529.49" y="261.80" width="4.71" height="6.01" fill="#fca862"/>
<rect x="535.01" y="261.80" width="4.71" height="6.01" fill="#dceef7"/>
<rect x="540.52" y="261.80" width="4.71" height="6.01" fill="#fdca84"/>
<rect x="546.03" y="261.80" width="4.71" height="6.01" fill="#f7fbe4"/>
<rect x="551.54" y="261.80" width="4.71" height="6.01" fill="#f47842"/>
<rect x="557.05" y="261.80" width="4.71" height="6.01" fill="#fff4c0"/>
<rect x="562.56" y="261.80" width="4.71" height="6.01" fill="#fff4c0"/>
<rect x="568.07" y="261.80" width="4.71" height="6.01" fill="#f7fbe4"/>
<rect x="573.58" y="261.80" width="4.71" height="6.01" fill="#b6d4ec"/>
<rect x="579.09" y="261.80" width="4.71" height="6.01" fill="#fff4c0"/>
<rect x="584.60" y="261.80" width="4.71" height="6.01" fill="#dceef7"/>
<rect x="590.12" y="261.80" width="4.71" height="6.01" fill="#f7fbe4"/>
<rect x="595.63" y="261.80" width="4.71" height="6.01" fill="#fff4c0"/>
<rect x="601.14" y="261.80" width="4.71" height="6.01" fill="#f7fbe4"/>
<rect x="606.65" y="261.80" width="4.71" height="6.01" fill="#fff4c0"/>
<rect x="5.95" y="268.61" width="4.71" height="6.01" fill="#f7fbe4"/>
<rect x="11.46" y="268.61" width="4.71" height="6.01" fill="#fee4a2"/>
<rect x="16.97" y="268.61" width="4.71" height="6.01" fill="#fff4c0"/>
<rect x="22.48" y="268.61" width="4.71" height="6.01" fill="#fff4c0"/>
<rect x="27.99" y="268.61" width="4.71" height="6.01" fill="#fff4c0"/>
<rect x="33.50" y="268.61" width="4.71" height="6.01" fill="#fee4a2"/>
<rect x="39.02" y="268.61" width="4.71" height="6.01" fill="#fee4a2"/>
<rect x="44.53" y="268.61" width="4.71" height="6.01" fill="#fdca84"/>
<rect x="50.04" y="268.61" width="4.71" height="6.01" fill="#fff4c0"/>
<rect x="55.55" y="268.61" width="4.71" height="6.01" fill="#b6d4ec"/>
<rect x="61.06" y="268.61" width="4.71" height="6.01" fill="#fca862"/>
<rect x="66.57" y="268.61" width="4.71" height="6.01" fill="#fff4c0"/>
<rect x="72.08" y="268.61" width="4.71" height="6.01" fill="#fff4c0"/>
<rect x="77.59" y="268.61" width="4.71" height="6.01" fill="#fff4c0"/>
<rect x="83.10" y="268.61" width="4.71" height="6.01" fill="#b6d4ec"/>
<rect x="88.62" y="268.61" width="4.71" height="6.01" fill="#dceef7"/>
<rect x="94.13" y="268.61" width="4.71" height="6.01" fill="#fdca84"/>
<rect x="99.64" y="268.61" width="4.71" height="6.01" fill="#fff4c0"/>
<rect x="105.15" y="268.61" width="4.71" height="6.01" fill="#fca862"/>
<rect x="110.66" y="268.61" width="4.71" height="6.01" fill="#fee4a2"/>
<rect x="116.17" y="268.61" width="4.71" height="6.01" fill="#fee4a2"/>
<rect x="121.68" y="268.61" width="4.71" height="6.01" fill="#fee4a2"/>
<rect x="127.19" y="268.61" width="4.71" height="6.01" fill="#fee4a2"/>
<rect x="132.70" y="268.61" width="4.71" height="6.01" fill="#fee4a2"/>
<rect x="138.21" y="268.61" width="4.71" height="6.01" fill="#dceef7"/>
<rect x="143.73" y="268.61" width="4.71" height="6.01" fill="#fee4a2"/>
<rect x="149.24" y="268.61" width="4.71" height="6.01" fill="#f7fbe4"/>
<rect x="154.75" y="268.61" width="4.71" height="6.01" fill="#dceef7"/>
<rect x="160.26" y="268.61" width="4.71" height="6.01" fill="#fff4c0"/>
<rect x="165.77" y="268.61" width="4.71" height="6.01" fill="#fff4c0"/>
<rect x="171.28" y="268.61" width="4.71" height="6.01" fill="#dceef7"/>
<rect x="176.79" y="268.61" width="4.71" height="6.01" fill="#fee4a2"/>
<rect x="182.30" y="268.61" width="4.71" height="6.01" fill="#fee4a2"/>
<rect x="187.81" y="268.61" width="4.71" height="6.01" fill="#fff4c0"/>
<rect x="193.32" y="268.61" width="4.71" height="6.01" fill="#fca862"/>
<rect x="198.84" y="268.61" width="4.71" height="6.01" fill="#f7fbe4"/>
<rect x="204.35" y="268.61" width="4.71" height="6.01" fill="#f7fbe4"/>
<rect x="209.86" y="268.61" width="4.71" height="6.01" fill="#dceef7"/>
<rect x="215.37" y="268.61" width="4.71" height="6.01" fill="#fff4c0"/>
<rect x="220.88" y="268.61" width="4.71" height="6.01" fill="#dceef7"/>
<rect x="226.39" y="268.61" width="4.71" height="6.01" fill="#fff4c0"/>
<rect x="231.90" y="268.61" width="4.71" height="6.01" fill="#fff4c0"/>
<rect x="237.41" y="268.61" width="4.71" height="6.01" fill="#fee4a2"/>
<rect x="242.92" y="268.61" width="4.71" height="6.01" fill="#fee4a2"/>
<rect x="248.43" y="268.61" width="4.71" height="6.01" fill="#f7fbe4"/>
<rect x="253.95" y="268.61" width="4.71" height="6.01" fill="#fee4a2"/>
<rect x="259.46" y="268.61" width="4.71" height="6.01" fill="#f7fbe4"/>
<rect x="264.97" y="268.61" width="4.71" height="6.01" fill="#f47842"/>
<rect x="270.48" y="268.61" width="4.71" height="6.01" fill="#f47842"/>
<rect x="275.99" y="268.61" width="4.71" height="6.01" fill="#f47842"/>
<rect x="281.50" y="268.61" width="4.71" height="6.01" fill="#fff4c0"/>
<rect x="287.01" y="268.61" width="4.71" height="6.01" fill="#fff4c0"/>
<rect x="292.52" y="268.61" width="4.71" height="6.01" fill="#f7fbe4"/>
<rect x="298.03" y="268.61" width="4.71" height="6.01" fill="#fee4a2"/>
<rect x="303.54" y="268.61" width="4.71" height="6.01" fill="#fff4c0"/>
<rect x="309.06" y="268.61" width="4.71" height="6.01" fill="#dceef7"/>
<rect x="314.57" y="268.61" width="4.71" height="6.01" fill="#fff4c0"/>
<rect x="320.08" y="268.61" width="4.71" height="6.01" fill="#fff4c0"/>
<rect x="325.59" y="268.61" width="4.71" height="6.01" fill="#dceef7"/>
<rect x="331.10" y="268.61" width="4.71" height="6.01" fill="#fff4c0"/>
<rect x="336.61" y="268.61" width="4.71" height="6.01" fill="#fdca84"/>
<rect x="342.12" y="268.61" width="4.71" height="6.01" fill="#fff4c0"/>
<rect x="347.63" y="268.61" width="4.71" height="6.01" fill="#fff4c0"/>
<rect x="353.14" y="268.61" width="4.71" height="6.01" fill="#fff4c0"/>
<rect x="358.65" y="268.61" width="4.71" height="6.01" fill="#f7fbe4"/>
<rect x="364.17" y="268.61" width="4.71" height="6.01" fill="#f47842"/>
<rect x="369.68" y="268.61" width="4.71" height="6.01" fill="#fee4a2"/>
<rect x="375.19" y="268.61" width="4.71" height="6.01" fill="#fee4a2"/>
<rect x="380.70" y="268.61" width="4.71" height="6.01" fill="#dceef7"/>
<rect x="386.21" y="268.61" width="4.71" height="6.01" fill="#dceef7"/>
<rect x="391.72" y="268.61" width="4.71" height="6.01" fill="#b6d4ec"/>
<rect x="397.23" y="268.61" width="4.71" height="6.01" fill="#fff4c0"/>
<rect x="402.74" y="268.61" width="4.71" height="6.01" fill="#fff4c0"/>
<rect x="408.25" y="268.61" width="4.71" height="6.01" fill="#dceef7"/>
<rect x="413.76" y="268.61" width="4.71" height="6.01" fill="#b6d4ec"/>
<rect x="419.27" y="268.61" width="4.71" height="6.01" fill="#fff4c0"/>
<rect x="424.79" y="268.61" width="4.71" height="6.01" fill="#f7fbe4"/>
<rect x="430.30" y="268.61" width="4.71" height="6.01" fill="#fff4c0"/>
<rect x="435.81" y="268.61" width="4.71" height="6.01" fill="#f7fbe4"/>
<rect x="441.32" y="268.61" width="4.71" height="6.01" fill="#dceef7"/>
<rect x="446.83" y="268.61" width="4.71" height="6.01" fill="#fee4a2"/>
<rect x="452.34" y="268.61" width="4.71" height="6.01" fill="#f7fbe4"/>
<rect x="457.85" y="268.61" width="4.71" height="6.01" fill="#dceef7"/>
<rect x="463.36" y="268.61" width="4.71" height="6.01" fill="#f7fbe4"/>
<rect x="468.87" y="268.61" width="4.71" height="6.01" fill="#fff4c0"/>
<rect x="474.38" y="268.61" width="4.71" height="6.01" fill="#fff4c0"/>
<rect x="479.90" y="268.61" width="4.71" height="6.01" fill="#f7fbe4"/>
<rect x="485.41" y="268.61" width="4.71" height="6.01" fill="#f7fbe4"/>
<rect x="490.92" y="268.61" width="4.71" height="6.01" fill="#fee4a2"/>
<rect x="496.43" y="268.61" width="4.71" height="6.01" fill="#dceef7"/>
<rect x="501.94" y="268.61" width="4.71" height="6.01" fill="#f7fbe4"/>
<rect x="507.45" y="268.61" width="4.71" height="6.01" fill="#fee4a2"/>
<rect x="512.96" y="268.61" width="4.71" height="6.01" fill="#fee4a2"/>
<rect x="518.47" y="268.61" width="4.71" height="6.01" fill="#fee4a2"/>
<rect x="523.98" y="268.61" width="4.71" height="6.01" fill="#f7fbe4"/>
<rect x="529.49" y="268.61" width="4.71" height="6.01" fill="#fca862"/>
<rect x="535.01" y="268.61" width="4.71" height="6.01" fill="#fff4c0"/>
<rect x="540.52" y="268.61" width="4.71" height="6.01" fill="#fee4a2"/>
<rect x="546.03" y="268.61" width="4.71" height="6.01" fill="#fee4a2"/>
<rect x="551.54" y="268.61" width="4.71" height="6.01" fill="#f47842"/>
<rect x="557.05" y="268.61" width="4.71" height="6.01" fill="#fee4a2"/>
<rect x="562.56" y="268.61" width="4.71" height="6.01" fill="#fff4c0"/>
<rect x="568.07" y="268.61" width="4.71" height="6.01" fill="#f7fbe4"/>
<rect x="573.58" y="268.61" width="4.71" height="6.01" fill="#f7fbe4"/>
<rect x="579.09" y="268.61" width="4.71" height="6.01" fill="#f7fbe4"/>
<rect x="584.60" y="268.61" width="4.71" height="6.01" fill="#f7fbe4"/>
<rect x="590.12" y="268.61" width="4.71" height="6.01" fill="#dceef7"/>
<rect x="595.63" y="268.61" width="4.71" height="6.01" fill="#b6d4ec"/>
<rect x="601.14" y="268.61" width="4.71" height="6.01" fill="#fee4a2"/>
<rect x="606.65" y="268.61" width="4.71" height="6.01" fill="#b6d4ec"/>
<rect x="5.95" y="275.42" width="4.71" height="6.01" fill="#5b8cc8"/>
<rect x="11.46" y="275.42" width="4.71" height="6.01" fill="#94bce0"/>
<rect x="16.97" y="275.42" width="4.71" height="6.01" fill="#94bce0"/>
<rect x="22.48" y="275.42" width="4.71" height="6.01" fill="#b6d4ec"/>
<rect x="27.99" y="275.42" width="4.71" height="6.01" fill="#b6d4ec"/>
<rect x="33.50" y="275.42" width="4.71" height="6.01" fill="#b6d4ec"/>
<rect x="39.02" y="275.42" width="4.71" height="6.01" fill="#b6d4ec"/>
<rect x="44.53" y="275.42" width="4.71" height="6.01" fill="#b6d4ec"/>
<rect x="50.04" y="275.42" width="4.71" height="6.01" fill="#b6d4ec"/>
<rect x="55.55" y="275.42" width="4.71" height="6.01" fill="#b6d4ec"/>
<rect x="61.06" y="275.42" width="4.71" height="6.01" fill="#dceef7"/>
<rect x="66.57" y="275.42" width="4.71" height="6.01" fill="#b6d4ec"/>
<rect x="72.08" y="275.42" width="4.71" height="6.01" fill="#dceef7"/>
<rect x="77.59" y="275.42" width="4.71" height="6.01" fill="#94bce0"/>
<rect x="83.10" y="275.42" width="4.71" height="6.01" fill="#b6d4ec"/>
<rect x="88.62" y="275.42" width="4.71" height="6.01" fill="#b6d4ec"/>
<rect x="94.13" y="275.42" width="4.71" height="6.01" fill="#dceef7"/>
<rect x="99.64" y="275.42" width="4.71" height="6.01" fill="#dceef7"/>
<rect x="105.15" y="275.42" width="4.71" height="6.01" fill="#b6d4ec"/>
<rect x="110.66" y="275.42" width="4.71" height="6.01" fill="#dceef7"/>
<rect x="116.17" y="275.42" width="4.71" height="6.01" fill="#dceef7"/>
<rect x="121.68" y="275.42" width="4.71" height="6.01" fill="#dceef7"/>
<rect x="127.19" y="275.42" width="4.71" height="6.01" fill="#dceef7"/>
<rect x="132.70" y="275.42" width="4.71" height="6.01" fill="#dceef7"/>
<rect x="138.21" y="275.42" width="4.71" height="6.01" fill="#f7fbe4"/>
<rect x="143.73" y="275.42" width="4.71" height="6.01" fill="#dceef7"/>
<rect x="149.24" y="275.42" width="4.71" height="6.01" fill="#f7fbe4"/>
<rect x="154.75" y="275.42" width="4.71" height="6.01" fill="#fff4c0"/>
<rect x="160.26" y="275.42" width="4.71" height="6.01" fill="#f7fbe4"/>
<rect x="165.77" y="275.42" width="4.71" height="6.01" fill="#f7fbe4"/>
<rect x="171.28" y="275.42" width="4.71" height="6.01" fill="#f7fbe4"/>
<rect x="176.79" y="275.42" width="4.71" height="6.01" fill="#fff4c0"/>
<rect x="182.30" y="275.42" width="4.71" height="6.01" fill="#fff4c0"/>
<rect x="187.81" y="275.42" width="4.71" height="6.01" fill="#fff4c0"/>
<rect x="193.32" y="275.42" width="4.71" height="6.01" fill="#fff4c0"/>
<rect x="198.84" y="275.42" width="4.71" height="6.01" fill="#fff4c0"/>
<rect x="204.35" y="275.42" width="4.71" height="6.01" fill="#f7fbe4"/>
<rect x="209.86" y="275.42" width="4.71" height="6.01" fill="#fff4c0"/>
<rect x="215.37" y="275.42" width="4.71" height="6.01" fill="#fff4c0"/>
<rect x="220.88" y="275.42" width="4.71" height="6.01" fill="#fff4c0"/>
<rect x="226.39" y="275.42" width="4.71" height="6.01" fill="#fff4c0"/>
<rect x="231.90" y="275.42" width="4.71" height="6.01" fill="#fff4c0"/>
<rect x="237.41" y="275.42" width="4.71" height="6.01" fill="#f7fbe4"/>
<rect x="242.92" y="275.42" width="4.71" height="6.01" fill="#fff4c0"/>
<rect x="248.43" y="275.42" width="4.71" height="6.01" fill="#f7fbe4"/>
<rect x="253.95" y="275.42" width="4.71" height="6.01" fill="#fee4a2"/>
<rect x="259.46" y="275.42" width="4.71" height="6.01" fill="#f7fbe4"/>
<rect x="264.97" y="275.42" width="4.71" height="6.01" fill="#fff4c0"/>
<rect x="270.48" y="275.42" width="4.71" height="6.01" fill="#fff4c0"/>
<rect x="275.99" y="275.42" width="4.71" height="6.01" fill="#dceef7"/>
<rect x="281.50" y="275.42" width="4.71" height="6.01" fill="#fee4a2"/>
<rect x="287.01" y="275.42" width="4.71" height="6.01" fill="#fff4c0"/>
<rect x="292.52" y="275.42" width="4.71" height="6.01" fill="#fff4c0"/>
<rect x="298.03" y="275.42" width="4.71" height="6.01" fill="#fff4c0"/>
<rect x="303.54" y="275.42" width="4.71" height="6.01" fill="#fff4c0"/>
<rect x="309.06" y="275.42" width="4.71" height="6.01" fill="#fee4a2"/>
<rect x="314.57" y="275.42" width="4.71" height="6.01" fill="#fee4a2"/>
<rect x="320.08" y="275.42" width="4.71" height="6.01" fill="#fff4c0"/>
<rect x="325.59" y="275.42" width="4.71" height="6.01" fill="#fee4a2"/>
<rect x="331.10" y="275.42" width="4.71" height="6.01" fill="#fff4c0"/>
<rect x="336.61" y="275.42" width="4.71" height="6.01" fill="#fee4a2"/>
<rect x="342.12" y="275.42" width="4.71" height="6.01" fill="#fff4c0"/>
<rect x="347.63" y="275.42" width="4.71" height="6.01" fill="#fff4c0"/>
<rect x="353.14" y="275.42" width="4.71" height="6.01" fill="#fff4c0"/>
<rect x="358.65" y="275.42" width="4.71" height="6.01" fill="#fff4c0"/>
<rect x="364.17" y="275.42" width="4.71" height="6.01" fill="#fee4a2"/>
<rect x="369.68" y="275.42" width="4.71" height="6.01" fill="#fee4a2"/>
<rect x="375.19" y="275.42" width="4.71" height="6.01" fill="#fee4a2"/>
<rect x="380.70" y="275.42" width="4.71" height="6.01" fill="#fee4a2"/>
<rect x="386.21" y="275.42" width="4.71" height="6.01" fill="#fee4a2"/>
<rect x="391.72" y="275.42" width="4.71" height="6.01" fill="#fee4a2"/>
<rect x="397.23" y="275.42" width="4.71" height="6.01" fill="#fee4a2"/>
<rect x="402.74" y="275.42" width="4.71" height="6.01" fill="#fee4a2"/>
<rect x="408.25" y="275.42" width="4.71" height="6.01" fill="#fee4a2"/>
<rect x="413.76" y="275.42" width="4.71" height="6.01" fill="#fff4c0"/>
<rect x="419.27" y="275.42" width="4.71" height="6.01" fill="#fee4a2"/>
<rect x="424.79" y="275.42" width="4.71" height="6.01" fill="#fee4a2"/>
<rect x="430.30" y="275.42" width="4.71" height="6.01" fill="#dceef7"/>
<rect x="435.81" y="275.42" width="4.71" height="6.01" fill="#fee4a2"/>
<rect x="441.32" y="275.42" width="4.71" height="6.01" fill="#fee4a2"/>
<rect x="446.83" y="275.42" width="4.71" height="6.01" fill="#fee4a2"/>
<rect x="452.34" y="275.42" width="4.71" height="6.01" fill="#fff4c0"/>
<rect x="457.85" y="275.42" width="4.71" height="6.01" fill="#f7fbe4"/>
<rect x="463.36" y="275.42" width="4.71" height="6.01" fill="#fee4a2"/>
<rect x="468.87" y="275.42" width="4.71" height="6.01" fill="#fdca84"/>
<rect x="474.38" y="275.42" width="4.71" height="6.01" fill="#fdca84"/>
<rect x="479.90" y="275.42" width="4.71" height="6.01" fill="#fee4a2"/>
<rect x="485.41" y="275.42" width="4.71" height="6.01" fill="#fee4a2"/>
<rect x="490.92" y="275.42" width="4.71" height="6.01" fill="#fee4a2"/>
<rect x="496.43" y="275.42" width="4.71" height="6.01" fill="#fee4a2"/>
<rect x="501.94" y="275.42" width="4.71" height="6.01" fill="#fdca84"/>
<rect x="507.45" y="275.42" width="4.71" height="6.01" fill="#fdca84"/>
<rect x="512.96" y="275.42" width="4.71" height="6.01" fill="#fee4a2"/>
<rect x="518.47" y="275.42" width="4.71" height="6.01" fill="#fee4a2"/>
<rect x="523.98" y="275.42" width="4.71" height="6.01" fill="#fdca84"/>
<rect x="529.49" y="275.42" width="4.71" height="6.01" fill="#fdca84"/>
<rect x="535.01" y="275.42" width="4.71" height="6.01" fill="#fdca84"/>
<rect x="540.52" y="275.42" width="4.71" height="6.01" fill="#fee4a2"/>
<rect x="546.03" y="275.42" width="4.71" height="6.01" fill="#fee4a2"/>
<rect x="551.54" y="275.42" width="4.71" height="6.01" fill="#fdca84"/>
<rect x="557.05" y="275.42" width="4.71" height="6.01" fill="#fdca84"/>
<rect x="562.56" y="275.42" width="4.71" height="6.01" fill="#fdca84"/>
<rect x="568.07" y="275.42" width="4.71" height="6.01" fill="#fee4a2"/>
<rect x="573.58" y="275.42" width="4.71" height="6.01" fill="#fdca84"/>
<rect x="579.09" y="275.42" width="4.71" height="6.01" fill="#fdca84"/>
<rect x="584.60" y="275.42" width="4.71" height="6.01" fill="#fdca84"/>
<rect x="590.12" y="275.42" width="4.71" height="6.01" fill="#fca862"/>
<rect x="595.63" y="275.42" width="4.71" height="6.01" fill="#fca862"/>
<rect x="601.14" y="275.42" width="4.71" height="6.01" fill="#fdca84"/>
<rect x="606.65" y="275.42" width="4.71" height="6.01" fill="#fee4a2"/>
<rect x="5.95" y="282.24" width="4.71" height="6.01" fill="#94bce0"/>
<rect x="11.46" y="282.24" width="4.71" height="6.01" fill="#b6d4ec"/>
<rect x="16.97" y="282.24" width="4.71" height="6.01" fill="#dceef7"/>
<rect x="22.48" y="282.24" width="4.71" height="6.01" fill="#b6d4ec"/>
<rect x="27.99" y="282.24" width="4.71" height="6.01" fill="#94bce0"/>
<rect x="33.50" y="282.24" width="4.71" height="6.01" fill="#b6d4ec"/>
<rect x="39.02" y="282.24" width="4.71" height="6.01" fill="#dceef7"/>
<rect x="44.53" y="282.24" width="4.71" height="6.01" fill="#fff4c0"/>
<rect x="50.04" y="282.24" width="4.71" height="6.01" fill="#b6d4ec"/>
<rect x="55.55" y="282.24" width="4.71" height="6.01" fill="#dceef7"/>
<rect x="61.06" y="282.24" width="4.71" height="6.01" fill="#dceef7"/>
<rect x="66.57" y="282.24" width="4.71" height="6.01" fill="#b6d4ec"/>
<rect x="72.08" y="282.24" width="4.71" height="6.01" fill="#dceef7"/>
<rect x="77.59" y="282.24" width="4.71" height="6.01" fill="#dceef7"/>
<rect x="83.10" y="282.24" width="4.71" height="6.01" fill="#b6d4ec"/>
<rect x="88.62" y="282.24" width="4.71" height="6.01" fill="#dceef7"/>
<rect x="94.13" y="282.24" width="4.71" height="6.01" fill="#dceef7"/>
<rect x="99.64" y="282.24" width="4.71" height="6.01" fill="#dceef7"/>
<rect x="105.15" y="282.24" width="4.71" height="6.01" fill="#dceef7"/>
<rect x="110.66" y="282.24" width="4.71" height="6.01" fill="#dceef7"/>
<rect x="116.17" y="282.24" width="4.71" height="6.01" fill="#f7fbe4"/>
<rect x="121.68" y="282.24" width="4.71" height="6.01" fill="#dceef7"/>
<rect x="127.19" y="282.24" width="4.71" height="6.01" fill="#dceef7"/>
<rect x="132.70" y="282.24" width="4.71" height="6.01" fill="#dceef7"/>
<rect x="138.21" y="282.24" width="4.71" height="6.01" fill="#dceef7"/>
<rect x="143.73" y="282.24" width="4.71" height="6.01" fill="#f7fbe4"/>
<rect x="149.24" y="282.24" width="4.71" height="6.01" fill="#dceef7"/>
<rect x="154.75" y="282.24" width="4.71" height="6.01" fill="#f7fbe4"/>
<rect x="160.26" y="282.24" width="4.71" height="6.01" fill="#f7fbe4"/>
<rect x="165.77" y="282.24" width="4.71" height="6.01" fill="#dceef7"/>
<rect x="171.28" y="282.24" width="4.71" height="6.01" fill="#fff4c0"/>
<rect x="176.79" y="282.24" width="4.71" height="6.01" fill="#fff4c0"/>
<rect x="182.30" y="282.24" width="4.71" height="6.01" fill="#fee4a2"/>
<rect x="187.81" y="282.24" width="4.71" height="6.01" fill="#f7fbe4"/>
<rect x="193.32" y="282.24" width="4.71" height="6.01" fill="#fff4c0"/>
<rect x="198.84" y="282.24" width="4.71" height="6.01" fill="#fff4c0"/>
<rect x="204.35" y="282.24" width="4.71" height="6.01" fill="#f7fbe4"/>
<rect x="209.86" y="282.24" width="4.71" height="6.01" fill="#dceef7"/>
<rect x="215.37" y="282.24" width="4.71" height="6.01" fill="#fff4c0"/>
<rect x="220.88" y="282.24" width="4.71" height="6.01" fill="#fff4c0"/>
<rect x="226.39" y="282.24" width="4.71" height="6.01" fill="#fff4c0"/>
<rect x="231.90" y="282.24" width="4.71" height="6.01" fill="#fff4c0"/>
<rect x="237.41" y="282.24" width="4.71" height="6.01" fill="#fff4c0"/>
<rect x="242.92" y="282.24" width="4.71" height="6.01" fill="#fff4c0"/>
<rect x="248.43" y="282.24" width="4.71" height="6.01" fill="#f7fbe4"/>
<rect x="253.95" y="282.24" width="4.71" height="6.01" fill="#fff4c0"/>
<rect x="259.46" y="282.24" width="4.71" height="6.01" fill="#dceef7"/>
<rect x="264.97" y="282.24" width="4.71" height="6.01" fill="#fff4c0"/>
<rect x="270.48" y="282.24" width="4.71" height="6.01" fill="#f7fbe4"/>
<rect x="275.99" y="282.24" width="4.71" height="6.01" fill="#f7fbe4"/>
<rect x="281.50" y="282.24" width="4.71" height="6.01" fill="#fff4c0"/>
<rect x="287.01" y="282.24" width="4.71" height="6.01" fill="#fff4c0"/>
<rect x="292.52" y="282.24" width="4.71" height="6.01" fill="#f7fbe4"/>
<rect x="298.03" y="282.24" width="4.71" height="6.01" fill="#fff4c0"/>
<rect x="303.54" y="282.24" width="4.71" height="6.01" fill="#fff4c0"/>
<rect x="309.06" y="282.24" width="4.71" height="6.01" fill="#fdca84"/>
<rect x="314.57" y="282.24" width="4.71" height="6.01" fill="#fff4c0"/>
<rect x="320.08" y="282.24" width="4.71" height="6.01" fill="#fee4a2"/>
<rect x="325.59" y="282.24" width="4.71" height="6.01" fill="#fff4c0"/>
<rect x="331.10" y="282.24" width="4.71" height="6.01" fill="#fff4c0"/>
<rect x="336.61" y="282.24" width="4.71" height="6.01" fill="#fff4c0"/>
<rect x="342.12" y="282.24" width="4.71" height="6.01" fill="#fff4c0"/>
<rect x="347.63" y="282.24" width="4.71" height="6.01" fill="#fff4c0"/>
<rect x="353.14" y="282.24" width="4.71" height="6.01" fill="#fff4c0"/>
<rect x="358.65" y="282.24" width="4.71" height="6.01" fill="#fff4c0"/>
<rect x="364.17" y="282.24" width="4.71" height="6.01" fill="#fee4a2"/>
<rect x="369.68" y="282.24" width="4.71" height="6.01" fill="#fee4a2"/>
<rect x="375.19" y="282.24" width="4.71" height="6.01" fill="#fee4a2"/>
<rect x="380.70" y="282.24" width="4.71" height="6.01" fill="#fee4a2"/>
<rect x="386.21" y="282.24" width="4.71" height="6.01" fill="#fee4a2"/>
<rect x="391.72" y="282.24" width="4.71" height="6.01" fill="#fee4a2"/>
<rect x="397.23" y="282.24" width="4.71" height="6.01" fill="#fee4a2"/>
<rect x="402.74" y="282.24" width="4.71" height="6.01" fill="#fee4a2"/>
<rect x="408.25" y="282.24" width="4.71" height="6.01" fill="#fee4a2"/>
<rect x="413.76" y="282.24" width="4.71" height="6.01" fill="#f7fbe4"/>
<rect x="419.27" y="282.24" width="4.71" height="6.01" fill="#fdca84"/>
<rect x="424.79" y="282.24" width="4.71" height="6.01" fill="#fee4a2"/>
<rect x="430.30" y="282.24" width="4.71" height="6.01" fill="#fee4a2"/>
<rect x="435.81" y="282.24" width="4.71" height="6.01" fill="#fee4a2"/>
<rect x="441.32" y="282.24" width="4.71" height="6.01" fill="#fee4a2"/>
<rect x="446.83" y="282.24" width="4.71" height="6.01" fill="#fee4a2"/>
<rect x="452.34" y="282.24" width="4.71" height="6.01" fill="#fff4c0"/>
<rect x="457.85" y="282.24" width="4.71" height="6.01" fill="#fee4a2"/>
<rect x="463.36" y="282.24" width="4.71" height="6.01" fill="#fee4a2"/>
<rect x="468.87" y="282.24" width="4.71" height="6.01" fill="#fee4a2"/>
<rect x="474.38" y="282.24" width="4.71" height="6.01" fill="#fee4a2"/>
<rect x="479.90" y="282.24" width="4.71" height="6.01" fill="#fdca84"/>
<rect x="485.41" y="282.24" width="4.71" height="6.01" fill="#fee4a2"/>
<rect x="490.92" y="282.24" width="4.71" height="6.01" fill="#fee4a2"/>
<rect x="496.43" y="282.24" width="4.71" height="6.01" fill="#fdca84"/>
<rect x="501.94" y="282.24" width="4.71" height="6.01" fill="#fdca84"/>
<rect x="507.45" y="282.24" width="4.71" height="6.01" fill="#fee4a2"/>
<rect x="512.96" y="282.24" width="4.71" height="6.01" fill="#fee4a2"/>
<rect x="518.47" y="282.24" width="4.71" height="6.01" fill="#fff4c0"/>
<rect x="523.98" y="282.24" width="4.71" height="6.01" fill="#fee4a2"/>
<rect x="529.49" y="282.24" width="4.71" height="6.01" fill="#fee4a2"/>
<rect x="535.01" y="282.24" width="4.71" height="6.01" fill="#fee4a2"/>
<rect x="540.52" y="282.24" width="4.71" height="6.01" fill="#fdca84"/>
<rect x="546.03" y="282.24" width="4.71" height="6.01" fill="#fdca84"/>
<rect x="551.54" y="282.24" width="4.71" height="6.01" fill="#fee4a2"/>
<rect x="557.05" y="282.24" width="4.71" height="6.01" fill="#fff4c0"/>
<rect x="562.56" y="282.24" width="4.71" height="6.01" fill="#fee4a2"/>
<rect x="568.07" y="282.24" width="4.71" height="6.01" fill="#fdca84"/>
<rect x="573.58" y="282.24" width="4.71" height="6.01" fill="#f47842"/>
<rect x="579.09" y="282.24" width="4.71" height="6.01" fill="#fdca84"/>
<rect x="584.60" y="282.24" width="4.71" height="6.01" fill="#fee4a2"/>
<rect x="590.12" y="282.24" width="4.71" height="6.01" fill="#fdca84"/>
<rect x="595.63" y="282.24" width="4.71" height="6.01" fill="#fca862"/>
<rect x="601.14" y="282.24" width="4.71" height="6.01" fill="#fdca84"/>
<rect x="606.65" y="282.24" width="4.71" height="6.01" fill="#fca862"/>
<rect x="5.95" y="289.05" width="4.71" height="6.01" fill="#5b8cc8"/>
<rect x="11.46" y="289.05" width="4.71" height="6.01" fill="#94bce0"/>
<rect x="16.97" y="289.05" width="4.71" height="6.01" fill="#94bce0"/>
<rect x="22.48" y="289.05" width="4.71" height="6.01" fill="#94bce0"/>
<rect x="27.99" y="289.05" width="4.71" height="6.01" fill="#94bce0"/>
<rect x="33.50" y="289.05" width="4.71" height="6.01" fill="#94bce0"/>
<rect x="39.02" y="289.05" width="4.71" height="6.01" fill="#b6d4ec"/>
<rect x="44.53" y="289.05" width="4.71" height="6.01" fill="#b6d4ec"/>
<rect x="50.04" y="289.05" width="4.71" height="6.01" fill="#b6d4ec"/>
<rect x="55.55" y="289.05" width="4.71" height="6.01" fill="#b6d4ec"/>
<rect x="61.06" y="289.05" width="4.71" height="6.01" fill="#b6d4ec"/>
<rect x="66.57" y="289.05" width="4.71" height="6.01" fill="#b6d4ec"/>
<rect x="72.08" y="289.05" width="4.71" height="6.01" fill="#b6d4ec"/>
<rect x="77.59" y="289.05" width="4.71" height="6.01" fill="#b6d4ec"/>
<rect x="83.10" y="289.05" width="4.71" height="6.01" fill="#b6d4ec"/>
<rect x="88.62" y="289.05" width="4.71" height="6.01" fill="#b6d4ec"/>
<rect x="94.13" y="289.05" width="4.71" height="6.01" fill="#dceef7"/>
<rect x="99.64" y="289.05" width="4.71" height="6.01" fill="#dceef7"/>
<rect x="105.15" y="289.05" width="4.71" height="6.01" fill="#dceef7"/>
<rect x="110.66" y="289.05" width="4.71" height="6.01" fill="#dceef7"/>
<rect x="116.17" y="289.05" width="4.71" height="6.01" fill="#dceef7"/>
<rect x="121.68" y="289.05" width="4.71" height="6.01" fill="#dceef7"/>
<rect x="127.19" y="289.05" width="4.71" height="6.01" fill="#f7fbe4"/>
<rect x="132.70" y="289.05" width="4.71" height="6.01" fill="#f7fbe4"/>
<rect x="138.21" y="289.05" width="4.71" height="6.01" fill="#f7fbe4"/>
<rect x="143.73" y="289.05" width="4.71" height="6.01" fill="#f7fbe4"/>
<rect x="149.24" y="289.05" width="4.71" height="6.01" fill="#f7fbe4"/>
<rect x="154.75" y="289.05" width="4.71" height="6.01" fill="#f7fbe4"/>
<rect x="160.26" y="289.05" width="4.71" height="6.01" fill="#f7fbe4"/>
<rect x="165.77" y="289.05" width="4.71" height="6.01" fill="#f7fbe4"/>
<rect x="171.28" y="289.05" width="4.71" height="6.01" fill="#f7fbe4"/>
<rect x="176.79" y="289.05" width="4.71" height="6.01" fill="#fff4c0"/>
<rect x="182.30" y="289.05" width="4.71" height="6.01" fill="#fff4c0"/>
<rect x="187.81" y="289.05" width="4.71" height="6.01" fill="#fff4c0"/>
<rect x="193.32" y="289.05" width="4.71" height="6.01" fill="#fff4c0"/>
<rect x="198.84" y="289.05" width="4.71" height="6.01" fill="#fff4c0"/>
<rect x="204.35" y="289.05" width="4.71" height="6.01" fill="#fff4c0"/>
<rect x="209.86" y="289.05" width="4.71" height="6.01" fill="#fff4c0"/>
<rect x="215.37" y="289.05" width="4.71" height="6.01" fill="#fff4c0"/>
<rect x="220.88" y="289.05" width="4.71" height="6.01" fill="#fff4c0"/>
<rect x="226.39" y="289.05" width="4.71" height="6.01" fill="#fff4c0"/>
<rect x="231.90" y="289.05" width="4.71" height="6.01" fill="#fff4c0"/>
<rect x="237.41" y="289.05" width="4.71" height="6.01" fill="#fff4c0"/>
<rect x="242.92" y="289.05" width="4.71" height="6.01" fill="#fff4c0"/>
<rect x="248.43" y="289.05" width="4.71" height="6.01" fill="#fff4c0"/>
<rect x="253.95" y="289.05" width="4.71" height="6.01" fill="#fff4c0"/>
<rect x="259.46" y="289.05" width="4.71" height="6.01" fill="#fff4c0"/>
<rect x="264.97" y="289.05" width="4.71" height="6.01" fill="#fff4c0"/>
<rect x="270.48" y="289.05" width="4.71" height="6.01" fill="#fff4c0"/>
<rect x="275.99" y="289.05" width="4.71" height="6.01" fill="#fff4c0"/>
<rect x="281.50" y="289.05" width="4.71" height="6.01" fill="#fff4c0"/>
<rect x="287.01" y="289.05" width="4.71" height="6.01" fill="#fff4c0"/>
<rect x="292.52" y="289.05" width="4.71" height="6.01" fill="#fff4c0"/>
<rect x="298.03" y="289.05" width="4.71" height="6.01" fill="#fff4c0"/>
<rect x="303.54" y="289.05" width="4.71" height="6.01" fill="#fff4c0"/>
<rect x="309.06" y="289.05" width="4.71" height="6.01" fill="#fff4c0"/>
<rect x="314.57" y="289.05" width="4.71" height="6.01" fill="#fff4c0"/>
<rect x="320.08" y="289.05" width="4.71" height="6.01" fill="#fff4c0"/>
<rect x="325.59" y="289.05" width="4.71" height="6.01" fill="#fee4a2"/>
<rect x="331.10" y="289.05" width="4.71" height="6.01" fill="#fee4a2"/>
<rect x="336.61" y="289.05" width="4.71" height="6.01" fill="#fee4a2"/>
<rect x="342.12" y="289.05" width="4.71" height="6.01" fill="#fee4a2"/>
<rect x="347.63" y="289.05" width="4.71" height="6.01" fill="#fee4a2"/>
<rect x="353.14" y="289.05" width="4.71" height="6.01" fill="#fee4a2"/>
<rect x="358.65" y="289.05" width="4.71" height="6.01" fill="#fee4a2"/>
<rect x="364.17" y="289.05" width="4.71" height="6.01" fill="#fee4a2"/>
<rect x="369.68" y="289.05" width="4.71" height="6.01" fill="#fee4a2"/>
<rect x="375.19" y="289.05" width="4.71" height="6.01" fill="#fee4a2"/>
<rect x="380.70" y="289.05" width="4.71" height="6.01" fill="#fee4a2"/>
<rect x="386.21" y="289.05" width="4.71" height="6.01" fill="#fee4a2"/>
<rect x="391.72" y="289.05" width="4.71" height="6.01" fill="#fee4a2"/>
<rect x="397.23" y="289.05" width="4.71" height="6.01" fill="#fee4a2"/>
<rect x="402.74" y="289.05" width="4.71" height="6.01" fill="#fee4a2"/>
<rect x="408.25" y="289.05" width="4.71" height="6.01" fill="#fee4a2"/>
<rect x="413.76" y="289.05" width="4.71" height="6.01" fill="#fee4a2"/>
<rect x="419.27" y="289.05" width="4.71" height="6.01" fill="#fee4a2"/>
<rect x="424.79" y="289.05" width="4.71" height="6.01" fill="#fee4a2"/>
<rect x="430.30" y="289.05" width="4.71" height="6.01" fill="#fee4a2"/>
<rect x="435.81" y="289.05" width="4.71" height="6.01" fill="#fee4a2"/>
<rect x="441.32" y="289.05" width="4.71" height="6.01" fill="#fee4a2"/>
<rect x="446.83" y="289.05" width="4.71" height="6.01" fill="#fee4a2"/>
<rect x="452.34" y="289.05" width="4.71" height="6.01" fill="#fee4a2"/>
<rect x="457.85" y="289.05" width="4.71" height="6.01" fill="#fee4a2"/>
<rect x="463.36" y="289.05" width="4.71" height="6.01" fill="#fee4a2"/>
<rect x="468.87" y="289.05" width="4.71" height="6.01" fill="#fee4a2"/>
<rect x="474.38" y="289.05" width="4.71" height="6.01" fill="#fee4a2"/>
<rect x="479.90" y="289.05" width="4.71" height="6.01" fill="#fee4a2"/>
<rect x="485.41" y="289.05" width="4.71" height="6.01" fill="#fee4a2"/>
<rect x="490.92" y="289.05" width="4.71" height="6.01" fill="#fee4a2"/>
<rect x="496.43" y="289.05" width="4.71" height="6.01" fill="#fee4a2"/>
<rect x="501.94" y="289.05" width="4.71" height="6.01" fill="#fee4a2"/>
<rect x="507.45" y="289.05" width="4.71" height="6.01" fill="#fee4a2"/>
<rect x="512.96" y="289.05" width="4.71" height="6.01" fill="#fee4a2"/>
<rect x="518.47" y="289.05" width="4.71" height="6.01" fill="#fee4a2"/>
<rect x="523.98" y="289.05" width="4.71" height="6.01" fill="#fdca84"/>
<rect x="529.49" y="289.05" width="4.71" height="6.01" fill="#fdca84"/>
<rect x="535.01" y="289.05" width="4.71" height="6.01" fill="#fdca84"/>
<rect x="540.52" y="289.05" width="4.71" height="6.01" fill="#fdca84"/>
<rect x="546.03" y="289.05" width="4.71" height="6.01" fill="#fdca84"/>
<rect x="551.54" y="289.05" width="4.71" height="6.01" fill="#fdca84"/>
<rect x="557.05" y="289.05" width="4.71" height="6.01" fill="#fdca84"/>
<rect x="562.56" y="289.05" width="4.71" height="6.01" fill="#fdca84"/>
<rect x="568.07" y="289.05" width="4.71" height="6.01" fill="#fdca84"/>
<rect x="573.58" y="289.05" width="4.71" height="6.01" fill="#fdca84"/>
<rect x="579.09" y="289.05" width="4.71" height="6.01" fill="#fdca84"/>
<rect x="584.60" y="289.05" width="4.71" height="6.01" fill="#fdca84"/>
<rect x="590.12" y="289.05" width="4.71" height="6.01" fill="#fdca84"/>
<rect x="595.63" y="289.05" width="4.71" height="6.01" fill="#fca862"/>
<rect x="601.14" y="289.05" width="4.71" height="6.01" fill="#fca862"/>
<rect x="606.65" y="289.05" width="4.71" height="6.01" fill="#fca862"/>
<rect x="5.95" y="295.86" width="4.71" height="6.01" fill="#94bce0"/>
<rect x="11.46" y="295.86" width="4.71" height="6.01" fill="#b6d4ec"/>
<rect x="16.97" y="295.86" width="4.71" height="6.01" fill="#b6d4ec"/>
<rect x="22.48" y="295.86" width="4.71" height="6.01" fill="#b6d4ec"/>
<rect x="27.99" y="295.86" width="4.71" height="6.01" fill="#b6d4ec"/>
<rect x="33.50" y="295.86" width="4.71" height="6.01" fill="#b6d4ec"/>
<rect x="39.02" y="295.86" width="4.71" height="6.01" fill="#dceef7"/>
<rect x="44.53" y="295.86" width="4.71" height="6.01" fill="#dceef7"/>
<rect x="50.04" y="295.86" width="4.71" height="6.01" fill="#dceef7"/>
<rect x="55.55" y="295.86" width="4.71" height="6.01" fill="#dceef7"/>
<rect x="61.06" y="295.86" width="4.71" height="6.01" fill="#dceef7"/>
<rect x="66.57" y="295.86" width="4.71" height="6.01" fill="#dceef7"/>
<rect x="72.08" y="295.86" width="4.71" height="6.01" fill="#f7fbe4"/>
<rect x="77.59" y="295.86" width="4.71" height="6.01" fill="#dceef7"/>
<rect x="83.10" y="295.86" width="4.71" height="6.01" fill="#b6d4ec"/>
<rect x="88.62" y="295.86" width="4.71" height="6.01" fill="#dceef7"/>
<rect x="94.13" y="295.86" width="4.71" height="6.01" fill="#fff4c0"/>
<rect x="99.64" y="295.86" width="4.71" height="6.01" fill="#dceef7"/>
<rect x="105.15" y="295.86" width="4.71" height="6.01" fill="#dceef7"/>
<rect x="110.66" y="295.86" width="4.71" height="6.01" fill="#f7fbe4"/>
<rect x="116.17" y="295.86" width="4.71" height="6.01" fill="#f7fbe4"/>
<rect x="121.68" y="295.86" width="4.71" height="6.01" fill="#dceef7"/>
<rect x="127.19" y="295.86" width="4.71" height="6.01" fill="#dceef7"/>
<rect x="132.70" y="295.86" width="4.71" height="6.01" fill="#f7fbe4"/>
<rect x="138.21" y="295.86" width="4.71" height="6.01" fill="#f7fbe4"/>
<rect x="143.73" y="295.86" width="4.71" height="6.01" fill="#fff4c0"/>
<rect x="149.24" y="295.86" width="4.71" height="6.01" fill="#f7fbe4"/>
<rect x="154.75" y="295.86" width="4.71" height="6.01" fill="#dceef7"/>
<rect x="160.26" y="295.86" width="4.71" height="6.01" fill="#fff4c0"/>
<rect x="165.77" y="295.86" width="4.71" height="6.01" fill="#f7fbe4"/>
<rect x="171.28" y="295.86" width="4.71" height="6.01" fill="#dceef7"/>
<rect x="176.79" y="295.86" width="4.71" height="6.01" fill="#fff4c0"/>
<rect x="182.30" y="295.86" width="4.71" height="6.01" fill="#f7fbe4"/>
<rect x="187.81" y="295.86" width="4.71" height="6.01" fill="#fff4c0"/>
<rect x="193.32" y="295.86" width="4.71" height="6.01" fill="#fff4c0"/>
<rect x="198.84" y="295.86" width="4.71" height="6.01" fill="#fff4c0"/>
<rect x="204.35" y="295.86" width="4.71" height="6.01" fill="#fff4c0"/>
<rect x="209.86" y="295.86" width="4.71" height="6.01" fill="#f7fbe4"/>
<rect x="215.37" y="295.86" width="4.71" height="6.01" fill="#fff4c0"/>
<rect x="220.88" y="295.86" width="4.71" height="6.01" fill="#fff4c0"/>
<rect x="226.39" y="295.86" width="4.71" height="6.01" fill="#fff4c0"/>
<rect x="231.90" y="295.86" width="4.71" height="6.01" fill="#fff4c0"/>
<rect x="237.41" y="295.86" width="4.71" height="6.01" fill="#b6d4ec"/>
<rect x="242.92" y="295.86" width="4.71" height="6.01" fill="#fff4c0"/>
<rect x="248.43" y="295.86" width="4.71" height="6.01" fill="#fff4c0"/>
<rect x="253.95" y="295.86" width="4.71" height="6.01" fill="#fff4c0"/>
<rect x="259.46" y="295.86" width="4.71" height="6.01" fill="#fff4c0"/>
<rect x="264.97" y="295.86" width="4.71" height="6.01" fill="#f7fbe4"/>
<rect x="270.48" y="295.86" width="4.71" height="6.01" fill="#fff4c0"/>
<rect x="275.99" y="295.86" width="4.71" height="6.01" fill="#fff4c0"/>
<rect x="281.50" y="295.86" width="4.71" height="6.01" fill="#fff4c0"/>
<rect x="287.01" y="295.86" width="4.71" height="6.01" fill="#fff4c0"/>
<rect x="292.52" y="295.86" width="4.71" height="6.01" fill="#f7fbe4"/>
<rect x="298.03" y="295.86" width="4.71" height="6.01" fill="#fee4a2"/>
<rect x="303.54" y="295.86" width="4.71" height="6.01" fill="#fff4c0"/>
<rect x="309.06" y="295.86" width="4.71" height="6.01" fill="#fee4a2"/>
<rect x="314.57" y="295.86" width="4.71" height="6.01" fill="#fff4c0"/>
<rect x="320.08" y="295.86" width="4.71" height="6.01" fill="#fff4c0"/>
<rect x="325.59" y="295.86" width="4.71" height="6.01" fill="#fff4c0"/>
<rect x="331.10" y="295.86" width="4.71" height="6.01" fill="#fff4c0"/>
<rect x="336.61" y="295.86" width="4.71" height="6.01" fill="#fee4a2"/>
<rect x="342.12" y="295.86" width="4.71" height="6.01" fill="#fff4c0"/>
<rect x="347.63" y="295.86" width="4.71" height="6.01" fill="#fff4c0"/>
<rect x="353.14" y="295.86" width="4.71" height="6.01" fill="#fff4c0"/>
<rect x="358.65" y="295.86" width="4.71" height="6.01" fill="#b6d4ec"/>
<rect x="364.17" y="295.86" width="4.71" height="6.01" fill="#fee4a2"/>
<rect x="369.68" y="295.86" width="4.71" height="6.01" fill="#fee4a2"/>
<rect x="375.19" y="295.86" width="4.71" height="6.01" fill="#fee4a2"/>
<rect x="380.70" y="295.86" width="4.71" height="6.01" fill="#fee4a2"/>
<rect x="386.21" y="295.86" width="4.71" height="6.01" fill="#fff4c0"/>
<rect x="391.72" y="295.86" width="4.71" height="6.01" fill="#fee4a2"/>
<rect x="397.23" y="295.86" width="4.71" height="6.01" fill="#fee4a2"/>
<rect x="402.74" y="295.86" width="4.71" height="6.01" fill="#fee4a2"/>
<rect x="408.25" y="295.86" width="4.71" height="6.01" fill="#fee4a2"/>
<rect x="413.76" y="295.86" width="4.71" height="6.01" fill="#f7fbe4"/>
<rect x="419.27" y="295.86" width="4.71" height="6.01" fill="#fee4a2"/>
<rect x="424.79" y="295.86" width="4.71" height="6.01" fill="#fee4a2"/>
<rect x="430.30" y="295.86" width="4.71" height="6.01" fill="#f7fbe4"/>
<rect x="435.81" y="295.86" width="4.71" height="6.01" fill="#fee4a2"/>
<rect x="441.32" y="295.86" width="4.71" height="6.01" fill="#fee4a2"/>
<rect x="446.83" y="295.86" width="4.71" height="6.01" fill="#fee4a2"/>
<rect x="452.34" y="295.86" width="4.71" height="6.01" fill="#fee4a2"/>
<rect x="457.85" y="295.86" width="4.71" height="6.01" fill="#fee4a2"/>
<rect x="463.36" y="295.86" width="4.71" height="6.01" fill="#fdca84"/>
<rect x="468.87" y="295.86" width="4.71" height="6.01" fill="#5b8cc8"/>
<rect x="474.38" y="295.86" width="4.71" height="6.01" fill="#fee4a2"/>
<rect x="479.90" y="295.86" width="4.71" height="6.01" fill="#fee4a2"/>
<rect x="485.41" y="295.86" width="4.71" height="6.01" fill="#fee4a2"/>
<rect x="490.92" y="295.86" width="4.71" height="6.01" fill="#b6d4ec"/>
<rect x="496.43" y="295.86" width="4.71" height="6.01" fill="#fee4a2"/>
<rect x="501.94" y="295.86" width="4.71" height="6.01" fill="#fca862"/>
<rect x="507.45" y="295.86" width="4.71" height="6.01" fill="#fee4a2"/>
<rect x="512.96" y="295.86" width="4.71" height="6.01" fill="#fee4a2"/>
<rect x="518.47" y="295.86" width="4.71" height="6.01" fill="#fff4c0"/>
<rect x="523.98" y="295.86" width="4.71" height="6.01" fill="#fdca84"/>
<rect x="529.49" y="295.86" width="4.71" height="6.01" fill="#fee4a2"/>
<rect x="535.01" y="295.86" width="4.71" height="6.01" fill="#fee4a2"/>
<rect x="540.52" y="295.86" width="4.71" height="6.01" fill="#fee4a2"/>
<rect x="546.03" y="295.86" width="4.71" height="6.01" fill="#fdca84"/>
<rect x="551.54" y="295.86" width="4.71" height="6.01" fill="#fdca84"/>
<rect x="557.05" y="295.86" width="4.71" height="6.01" fill="#fee4a2"/>
<rect x="562.56" y="295.86" width="4.71" height="6.01" fill="#fee4a2"/>
<rect x="568.07" y="295.86" width="4.71" height="6.01" fill="#fee4a2"/>
<rect x="573.58" y="295.86" width="4.71" height="6.01" fill="#fca862"/>
<rect x="579.09" y="295.86" width="4.71" height="6.01" fill="#fdca84"/>
<rect x="584.60" y="295.86" width="4.71" height="6.01" fill="#fdca84"/>
<rect x="590.12" y="295.86" width="4.71" height="6.01" fill="#f47842"/>
<rect x="595.63" y="295.86" width="4.71" height="6.01" fill="#f47842"/>
<rect x="601.14" y="295.86" width="4.71" height="6.01" fill="#fff4c0"/>
<rect x="606.65" y="295.86" width="4.71" height="6.01" fill="#fdca84"/>
<rect x="5.95" y="302.67" width="4.71" height="6.01" fill="#dceef7"/>
<rect x="11.46" y="302.67" width="4.71" height="6.01" fill="#dceef7"/>
<rect x="16.97" y="302.67" width="4.71" height="6.01" fill="#b6d4ec"/>
<rect x="22.48" y="302.67" width="4.71" height="6.01" fill="#dceef7"/>
<rect x="27.99" y="302.67" width="4.71" height="6.01" fill="#dceef7"/>
<rect x="33.50" y="302.67" width="4.71" height="6.01" fill="#b6d4ec"/>
<rect x="39.02" y="302.67" width="4.71" height="6.01" fill="#dceef7"/>
<rect x="44.53" y="302.67" width="4.71" height="6.01" fill="#dceef7"/>
<rect x="50.04" y="302.67" width="4.71" height="6.01" fill="#dceef7"/>
<rect x="55.55" y="302.67" width="4.71" height="6.01" fill="#dceef7"/>
<rect x="61.06" y="302.67" width="4.71" height="6.01" fill="#f7fbe4"/>
<rect x="66.57" y="302.67" width="4.71" height="6.01" fill="#dceef7"/>
<rect x="72.08" y="302.67" width="4.71" height="6.01" fill="#dceef7"/>
<rect x="77.59" y="302.67" width="4.71" height="6.01" fill="#dceef7"/>
<rect x="83.10" y="302.67" width="4.71" height="6.01" fill="#b6d4ec"/>
<rect x="88.62" y="302.67" width="4.71" height="6.01" fill="#dceef7"/>
<rect x="94.13" y="302.67" width="4.71" height="6.01" fill="#dceef7"/>
<rect x="99.64" y="302.67" width="4.71" height="6.01" fill="#f7fbe4"/>
<rect x="105.15" y="302.67" width="4.71" height="6.01" fill="#dceef7"/>
<rect x="110.66" y="302.67" width="4.71" height="6.01" fill="#dceef7"/>
<rect x="116.17" y="302.67" width="4.71" height="6.01" fill="#dceef7"/>
<rect x="121.68" y="302.67" width="4.71" height="6.01" fill="#f7fbe4"/>
<rect x="127.19" y="302.67" width="4.71" height="6.01" fill="#fff4c0"/>
<rect x="132.70" y="302.67" width="4.71" height="6.01" fill="#fee4a2"/>
<rect x="138.21" y="302.67" width="4.71" height="6.01" fill="#f7fbe4"/>
<rect x="143.73" y="302.67" width="4.71" height="6.01" fill="#fff4c0"/>
<rect x="149.24" y="302.67" width="4.71" height="6.01" fill="#f7fbe4"/>
<rect x="154.75" y="302.67" width="4.71" height="6.01" fill="#f7fbe4"/>
<rect x="160.26" y="302.67" width="4.71" height="6.01" fill="#b6d4ec"/>
<rect x="165.77" y="302.67" width="4.71" height="6.01" fill="#fff4c0"/>
<rect x="171.28" y="302.67" width="4.71" height="6.01" fill="#f7fbe4"/>
<rect x="176.79" y="302.67" width="4.71" height="6.01" fill="#b6d4ec"/>
<rect x="182.30" y="302.67" width="4.71" height="6.01" fill="#fff4c0"/>
<rect x="187.81" y="302.67" width="4.71" height="6.01" fill="#fff4c0"/>
<rect x="193.32" y="302.67" width="4.71" height="6.01" fill="#fff4c0"/>
<rect x="198.84" y="302.67" width="4.71" height="6.01" fill="#fff4c0"/>
<rect x="204.35" y="302.67" width="4.71" height="6.01" fill="#fff4c0"/>
<rect x="209.86" y="302.67" width="4.71" height="6.01" fill="#fff4c0"/>
<rect x="215.37" y="302.67" width="4.71" height="6.01" fill="#fff4c0"/>
<rect x="220.88" y="302.67" width="4.71" height="6.01" fill="#fff4c0"/>
<rect x="226.39" y="302.67" width="4.71" height="6.01" fill="#fdca84"/>
<rect x="231.90" y="302.67" width="4.71" height="6.01" fill="#fff4c0"/>
<rect x="237.41" y="302.67" width="4.71" height="6.01" fill="#fff4c0"/>
<rect x="242.92" y="302.67" width="4.71" height="6.01" fill="#fff4c0"/>
<rect x="248.43" y="302.67" width="4.71" height="6.01" fill="#f7fbe4"/>
<rect x="253.95" y="302.67" width="4.71" height="6.01" fill="#fff4c0"/>
<rect x="259.46" y="302.67" width="4.71" height="6.01" fill="#fff4c0"/>
<rect x="264.97" y="302.67" width="4.71" height="6.01" fill="#fff4c0"/>
<rect x="270.48" y="302.67" width="4.71" height="6.01" fill="#dceef7"/>
<rect x="275.99" y="302.67" width="4.71" height="6.01" fill="#fee4a2"/>
<rect x="281.50" y="302.67" width="4.71" height="6.01" fill="#dceef7"/>
<rect x="287.01" y="302.67" width="4.71" height="6.01" fill="#fff4c0"/>
<rect x="292.52" y="302.67" width="4.71" height="6.01" fill="#f7fbe4"/>
<rect x="298.03" y="302.67" width="4.71" height="6.01" fill="#fff4c0"/>
<rect x="303.54" y="302.67" width="4.71" height="6.01" fill="#fff4c0"/>
<rect x="309.06" y="302.67" width="4.71" height="6.01" fill="#fdca84"/>
<rect x="314.57" y="302.67" width="4.71" height="6.01" fill="#fff4c0"/>
<rect x="320.08" y="302.67" width="4.71" height="6.01" fill="#fff4c0"/>
<rect x="325.59" y="302.67" width="4.71" height="6.01" fill="#fdca84"/>
<rect x="331.10" y="302.67" width="4.71" height="6.01" fill="#fff4c0"/>
<rect x="336.61" y="302.67" width="4.71" height="6.01" fill="#fca862"/>
<rect x="342.12" y="302.67" width="4.71" height="6.01" fill="#fff4c0"/>
<rect x="347.63" y="302.67" width="4.71" height="6.01" fill="#fff4c0"/>
<rect x="353.14" y="302.67" width="4.71" height="6.01" fill="#fff4c0"/>
<rect x="358.65" y="302.67" width="4.71" height="6.01" fill="#b6d4ec"/>
<rect x="364.17" y="302.67" width="4.71" height="6.01" fill="#fee4a2"/>
<rect x="369.68" y="302.67" width="4.71" height="6.01" fill="#fee4a2"/>
<rect x="375.19" y="302.67" width="4.71" height="6.01" fill="#fdca84"/>
<rect x="380.70" y="302.67" width="4.71" height="6.01" fill="#fdca84"/>
<rect x="386.21" y="302.67" width="4.71" height="6.01" fill="#fff4c0"/>
<rect x="391.72" y="302.67" width="4.71" height="6.01" fill="#f7fbe4"/>
<rect x="397.23" y="302.67" width="4.71" height="6.01" fill="#fee4a2"/>
<rect x="402.74" y="302.67" width="4.71" height="6.01" fill="#fee4a2"/>
<rect x="408.25" y="302.67" width="4.71" height="6.01" fill="#fee4a2"/>
<rect x="413.76" y="302.67" width="4.71" height="6.01" fill="#fee4a2"/>
<rect x="419.27" y="302.67" width="4.71" height="6.01" fill="#f7fbe4"/>
<rect x="424.79" y="302.67" width="4.71" height="6.01" fill="#fee4a2"/>
<rect x="430.30" y="302.67" width="4.71" height="6.01" fill="#fee4a2"/>
<rect x="435.81" y="302.67" width="4.71" height="6.01" fill="#fee4a2"/>
<rect x="441.32" y="302.67" width="4.71" height="6.01" fill="#fee4a2"/>
<rect x="446.83" y="302.67" width="4.71" height="6.01" fill="#fee4a2"/>
<rect x="452.34" y="302.67" width="4.71" height="6.01" fill="#fee4a2"/>
<rect x="457.85" y="302.67" width="4.71" height="6.01" fill="#fee4a2"/>
<rect x="463.36" y="302.67" width="4.71" height="6.01" fill="#fdca84"/>
<rect x="468.87" y="302.67" width="4.71" height="6.01" fill="#b6d4ec"/>
<rect x="474.38" y="302.67" width="4.71" height="6.01" fill="#fff4c0"/>
<rect x="479.90" y="302.67" width="4.71" height="6.01" fill="#fca862"/>
<rect x="485.41" y="302.67" width="4.71" height="6.01" fill="#fee4a2"/>
<rect x="490.92" y="302.67" width="4.71" height="6.01" fill="#dceef7"/>
<rect x="496.43" y="302.67" width="4.71" height="6.01" fill="#fee4a2"/>
<rect x="501.94" y="302.67" width="4.71" height="6.01" fill="#fdca84"/>
<rect x="507.45" y="302.67" width="4.71" height="6.01" fill="#dceef7"/>
<rect x="512.96" y="302.67" width="4.71" height="6.01" fill="#fee4a2"/>
<rect x="518.47" y="302.67" width="4.71" height="6.01" fill="#fee4a2"/>
<rect x="523.98" y="302.67" width="4.71" height="6.01" fill="#fdca84"/>
<rect x="529.49" y="302.67" width="4.71" height="6.01" fill="#fdca84"/>
<rect x="535.01" y="302.67" width="4.71" height="6.01" fill="#fee4a2"/>
<rect x="540.52" y="302.67" width="4.71" height="6.01" fill="#fdca84"/>
<rect x="546.03" y="302.67" width="4.71" height="6.01" fill="#fee4a2"/>
<rect x="551.54" y="302.67" width="4.71" height="6.01" fill="#fdca84"/>
<rect x="557.05" y="302.67" width="4.71" height="6.01" fill="#fee4a2"/>
<rect x="562.56" y="302.67" width="4.71" height="6.01" fill="#fdca84"/>
<rect x="568.07" y="302.67" width="4.71" height="6.01" fill="#fee4a2"/>
<rect x="573.58" y="302.67" width="4.71" height="6.01" fill="#94bce0"/>
<rect x="579.09" y="302.67" width="4.71" height="6.01" fill="#fdca84"/>
<rect x="584.60" y="302.67" width="4.71" height="6.01" fill="#fff4c0"/>
<rect x="590.12" y="302.67" width="4.71" height="6.01" fill="#fee4a2"/>
<rect x="595.63" y="302.67" width="4.71" height="6.01" fill="#fdca84"/>
<rect x="601.14" y="302.67" width="4.71" height="6.01" fill="#fff4c0"/>
<rect x="606.65" y="302.67" width="4.71" height="6.01" fill="#f47842"/>
<rect x="5.95" y="309.48" width="4.71" height="6.01" fill="#f7fbe4"/>
<rect x="11.46" y="309.48" width="4.71" height="6.01" fill="#f7fbe4"/>
<rect x="16.97" y="309.48" width="4.71" height="6.01" fill="#dceef7"/>
<rect x="22.48" y="309.48" width="4.71" height="6.01" fill="#fff4c0"/>
<rect x="27.99" y="309.48" width="4.71" height="6.01" fill="#fee4a2"/>
<rect x="33.50" y="309.48" width="4.71" height="6.01" fill="#f7fbe4"/>
<rect x="39.02" y="309.48" width="4.71" height="6.01" fill="#fee4a2"/>
<rect x="44.53" y="309.48" width="4.71" height="6.01" fill="#dceef7"/>
<rect x="50.04" y="309.48" width="4.71" height="6.01" fill="#f7fbe4"/>
<rect x="55.55" y="309.48" width="4.71" height="6.01" fill="#dceef7"/>
<rect x="61.06" y="309.48" width="4.71" height="6.01" fill="#dceef7"/>
<rect x="66.57" y="309.48" width="4.71" height="6.01" fill="#fee4a2"/>
<rect x="72.08" y="309.48" width="4.71" height="6.01" fill="#f7fbe4"/>
<rect x="77.59" y="309.48" width="4.71" height="6.01" fill="#dceef7"/>
<rect x="83.10" y="309.48" width="4.71" height="6.01" fill="#fff4c0"/>
<rect x="88.62" y="309.48" width="4.71" height="6.01" fill="#dceef7"/>
<rect x="94.13" y="309.48" width="4.71" height="6.01" fill="#dceef7"/>
<rect x="99.64" y="309.48" width="4.71" height="6.01" fill="#f7fbe4"/>
<rect x="105.15" y="309.48" width="4.71" height="6.01" fill="#f7fbe4"/>
<rect x="110.66" y="309.48" width="4.71" height="6.01" fill="#dceef7"/>
<rect x="116.17" y="309.48" width="4.71" height="6.01" fill="#f7fbe4"/>
<rect x="121.68" y="309.48" width="4.71" height="6.01" fill="#fff4c0"/>
<rect x="127.19" y="309.48" width="4.71" height="6.01" fill="#fee4a2"/>
<rect x="132.70" y="309.48" width="4.71" height="6.01" fill="#dceef7"/>
<rect x="138.21" y="309.48" width="4.71" height="6.01" fill="#f7fbe4"/>
<rect x="143.73" y="309.48" width="4.71" height="6.01" fill="#dceef7"/>
<rect x="149.24" y="309.48" width="4.71" height="6.01" fill="#dceef7"/>
<rect x="154.75" y="309.48" width="4.71" height="6.01" fill="#fca862"/>
<rect x="160.26" y="309.48" width="4.71" height="6.01" fill="#dceef7"/>
<rect x="165.77" y="309.48" width="4.71" height="6.01" fill="#fee4a2"/>
<rect x="171.28" y="309.48" width="4.71" height="6.01" fill="#fca862"/>
<rect x="176.79" y="309.48" width="4.71" height="6.01" fill="#dceef7"/>
<rect x="182.30" y="309.48" width="4.71" height="6.01" fill="#f7fbe4"/>
<rect x="187.81" y="309.48" width="4.71" height="6.01" fill="#fff4c0"/>
<rect x="193.32" y="309.48" width="4.71" height="6.01" fill="#dceef7"/>
<rect x="198.84" y="309.48" width="4.71" height="6.01" fill="#f7fbe4"/>
<rect x="204.35" y="309.48" width="4.71" height="6.01" fill="#f7fbe4"/>
<rect x="209.86" y="309.48" width="4.71" height="6.01" fill="#b6d4ec"/>
<rect x="215.37" y="309.48" width="4.71" height="6.01" fill="#fff4c0"/>
<rect x="220.88" y="309.48" width="4.71" height="6.01" fill="#fff4c0"/>
<rect x="226.39" y="309.48" width="4.71" height="6.01" fill="#dceef7"/>
<rect x="231.90" y="309.48" width="4.71" height="6.01" fill="#dceef7"/>
<rect x="237.41" y="309.48" width="4.71" height="6.01" fill="#fff4c0"/>
<rect x="242.92" y="309.48" width="4.71" height="6.01" fill="#dceef7"/>
<rect x="248.43" y="309.48" width="4.71" height="6.01" fill="#fdca84"/>
<rect x="253.95" y="309.48" width="4.71" height="6.01" fill="#dceef7"/>
<rect x="259.46" y="309.48" width="4.71" height="6.01" fill="#fff4c0"/>
<rect x="264.97" y="309.48" width="4.71" height="6.01" fill="#fdca84"/>
<rect x="270.48" y="309.48" width="4.71" height="6.01" fill="#fdca84"/>
<rect x="275.99" y="309.48" width="4.71" height="6.01" fill="#dceef7"/>
<rect x="281.50" y="309.48" width="4.71" height="6.01" fill="#f7fbe4"/>
<rect x="287.01" y="309.48" width="4.71" height="6.01" fill="#f7fbe4"/>
<rect x="292.52" y="309.48" width="4.71" height="6.01" fill="#fee4a2"/>
<rect x="298.03" y="309.48" width="4.71" height="6.01" fill="#fee4a2"/>
<rect x="303.54" y="309.48" width="4.71" height="6.01" fill="#dceef7"/>
<rect x="309.06" y="309.48" width="4.71" height="6.01" fill="#fee4a2"/>
<rect x="314.57" y="309.48" width="4.71" height="6.01" fill="#fdca84"/>
<rect x="320.08" y="309.48" width="4.71" height="6.01" fill="#fdca84"/>
<rect x="325.59" y="309.48" width="4.71" height="6.01" fill="#fff4c0"/>
<rect x="331.10" y="309.48" width="4.71" height="6.01" fill="#fdca84"/>
<rect x="336.61" y="309.48" width="4.71" height="6.01" fill="#fff4c0"/>
<rect x="342.12" y="309.48" width="4.71" height="6.01" fill="#dceef7"/>
<rect x="347.63" y="309.48" width="4.71" height="6.01" fill="#fff4c0"/>
<rect x="353.14" y="309.48" width="4.71" height="6.01" fill="#fdca84"/>
<rect x="358.65" y="309.48" width="4.71" height="6.01" fill="#fff4c0"/>
<rect x="364.17" y="309.48" width="4.71" height="6.01" fill="#fee4a2"/>
<rect x="369.68" y="309.48" width="4.71" height="6.01" fill="#fee4a2"/>
<rect x="375.19" y="309.48" width="4.71" height="6.01" fill="#fee4a2"/>
<rect x="380.70" y="309.48" width="4.71" height="6.01" fill="#f7fbe4"/>
<rect x="386.21" y="309.48" width="4.71" height="6.01" fill="#fdca84"/>
<rect x="391.72" y="309.48" width="4.71" height="6.01" fill="#fff4c0"/>
<rect x="397.23" y="309.48" width="4.71" height="6.01" fill="#dceef7"/>
<rect x="402.74" y="309.48" width="4.71" height="6.01" fill="#fff4c0"/>
<rect x="408.25" y="309.48" width="4.71" height="6.01" fill="#dceef7"/>
<rect x="413.76" y="309.48" width="4.71" height="6.01" fill="#fdca84"/>
<rect x="419.27" y="309.48" width="4.71" height="6.01" fill="#fca862"/>
<rect x="424.79" y="309.48" width="4.71" height="6.01" fill="#f7fbe4"/>
<rect x="430.30" y="309.48" width="4.71" height="6.01" fill="#fff4c0"/>
<rect x="435.81" y="309.48" width="4.71" height="6.01" fill="#fca862"/>
<rect x="441.32" y="309.48" width="4.71" height="6.01" fill="#dceef7"/>
<rect x="446.83" y="309.48" width="4.71" height="6.01" fill="#fff4c0"/>
<rect x="452.34" y="309.48" width="4.71" height="6.01" fill="#fca862"/>
<rect x="457.85" y="309.48" width="4.71" height="6.01" fill="#dceef7"/>
<rect x="463.36" y="309.48" width="4.71" height="6.01" fill="#dceef7"/>
<rect x="468.87" y="309.48" width="4.71" height="6.01" fill="#fff4c0"/>
<rect x="474.38" y="309.48" width="4.71" height="6.01" fill="#dceef7"/>
<rect x="479.90" y="309.48" width="4.71" height="6.01" fill="#fca862"/>
<rect x="485.41" y="309.48" width="4.71" height="6.01" fill="#fdca84"/>
<rect x="490.92" y="309.48" width="4.71" height="6.01" fill="#fff4c0"/>
<rect x="496.43" y="309.48" width="4.71" height="6.01" fill="#b6d4ec"/>
<rect x="501.94" y="309.48" width="4.71" height="6.01" fill="#dceef7"/>
<rect x="507.45" y="309.48" width="4.71" height="6.01" fill="#fff4c0"/>
<rect x="512.96" y="309.48" width="4.71" height="6.01" fill="#dceef7"/>
<rect x="518.47" y="309.48" width="4.71" height="6.01" fill="#dceef7"/>
<rect x="523.98" y="309.48" width="4.71" height="6.01" fill="#fff4c0"/>
<rect x="529.49" y="309.48" width="4.71" height="6.01" fill="#fff4c0"/>
<rect x="535.01" y="309.48" width="4.71" height="6.01" fill="#fee4a2"/>
<rect x="540.52" y="309.48" width="4.71" height="6.01" fill="#fdca84"/>
<rect x="546.03" y="309.48" width="4.71" height="6.01" fill="#fee4a2"/>
<rect x="551.54" y="309.48" width="4.71" height="6.01" fill="#fee4a2"/>
<rect x="557.05" y="309.48" width="4.71" height="6.01" fill="#fca862"/>
<rect x="562.56" y="309.48" width="4.71" height="6.01" fill="#fff4c0"/>
<rect x="568.07" y="309.48" width="4.71" height="6.01" fill="#fdca84"/>
<rect x="573.58" y="309.48" width="4.71" height="6.01" fill="#fff4c0"/>
<rect x="579.09" y="309.48" width="4.71" height="6.01" fill="#fee4a2"/>
<rect x="584.60" y="309.48" width="4.71" height="6.01" fill="#fdca84"/>
<rect x="590.12" y="309.48" width="4.71" height="6.01" fill="#fca862"/>
<rect x="595.63" y="309.48" width="4.71" height="6.01" fill="#fee4a2"/>
<rect x="601.14" y="309.48" width="4.71" height="6.01" fill="#fdca84"/>
<rect x="606.65" y="309.48" width="4.71" height="6.01" fill="#fff4c0"/>
<rect x="5.95" y="316.30" width="4.71" height="6.01" fill="#fee4a2"/>
<rect x="11.46" y="316.30" width="4.71" height="6.01" fill="#dceef7"/>
<rect x="16.97" y="316.30" width="4.71" height="6.01" fill="#fff4c0"/>
<rect x="22.48" y="316.30" width="4.71" height="6.01" fill="#f7fbe4"/>
<rect x="27.99" y="316.30" width="4.71" height="6.01" fill="#fff4c0"/>
<rect x="33.50" y="316.30" width="4.71" height="6.01" fill="#f7fbe4"/>
<rect x="39.02" y="316.30" width="4.71" height="6.01" fill="#fee4a2"/>
<rect x="44.53" y="316.30" width="4.71" height="6.01" fill="#f7fbe4"/>
<rect x="50.04" y="316.30" width="4.71" height="6.01" fill="#f7fbe4"/>
<rect x="55.55" y="316.30" width="4.71" height="6.01" fill="#dceef7"/>
<rect x="61.06" y="316.30" width="4.71" height="6.01" fill="#f7fbe4"/>
<rect x="66.57" y="316.30" width="4.71" height="6.01" fill="#f7fbe4"/>
<rect x="72.08" y="316.30" width="4.71" height="6.01" fill="#f7fbe4"/>
<rect x="77.59" y="316.30" width="4.71" height="6.01" fill="#f7fbe4"/>
<rect x="83.10" y="316.30" width="4.71" height="6.01" fill="#fff4c0"/>
<rect x="88.62" y="316.30" width="4.71" height="6.01" fill="#dceef7"/>
<rect x="94.13" y="316.30" width="4.71" height="6.01" fill="#f7fbe4"/>
<rect x="99.64" y="316.30" width="4.71" height="6.01" fill="#fff4c0"/>
<rect x="105.15" y="316.30" width="4.71" height="6.01" fill="#dceef7"/>
<rect x="110.66" y="316.30" width="4.71" height="6.01" fill="#fff4c0"/>
<rect x="116.17" y="316.30" width="4.71" height="6.01" fill="#dceef7"/>
<rect x="121.68" y="316.30" width="4.71" height="6.01" fill="#fff4c0"/>
<rect x="127.19" y="316.30" width="4.71" height="6.01" fill="#fff4c0"/>
<rect x="132.70" y="316.30" width="4.71" height="6.01" fill="#fff4c0"/>
<rect x="138.21" y="316.30" width="4.71" height="6.01" fill="#f7fbe4"/>
<rect x="143.73" y="316.30" width="4.71" height="6.01" fill="#f7fbe4"/>
<rect x="149.24" y="316.30" width="4.71" height="6.01" fill="#fff4c0"/>
<rect x="154.75" y="316.30" width="4.71" height="6.01" fill="#fdca84"/>
<rect x="160.26" y="316.30" width="4.71" height="6.01" fill="#f7fbe4"/>
<rect x="165.77" y="316.30" width="4.71" height="6.01" fill="#fff4c0"/>
<rect x="171.28" y="316.30" width="4.71" height="6.01" fill="#dceef7"/>
<rect x="176.79" y="316.30" width="4.71" height="6.01" fill="#dceef7"/>
<rect x="182.30" y="316.30" width="4.71" height="6.01" fill="#fdca84"/>
<rect x="187.81" y="316.30" width="4.71" height="6.01" fill="#f47842"/>
<rect x="193.32" y="316.30" width="4.71" height="6.01" fill="#fff4c0"/>
<rect x="198.84" y="316.30" width="4.71" height="6.01" fill="#f7fbe4"/>
<rect x="204.35" y="316.30" width="4.71" height="6.01" fill="#fff4c0"/>
<rect x="209.86" y="316.30" width="4.71" height="6.01" fill="#f7fbe4"/>
<rect x="215.37" y="316.30" width="4.71" height="6.01" fill="#f7fbe4"/>
<rect x="220.88" y="316.30" width="4.71" height="6.01" fill="#fff4c0"/>
<rect x="226.39" y="316.30" width="4.71" height="6.01" fill="#fdca84"/>
<rect x="231.90" y="316.30" width="4.71" height="6.01" fill="#fff4c0"/>
<rect x="237.41" y="316.30" width="4.71" height="6.01" fill="#fff4c0"/>
<rect x="242.92" y="316.30" width="4.71" height="6.01" fill="#f7fbe4"/>
<rect x="248.43" y="316.30" width="4.71" height="6.01" fill="#fdca84"/>
<rect x="253.95" y="316.30" width="4.71" height="6.01" fill="#fff4c0"/>
<rect x="259.46" y="316.30" width="4.71" height="6.01" fill="#dceef7"/>
<rect x="264.97" y="316.30" width="4.71" height="6.01" fill="#fee4a2"/>
<rect x="270.48" y="316.30" width="4.71" height="6.01" fill="#fee4a2"/>
<rect x="275.99" y="316.30" width="4.71" height="6.01" fill="#fff4c0"/>
<rect x="281.50" y="316.30" width="4.71" height="6.01" fill="#fff4c0"/>
<rect x="287.01" y="316.30" width="4.71" height="6.01" fill="#fee4a2"/>
<rect x="292.52" y="316.30" width="4.71" height="6.01" fill="#fff4c0"/>
<rect x="298.03" y="316.30" width="4.71" height="6.01" fill="#fdca84"/>
<rect x="303.54" y="316.30" width="4.71" height="6.01" fill="#fff4c0"/>
<rect x="309.06" y="316.30" width="4.71" height="6.01" fill="#fdca84"/>
<rect x="314.57" y="316.30" width="4.71" height="6.01" fill="#f7fbe4"/>
<rect x="320.08" y="316.30" width="4.71" height="6.01" fill="#fee4a2"/>
<rect x="325.59" y="316.30" width="4.71" height="6.01" fill="#fff4c0"/>
<rect x="331.10" y="316.30" width="4.71" height="6.01" fill="#fff4c0"/>
<rect x="336.61" y="316.30" width="4.71" height="6.01" fill="#fff4c0"/>
<rect x="342.12" y="316.30" width="4.71" height="6.01" fill="#f7fbe4"/>
<rect x="347.63" y="316.30" width="4.71" height="6.01" fill="#fca862"/>
<rect x="353.14" y="316.30" width="4.71" height="6.01" fill="#fff4c0"/>
<rect x="358.65" y="316.30" width="4.71" height="6.01" fill="#fff4c0"/>
<rect x="364.17" y="316.30" width="4.71" height="6.01" fill="#fdca84"/>
<rect x="369.68" y="316.30" width="4.71" height="6.01" fill="#fff4c0"/>
<rect x="375.19" y="316.30" width="4.71" height="6.01" fill="#dceef7"/>
<rect x="380.70" y="316.30" width="4.71" height="6.01" fill="#dceef7"/>
<rect x="386.21" y="316.30" width="4.71" height="6.01" fill="#fff4c0"/>
<rect x="391.72" y="316.30" width="4.71" height="6.01" fill="#f7fbe4"/>
<rect x="397.23" y="316.30" width="4.71" height="6.01" fill="#fff4c0"/>
<rect x="402.74" y="316.30" width="4.71" height="6.01" fill="#fff4c0"/>
<rect x="408.25" y="316.30" width="4.71" height="6.01" fill="#fff4c0"/>
<rect x="413.76" y="316.30" width="4.71" height="6.01" fill="#fee4a2"/>
<rect x="419.27" y="316.30" width="4.71" height="6.01" fill="#f47842"/>
<rect x="424.79" y="316.30" width="4.71" height="6.01" fill="#f7fbe4"/>
<rect x="430.30" y="316.30" width="4.71" height="6.01" fill="#fff4c0"/>
<rect x="435.81" y="316.30" width="4.71" height="6.01" fill="#dc3a28"/>
<rect x="441.32" y="316.30" width="4.71" height="6.01" fill="#f7fbe4"/>
<rect x="446.83" y="316.30" width="4.71" height="6.01" fill="#fff4c0"/>
<rect x="452.34" y="316.30" width="4.71" height="6.01" fill="#fdca84"/>
<rect x="457.85" y="316.30" width="4.71" height="6.01" fill="#b6d4ec"/>
<rect x="463.36" y="316.30" width="4.71" height="6.01" fill="#fca862"/>
<rect x="468.87" y="316.30" width="4.71" height="6.01" fill="#fff4c0"/>
<rect x="474.38" y="316.30" width="4.71" height="6.01" fill="#fff4c0"/>
<rect x="479.90" y="316.30" width="4.71" height="6.01" fill="#fca862"/>
<rect x="485.41" y="316.30" width="4.71" height="6.01" fill="#fee4a2"/>
<rect x="490.92" y="316.30" width="4.71" height="6.01" fill="#fff4c0"/>
<rect x="496.43" y="316.30" width="4.71" height="6.01" fill="#fff4c0"/>
<rect x="501.94" y="316.30" width="4.71" height="6.01" fill="#fff4c0"/>
<rect x="507.45" y="316.30" width="4.71" height="6.01" fill="#dceef7"/>
<rect x="512.96" y="316.30" width="4.71" height="6.01" fill="#fff4c0"/>
<rect x="518.47" y="316.30" width="4.71" height="6.01" fill="#dc3a28"/>
<rect x="523.98" y="316.30" width="4.71" height="6.01" fill="#fff4c0"/>
<rect x="529.49" y="316.30" width="4.71" height="6.01" fill="#f7fbe4"/>
<rect x="535.01" y="316.30" width="4.71" height="6.01" fill="#fee4a2"/>
<rect x="540.52" y="316.30" width="4.71" height="6.01" fill="#f47842"/>
<rect x="546.03" y="316.30" width="4.71" height="6.01" fill="#fca862"/>
<rect x="551.54" y="316.30" width="4.71" height="6.01" fill="#fee4a2"/>
<rect x="557.05" y="316.30" width="4.71" height="6.01" fill="#f47842"/>
<rect x="562.56" y="316.30" width="4.71" height="6.01" fill="#fff4c0"/>
<rect x="568.07" y="316.30" width="4.71" height="6.01" fill="#fff4c0"/>
<rect x="573.58" y="316.30" width="4.71" height="6.01" fill="#f7fbe4"/>
<rect x="579.09" y="316.30" width="4.71" height="6.01" fill="#f7fbe4"/>
<rect x="584.60" y="316.30" width="4.71" height="6.01" fill="#fff4c0"/>
<rect x="590.12" y="316.30" width="4.71" height="6.01" fill="#fdca84"/>
<rect x="595.63" y="316.30" width="4.71" height="6.01" fill="#dceef7"/>
<rect x="601.14" y="316.30" width="4.71" height="6.01" fill="#f7fbe4"/>
<rect x="606.65" y="316.30" width="4.71" height="6.01" fill="#fee4a2"/>
<rect x="5.15" y="324.40" width="607.01" height="7.30" fill="#9a9a9a"/>
<rect x="5.95" y="325.20" width="4.71" height="5.70" fill="#e02818"/>
<rect x="11.46" y="325.20" width="4.71" height="5.70" fill="#e02818"/>
<rect x="16.97" y="325.20" width="4.71" height="5.70" fill="#e02818"/>
<rect x="22.48" y="325.20" width="4.71" height="5.70" fill="#e02818"/>
<rect x="27.99" y="325.20" width="4.71" height="5.70" fill="#e02818"/>
<rect x="33.50" y="325.20" width="4.71" height="5.70" fill="#e02818"/>
<rect x="39.02" y="325.20" width="4.71" height="5.70" fill="#e02818"/>
<rect x="44.53" y="325.20" width="4.71" height="5.70" fill="#e02818"/>
<rect x="50.04" y="325.20" width="4.71" height="5.70" fill="#e02818"/>
<rect x="55.55" y="325.20" width="4.71" height="5.70" fill="#e02818"/>
<rect x="61.06" y="325.20" width="4.71" height="5.70" fill="#e02818"/>
<rect x="66.57" y="325.20" width="4.71" height="5.70" fill="#e02818"/>
<rect x="72.08" y="325.20" width="4.71" height="5.70" fill="#e02818"/>
<rect x="77.59" y="325.20" width="4.71" height="5.70" fill="#e02818"/>
<rect x="83.10" y="325.20" width="4.71" height="5.70" fill="#e02818"/>
<rect x="88.62" y="325.20" width="4.71" height="5.70" fill="#e02818"/>
<rect x="94.13" y="325.20" width="4.71" height="5.70" fill="#e02818"/>
<rect x="99.64" y="325.20" width="4.71" height="5.70" fill="#e02818"/>
<rect x="105.15" y="325.20" width="4.71" height="5.70" fill="#e02818"/>
<rect x="110.66" y="325.20" width="4.71" height="5.70" fill="#c4c0c0"/>
<rect x="116.17" y="325.20" width="4.71" height="5.70" fill="#c4c0c0"/>
<rect x="121.68" y="325.20" width="4.71" height="5.70" fill="#c4c0c0"/>
<rect x="127.19" y="325.20" width="4.71" height="5.70" fill="#c4c0c0"/>
<rect x="132.70" y="325.20" width="4.71" height="5.70" fill="#c4c0c0"/>
<rect x="138.21" y="325.20" width="4.71" height="5.70" fill="#c4c0c0"/>
<rect x="143.73" y="325.20" width="4.71" height="5.70" fill="#c4c0c0"/>
<rect x="149.24" y="325.20" width="4.71" height="5.70" fill="#c4c0c0"/>
<rect x="154.75" y="325.20" width="4.71" height="5.70" fill="#c4c0c0"/>
<rect x="160.26" y="325.20" width="4.71" height="5.70" fill="#c4c0c0"/>
<rect x="165.77" y="325.20" width="4.71" height="5.70" fill="#c4c0c0"/>
<rect x="171.28" y="325.20" width="4.71" height="5.70" fill="#c4c0c0"/>
<rect x="176.79" y="325.20" width="4.71" height="5.70" fill="#c4c0c0"/>
<rect x="182.30" y="325.20" width="4.71" height="5.70" fill="#c4c0c0"/>
<rect x="187.81" y="325.20" width="4.71" height="5.70" fill="#c4c0c0"/>
<rect x="193.32" y="325.20" width="4.71" height="5.70" fill="#c4c0c0"/>
<rect x="198.84" y="325.20" width="4.71" height="5.70" fill="#c4c0c0"/>
<rect x="204.35" y="325.20" width="4.71" height="5.70" fill="#c4c0c0"/>
<rect x="209.86" y="325.20" width="4.71" height="5.70" fill="#c4c0c0"/>
<rect x="215.37" y="325.20" width="4.71" height="5.70" fill="#c4c0c0"/>
<rect x="220.88" y="325.20" width="4.71" height="5.70" fill="#c4c0c0"/>
<rect x="226.39" y="325.20" width="4.71" height="5.70" fill="#c4c0c0"/>
<rect x="231.90" y="325.20" width="4.71" height="5.70" fill="#c4c0c0"/>
<rect x="237.41" y="325.20" width="4.71" height="5.70" fill="#c4c0c0"/>
<rect x="242.92" y="325.20" width="4.71" height="5.70" fill="#c4c0c0"/>
<rect x="248.43" y="325.20" width="4.71" height="5.70" fill="#c4c0c0"/>
<rect x="253.95" y="325.20" width="4.71" height="5.70" fill="#c4c0c0"/>
<rect x="259.46" y="325.20" width="4.71" height="5.70" fill="#c4c0c0"/>
<rect x="264.97" y="325.20" width="4.71" height="5.70" fill="#c4c0c0"/>
<rect x="270.48" y="325.20" width="4.71" height="5.70" fill="#c4c0c0"/>
<rect x="275.99" y="325.20" width="4.71" height="5.70" fill="#c4c0c0"/>
<rect x="281.50" y="325.20" width="4.71" height="5.70" fill="#c4c0c0"/>
<rect x="287.01" y="325.20" width="4.71" height="5.70" fill="#c4c0c0"/>
<rect x="292.52" y="325.20" width="4.71" height="5.70" fill="#c4c0c0"/>
<rect x="298.03" y="325.20" width="4.71" height="5.70" fill="#c4c0c0"/>
<rect x="303.54" y="325.20" width="4.71" height="5.70" fill="#c4c0c0"/>
<rect x="309.06" y="325.20" width="4.71" height="5.70" fill="#c4c0c0"/>
<rect x="314.57" y="325.20" width="4.71" height="5.70" fill="#c4c0c0"/>
<rect x="320.08" y="325.20" width="4.71" height="5.70" fill="#c4c0c0"/>
<rect x="325.59" y="325.20" width="4.71" height="5.70" fill="#c4c0c0"/>
<rect x="331.10" y="325.20" width="4.71" height="5.70" fill="#c4c0c0"/>
<rect x="336.61" y="325.20" width="4.71" height="5.70" fill="#c4c0c0"/>
<rect x="342.12" y="325.20" width="4.71" height="5.70" fill="#c4c0c0"/>
<rect x="347.63" y="325.20" width="4.71" height="5.70" fill="#c4c0c0"/>
<rect x="353.14" y="325.20" width="4.71" height="5.70" fill="#c4c0c0"/>
<rect x="358.65" y="325.20" width="4.71" height="5.70" fill="#c4c0c0"/>
<rect x="364.17" y="325.20" width="4.71" height="5.70" fill="#c4c0c0"/>
<rect x="369.68" y="325.20" width="4.71" height="5.70" fill="#c4c0c0"/>
<rect x="375.19" y="325.20" width="4.71" height="5.70" fill="#c4c0c0"/>
<rect x="380.70" y="325.20" width="4.71" height="5.70" fill="#c4c0c0"/>
<rect x="386.21" y="325.20" width="4.71" height="5.70" fill="#c4c0c0"/>
<rect x="391.72" y="325.20" width="4.71" height="5.70" fill="#c4c0c0"/>
<rect x="397.23" y="325.20" width="4.71" height="5.70" fill="#c4c0c0"/>
<rect x="402.74" y="325.20" width="4.71" height="5.70" fill="#c4c0c0"/>
<rect x="408.25" y="325.20" width="4.71" height="5.70" fill="#c4c0c0"/>
<rect x="413.76" y="325.20" width="4.71" height="5.70" fill="#c4c0c0"/>
<rect x="419.27" y="325.20" width="4.71" height="5.70" fill="#c4c0c0"/>
<rect x="424.79" y="325.20" width="4.71" height="5.70" fill="#c4c0c0"/>
<rect x="430.30" y="325.20" width="4.71" height="5.70" fill="#c4c0c0"/>
<rect x="435.81" y="325.20" width="4.71" height="5.70" fill="#c4c0c0"/>
<rect x="441.32" y="325.20" width="4.71" height="5.70" fill="#c4c0c0"/>
<rect x="446.83" y="325.20" width="4.71" height="5.70" fill="#c4c0c0"/>
<rect x="452.34" y="325.20" width="4.71" height="5.70" fill="#c4c0c0"/>
<rect x="457.85" y="325.20" width="4.71" height="5.70" fill="#c4c0c0"/>
<rect x="463.36" y="325.20" width="4.71" height="5.70" fill="#c4c0c0"/>
<rect x="468.87" y="325.20" width="4.71" height="5.70" fill="#c4c0c0"/>
<rect x="474.38" y="325.20" width="4.71" height="5.70" fill="#c4c0c0"/>
<rect x="479.90" y="325.20" width="4.71" height="5.70" fill="#c4c0c0"/>
<rect x="485.41" y="325.20" width="4.71" height="5.70" fill="#c4c0c0"/>
<rect x="490.92" y="325.20" width="4.71" height="5.70" fill="#c4c0c0"/>
<rect x="496.43" y="325.20" width="4.71" height="5.70" fill="#c4c0c0"/>
<rect x="501.94" y="325.20" width="4.71" height="5.70" fill="#c4c0c0"/>
<rect x="507.45" y="325.20" width="4.71" height="5.70" fill="#c4c0c0"/>
<rect x="512.96" y="325.20" width="4.71" height="5.70" fill="#c4c0c0"/>
<rect x="518.47" y="325.20" width="4.71" height="5.70" fill="#c4c0c0"/>
<rect x="523.98" y="325.20" width="4.71" height="5.70" fill="#c4c0c0"/>
<rect x="529.49" y="325.20" width="4.71" height="5.70" fill="#c4c0c0"/>
<rect x="535.01" y="325.20" width="4.71" height="5.70" fill="#c4c0c0"/>
<rect x="540.52" y="325.20" width="4.71" height="5.70" fill="#c4c0c0"/>
<rect x="546.03" y="325.20" width="4.71" height="5.70" fill="#c4c0c0"/>
<rect x="551.54" y="325.20" width="4.71" height="5.70" fill="#c4c0c0"/>
<rect x="557.05" y="325.20" width="4.71" height="5.70" fill="#c4c0c0"/>
<rect x="562.56" y="325.20" width="4.71" height="5.70" fill="#c4c0c0"/>
<rect x="568.07" y="325.20" width="4.71" height="5.70" fill="#c4c0c0"/>
<rect x="573.58" y="325.20" width="4.71" height="5.70" fill="#c4c0c0"/>
<rect x="579.09" y="325.20" width="4.71" height="5.70" fill="#c4c0c0"/>
<rect x="584.60" y="325.20" width="4.71" height="5.70" fill="#c4c0c0"/>
<rect x="590.12" y="325.20" width="4.71" height="5.70" fill="#c4c0c0"/>
<rect x="595.63" y="325.20" width="4.71" height="5.70" fill="#c4c0c0"/>
<rect x="601.14" y="325.20" width="4.71" height="5.70" fill="#c4c0c0"/>
<rect x="606.65" y="325.20" width="4.71" height="5.70" fill="#c4c0c0"/>
<rect x="5.15" y="332.60" width="607.01" height="7.30" fill="#9a9a9a"/>
<rect x="5.95" y="333.40" width="4.71" height="5.70" fill="#4650b0"/>
<rect x="11.46" y="333.40" width="4.71" height="5.70" fill="#f8e010"/>
<rect x="16.97" y="333.40" width="4.71" height="5.70" fill="#f8e010"/>
<rect x="22.48" y="333.40" width="4.71" height="5.70" fill="#f8e010"/>
<rect x="27.99" y="333.40" width="4.71" height="5.70" fill="#f8e010"/>
<rect x="33.50" y="333.40" width="4.71" height="5.70" fill="#f8e010"/>
<rect x="39.02" y="333.40" width="4.71" height="5.70" fill="#f8e010"/>
<rect x="44.53" y="333.40" width="4.71" height="5.70" fill="#f8e010"/>
<rect x="50.04" y="333.40" width="4.71" height="5.70" fill="#f8e010"/>
<rect x="55.55" y="333.40" width="4.71" height="5.70" fill="#4650b0"/>
<rect x="61.06" y="333.40" width="4.71" height="5.70" fill="#f8e010"/>
<rect x="66.57" y="333.40" width="4.71" height="5.70" fill="#f8e010"/>
<rect x="72.08" y="333.40" width="4.71" height="5.70" fill="#f8e010"/>
<rect x="77.59" y="333.40" width="4.71" height="5.70" fill="#f8e010"/>
<rect x="83.10" y="333.40" width="4.71" height="5.70" fill="#4650b0"/>
<rect x="88.62" y="333.40" width="4.71" height="5.70" fill="#f8e010"/>
<rect x="94.13" y="333.40" width="4.71" height="5.70" fill="#f8e010"/>
<rect x="99.64" y="333.40" width="4.71" height="5.70" fill="#4650b0"/>
<rect x="105.15" y="333.40" width="4.71" height="5.70" fill="#f8e010"/>
<rect x="110.66" y="333.40" width="4.71" height="5.70" fill="#f8e010"/>
<rect x="116.17" y="333.40" width="4.71" height="5.70" fill="#4650b0"/>
<rect x="121.68" y="333.40" width="4.71" height="5.70" fill="#f8e010"/>
<rect x="127.19" y="333.40" width="4.71" height="5.70" fill="#f8e010"/>
<rect x="132.70" y="333.40" width="4.71" height="5.70" fill="#4650b0"/>
<rect x="138.21" y="333.40" width="4.71" height="5.70" fill="#f8e010"/>
<rect x="143.73" y="333.40" width="4.71" height="5.70" fill="#f8e010"/>
<rect x="149.24" y="333.40" width="4.71" height="5.70" fill="#f8e010"/>
<rect x="154.75" y="333.40" width="4.71" height="5.70" fill="#4650b0"/>
<rect x="160.26" y="333.40" width="4.71" height="5.70" fill="#f8e010"/>
<rect x="165.77" y="333.40" width="4.71" height="5.70" fill="#f8e010"/>
<rect x="171.28" y="333.40" width="4.71" height="5.70" fill="#f8e010"/>
<rect x="176.79" y="333.40" width="4.71" height="5.70" fill="#f8e010"/>
<rect x="182.30" y="333.40" width="4.71" height="5.70" fill="#f8e010"/>
<rect x="187.81" y="333.40" width="4.71" height="5.70" fill="#4650b0"/>
<rect x="193.32" y="333.40" width="4.71" height="5.70" fill="#f8e010"/>
<rect x="198.84" y="333.40" width="4.71" height="5.70" fill="#4650b0"/>
<rect x="204.35" y="333.40" width="4.71" height="5.70" fill="#f8e010"/>
<rect x="209.86" y="333.40" width="4.71" height="5.70" fill="#4650b0"/>
<rect x="215.37" y="333.40" width="4.71" height="5.70" fill="#4650b0"/>
<rect x="220.88" y="333.40" width="4.71" height="5.70" fill="#4650b0"/>
<rect x="226.39" y="333.40" width="4.71" height="5.70" fill="#4650b0"/>
<rect x="231.90" y="333.40" width="4.71" height="5.70" fill="#4650b0"/>
<rect x="237.41" y="333.40" width="4.71" height="5.70" fill="#4650b0"/>
<rect x="242.92" y="333.40" width="4.71" height="5.70" fill="#f8e010"/>
<rect x="248.43" y="333.40" width="4.71" height="5.70" fill="#f8e010"/>
<rect x="253.95" y="333.40" width="4.71" height="5.70" fill="#f8e010"/>
<rect x="259.46" y="333.40" width="4.71" height="5.70" fill="#f8e010"/>
<rect x="264.97" y="333.40" width="4.71" height="5.70" fill="#f8e010"/>
<rect x="270.48" y="333.40" width="4.71" height="5.70" fill="#4650b0"/>
<rect x="275.99" y="333.40" width="4.71" height="5.70" fill="#4650b0"/>
<rect x="281.50" y="333.40" width="4.71" height="5.70" fill="#4650b0"/>
<rect x="287.01" y="333.40" width="4.71" height="5.70" fill="#f8e010"/>
<rect x="292.52" y="333.40" width="4.71" height="5.70" fill="#4650b0"/>
<rect x="298.03" y="333.40" width="4.71" height="5.70" fill="#4650b0"/>
<rect x="303.54" y="333.40" width="4.71" height="5.70" fill="#4650b0"/>
<rect x="309.06" y="333.40" width="4.71" height="5.70" fill="#f8e010"/>
<rect x="314.57" y="333.40" width="4.71" height="5.70" fill="#4650b0"/>
<rect x="320.08" y="333.40" width="4.71" height="5.70" fill="#4650b0"/>
<rect x="325.59" y="333.40" width="4.71" height="5.70" fill="#4650b0"/>
<rect x="331.10" y="333.40" width="4.71" height="5.70" fill="#4650b0"/>
<rect x="336.61" y="333.40" width="4.71" height="5.70" fill="#f8e010"/>
<rect x="342.12" y="333.40" width="4.71" height="5.70" fill="#f8e010"/>
<rect x="347.63" y="333.40" width="4.71" height="5.70" fill="#f8e010"/>
<rect x="353.14" y="333.40" width="4.71" height="5.70" fill="#f8e010"/>
<rect x="358.65" y="333.40" width="4.71" height="5.70" fill="#4650b0"/>
<rect x="364.17" y="333.40" width="4.71" height="5.70" fill="#f8e010"/>
<rect x="369.68" y="333.40" width="4.71" height="5.70" fill="#4650b0"/>
<rect x="375.19" y="333.40" width="4.71" height="5.70" fill="#4650b0"/>
<rect x="380.70" y="333.40" width="4.71" height="5.70" fill="#4650b0"/>
<rect x="386.21" y="333.40" width="4.71" height="5.70" fill="#4650b0"/>
<rect x="391.72" y="333.40" width="4.71" height="5.70" fill="#f8e010"/>
<rect x="397.23" y="333.40" width="4.71" height="5.70" fill="#4650b0"/>
<rect x="402.74" y="333.40" width="4.71" height="5.70" fill="#f8e010"/>
<rect x="408.25" y="333.40" width="4.71" height="5.70" fill="#f8e010"/>
<rect x="413.76" y="333.40" width="4.71" height="5.70" fill="#4650b0"/>
<rect x="419.27" y="333.40" width="4.71" height="5.70" fill="#f8e010"/>
<rect x="424.79" y="333.40" width="4.71" height="5.70" fill="#f8e010"/>
<rect x="430.30" y="333.40" width="4.71" height="5.70" fill="#f8e010"/>
<rect x="435.81" y="333.40" width="4.71" height="5.70" fill="#4650b0"/>
<rect x="441.32" y="333.40" width="4.71" height="5.70" fill="#4650b0"/>
<rect x="446.83" y="333.40" width="4.71" height="5.70" fill="#f8e010"/>
<rect x="452.34" y="333.40" width="4.71" height="5.70" fill="#4650b0"/>
<rect x="457.85" y="333.40" width="4.71" height="5.70" fill="#f8e010"/>
<rect x="463.36" y="333.40" width="4.71" height="5.70" fill="#4650b0"/>
<rect x="468.87" y="333.40" width="4.71" height="5.70" fill="#f8e010"/>
<rect x="474.38" y="333.40" width="4.71" height="5.70" fill="#f8e010"/>
<rect x="479.90" y="333.40" width="4.71" height="5.70" fill="#4650b0"/>
<rect x="485.41" y="333.40" width="4.71" height="5.70" fill="#f8e010"/>
<rect x="490.92" y="333.40" width="4.71" height="5.70" fill="#4650b0"/>
<rect x="496.43" y="333.40" width="4.71" height="5.70" fill="#f8e010"/>
<rect x="501.94" y="333.40" width="4.71" height="5.70" fill="#f8e010"/>
<rect x="507.45" y="333.40" width="4.71" height="5.70" fill="#f8e010"/>
<rect x="512.96" y="333.40" width="4.71" height="5.70" fill="#f8e010"/>
<rect x="518.47" y="333.40" width="4.71" height="5.70" fill="#4650b0"/>
<rect x="523.98" y="333.40" width="4.71" height="5.70" fill="#4650b0"/>
<rect x="529.49" y="333.40" width="4.71" height="5.70" fill="#4650b0"/>
<rect x="535.01" y="333.40" width="4.71" height="5.70" fill="#4650b0"/>
<rect x="540.52" y="333.40" width="4.71" height="5.70" fill="#4650b0"/>
<rect x="546.03" y="333.40" width="4.71" height="5.70" fill="#f8e010"/>
<rect x="551.54" y="333.40" width="4.71" height="5.70" fill="#f8e010"/>
<rect x="557.05" y="333.40" width="4.71" height="5.70" fill="#4650b0"/>
<rect x="562.56" y="333.40" width="4.71" height="5.70" fill="#4650b0"/>
<rect x="568.07" y="333.40" width="4.71" height="5.70" fill="#f8e010"/>
<rect x="573.58" y="333.40" width="4.71" height="5.70" fill="#4650b0"/>
<rect x="579.09" y="333.40" width="4.71" height="5.70" fill="#4650b0"/>
<rect x="584.60" y="333.40" width="4.71" height="5.70" fill="#f8e010"/>
<rect x="590.12" y="333.40" width="4.71" height="5.70" fill="#f8e010"/>
<rect x="595.63" y="333.40" width="4.71" height="5.70" fill="#f8e010"/>
<rect x="601.14" y="333.40" width="4.71" height="5.70" fill="#f8e010"/>
<rect x="606.65" y="333.40" width="4.71" height="5.70" fill="#f8e010"/>
<rect x="5.15" y="340.90" width="607.01" height="7.30" fill="#9a9a9a"/>
<rect x="5.95" y="341.70" width="4.71" height="5.70" fill="#9a3cc0"/>
<rect x="11.46" y="341.70" width="4.71" height="5.70" fill="#9a3cc0"/>
<rect x="16.97" y="341.70" width="4.71" height="5.70" fill="#9a3cc0"/>
<rect x="22.48" y="341.70" width="4.71" height="5.70" fill="#9a3cc0"/>
<rect x="27.99" y="341.70" width="4.71" height="5.70" fill="#9a3cc0"/>
<rect x="33.50" y="341.70" width="4.71" height="5.70" fill="#9a3cc0"/>
<rect x="39.02" y="341.70" width="4.71" height="5.70" fill="#8adce8"/>
<rect x="44.53" y="341.70" width="4.71" height="5.70" fill="#9a3cc0"/>
<rect x="50.04" y="341.70" width="4.71" height="5.70" fill="#9a3cc0"/>
<rect x="55.55" y="341.70" width="4.71" height="5.70" fill="#8adce8"/>
<rect x="61.06" y="341.70" width="4.71" height="5.70" fill="#9a3cc0"/>
<rect x="66.57" y="341.70" width="4.71" height="5.70" fill="#8adce8"/>
<rect x="72.08" y="341.70" width="4.71" height="5.70" fill="#9a3cc0"/>
<rect x="77.59" y="341.70" width="4.71" height="5.70" fill="#9a3cc0"/>
<rect x="83.10" y="341.70" width="4.71" height="5.70" fill="#9a3cc0"/>
<rect x="88.62" y="341.70" width="4.71" height="5.70" fill="#9a3cc0"/>
<rect x="94.13" y="341.70" width="4.71" height="5.70" fill="#9a3cc0"/>
<rect x="99.64" y="341.70" width="4.71" height="5.70" fill="#9a3cc0"/>
<rect x="105.15" y="341.70" width="4.71" height="5.70" fill="#9a3cc0"/>
<rect x="110.66" y="341.70" width="4.71" height="5.70" fill="#9a3cc0"/>
<rect x="116.17" y="341.70" width="4.71" height="5.70" fill="#9a3cc0"/>
<rect x="121.68" y="341.70" width="4.71" height="5.70" fill="#9a3cc0"/>
<rect x="127.19" y="341.70" width="4.71" height="5.70" fill="#9a3cc0"/>
<rect x="132.70" y="341.70" width="4.71" height="5.70" fill="#8adce8"/>
<rect x="138.21" y="341.70" width="4.71" height="5.70" fill="#9a3cc0"/>
<rect x="143.73" y="341.70" width="4.71" height="5.70" fill="#9a3cc0"/>
<rect x="149.24" y="341.70" width="4.71" height="5.70" fill="#9a3cc0"/>
<rect x="154.75" y="341.70" width="4.71" height="5.70" fill="#8adce8"/>
<rect x="160.26" y="341.70" width="4.71" height="5.70" fill="#9a3cc0"/>
<rect x="165.77" y="341.70" width="4.71" height="5.70" fill="#9a3cc0"/>
<rect x="171.28" y="341.70" width="4.71" height="5.70" fill="#8adce8"/>
<rect x="176.79" y="341.70" width="4.71" height="5.70" fill="#9a3cc0"/>
<rect x="182.30" y="341.70" width="4.71" height="5.70" fill="#8adce8"/>
<rect x="187.81" y="341.70" width="4.71" height="5.70" fill="#8adce8"/>
<rect x="193.32" y="341.70" width="4.71" height="5.70" fill="#9a3cc0"/>
<rect x="198.84" y="341.70" width="4.71" height="5.70" fill="#9a3cc0"/>
<rect x="204.35" y="341.70" width="4.71" height="5.70" fill="#8adce8"/>
<rect x="209.86" y="341.70" width="4.71" height="5.70" fill="#9a3cc0"/>
<rect x="215.37" y="341.70" width="4.71" height="5.70" fill="#8adce8"/>
<rect x="220.88" y="341.70" width="4.71" height="5.70" fill="#9a3cc0"/>
<rect x="226.39" y="341.70" width="4.71" height="5.70" fill="#8adce8"/>
<rect x="231.90" y="341.70" width="4.71" height="5.70" fill="#9a3cc0"/>
<rect x="237.41" y="341.70" width="4.71" height="5.70" fill="#8adce8"/>
<rect x="242.92" y="341.70" width="4.71" height="5.70" fill="#9a3cc0"/>
<rect x="248.43" y="341.70" width="4.71" height="5.70" fill="#8adce8"/>
<rect x="253.95" y="341.70" width="4.71" height="5.70" fill="#9a3cc0"/>
<rect x="259.46" y="341.70" width="4.71" height="5.70" fill="#9a3cc0"/>
<rect x="264.97" y="341.70" width="4.71" height="5.70" fill="#9a3cc0"/>
<rect x="270.48" y="341.70" width="4.71" height="5.70" fill="#8adce8"/>
<rect x="275.99" y="341.70" width="4.71" height="5.70" fill="#9a3cc0"/>
<rect x="281.50" y="341.70" width="4.71" height="5.70" fill="#8adce8"/>
<rect x="287.01" y="341.70" width="4.71" height="5.70" fill="#9a3cc0"/>
<rect x="292.52" y="341.70" width="4.71" height="5.70" fill="#8adce8"/>
<rect x="298.03" y="341.70" width="4.71" height="5.70" fill="#8adce8"/>
<rect x="303.54" y="341.70" width="4.71" height="5.70" fill="#9a3cc0"/>
<rect x="309.06" y="341.70" width="4.71" height="5.70" fill="#9a3cc0"/>
<rect x="314.57" y="341.70" width="4.71" height="5.70" fill="#8adce8"/>
<rect x="320.08" y="341.70" width="4.71" height="5.70" fill="#9a3cc0"/>
<rect x="325.59" y="341.70" width="4.71" height="5.70" fill="#9a3cc0"/>
<rect x="331.10" y="341.70" width="4.71" height="5.70" fill="#8adce8"/>
<rect x="336.61" y="341.70" width="4.71" height="5.70" fill="#9a3cc0"/>
<rect x="342.12" y="341.70" width="4.71" height="5.70" fill="#9a3cc0"/>
<rect x="347.63" y="341.70" width="4.71" height="5.70" fill="#9a3cc0"/>
<rect x="353.14" y="341.70" width="4.71" height="5.70" fill="#8adce8"/>
<rect x="358.65" y="341.70" width="4.71" height="5.70" fill="#8adce8"/>
<rect x="364.17" y="341.70" width="4.71" height="5.70" fill="#9a3cc0"/>
<rect x="369.68" y="341.70" width="4.71" height="5.70" fill="#8adce8"/>
<rect x="375.19" y="341.70" width="4.71" height="5.70" fill="#8adce8"/>
<rect x="380.70" y="341.70" width="4.71" height="5.70" fill="#8adce8"/>
<rect x="386.21" y="341.70" width="4.71" height="5.70" fill="#8adce8"/>
<rect x="391.72" y="341.70" width="4.71" height="5.70" fill="#9a3cc0"/>
<rect x="397.23" y="341.70" width="4.71" height="5.70" fill="#9a3cc0"/>
<rect x="402.74" y="341.70" width="4.71" height="5.70" fill="#8adce8"/>
<rect x="408.25" y="341.70" width="4.71" height="5.70" fill="#8adce8"/>
<rect x="413.76" y="341.70" width="4.71" height="5.70" fill="#9a3cc0"/>
<rect x="419.27" y="341.70" width="4.71" height="5.70" fill="#8adce8"/>
<rect x="424.79" y="341.70" width="4.71" height="5.70" fill="#8adce8"/>
<rect x="430.30" y="341.70" width="4.71" height="5.70" fill="#8adce8"/>
<rect x="435.81" y="341.70" width="4.71" height="5.70" fill="#9a3cc0"/>
<rect x="441.32" y="341.70" width="4.71" height="5.70" fill="#8adce8"/>
<rect x="446.83" y="341.70" width="4.71" height="5.70" fill="#9a3cc0"/>
<rect x="452.34" y="341.70" width="4.71" height="5.70" fill="#9a3cc0"/>
<rect x="457.85" y="341.70" width="4.71" height="5.70" fill="#9a3cc0"/>
<rect x="463.36" y="341.70" width="4.71" height="5.70" fill="#9a3cc0"/>
<rect x="468.87" y="341.70" width="4.71" height="5.70" fill="#8adce8"/>
<rect x="474.38" y="341.70" width="4.71" height="5.70" fill="#9a3cc0"/>
<rect x="479.90" y="341.70" width="4.71" height="5.70" fill="#9a3cc0"/>
<rect x="485.41" y="341.70" width="4.71" height="5.70" fill="#8adce8"/>
<rect x="490.92" y="341.70" width="4.71" height="5.70" fill="#9a3cc0"/>
<rect x="496.43" y="341.70" width="4.71" height="5.70" fill="#9a3cc0"/>
<rect x="501.94" y="341.70" width="4.71" height="5.70" fill="#9a3cc0"/>
<rect x="507.45" y="341.70" width="4.71" height="5.70" fill="#8adce8"/>
<rect x="512.96" y="341.70" width="4.71" height="5.70" fill="#9a3cc0"/>
<rect x="518.47" y="341.70" width="4.71" height="5.70" fill="#9a3cc0"/>
<rect x="523.98" y="341.70" width="4.71" height="5.70" fill="#8adce8"/>
<rect x="529.49" y="341.70" width="4.71" height="5.70" fill="#9a3cc0"/>
<rect x="535.01" y="341.70" width="4.71" height="5.70" fill="#8adce8"/>
<rect x="540.52" y="341.70" width="4.71" height="5.70" fill="#8adce8"/>
<rect x="546.03" y="341.70" width="4.71" height="5.70" fill="#8adce8"/>
<rect x="551.54" y="341.70" width="4.71" height="5.70" fill="#9a3cc0"/>
<rect x="557.05" y="341.70" width="4.71" height="5.70" fill="#8adce8"/>
<rect x="562.56" y="341.70" width="4.71" height="5.70" fill="#8adce8"/>
<rect x="568.07" y="341.70" width="4.71" height="5.70" fill="#8adce8"/>
<rect x="573.58" y="341.70" width="4.71" height="5.70" fill="#9a3cc0"/>
<rect x="579.09" y="341.70" width="4.71" height="5.70" fill="#8adce8"/>
<rect x="584.60" y="341.70" width="4.71" height="5.70" fill="#9a3cc0"/>
<rect x="590.12" y="341.70" width="4.71" height="5.70" fill="#8adce8"/>
<rect x="595.63" y="341.70" width="4.71" height="5.70" fill="#8adce8"/>
<rect x="601.14" y="341.70" width="4.71" height="5.70" fill="#8adce8"/>
<rect x="606.65" y="341.70" width="4.71" height="5.70" fill="#8adce8"/>
<text x="616.30" y="266.70" transform="rotate(0.03 616.30 266.70)" font-size="7.0" stroke="#000" stroke-width="0.08" fill="#000">TOP2A</text>
<text x="616.30" y="273.52" transform="rotate(0.03 616.30 273.52)" font-size="7.0" stroke="#000" stroke-width="0.08" fill="#000">RARA</text>
<text x="616.30" y="280.35" transform="rotate(0.03 616.30 280.35)" font-size="7.0" stroke="#000" stroke-width="0.08" fill="#000">GRB7</text>
<text x="616.30" y="287.18" transform="rotate(0.03 616.30 287.18)" font-size="7.0" stroke="#000" stroke-width="0.08" fill="#000">C17orf37</text>
<text x="616.30" y="294.00" transform="rotate(0.03 616.30 294.00)" font-size="7.0" font-weight="700" fill="#000">ERBB2/HER2</text>
<text x="616.30" y="300.82" transform="rotate(0.03 616.30 300.82)" font-size="7.0" stroke="#000" stroke-width="0.08" fill="#000">PERLD1</text>
<text x="616.30" y="307.65" transform="rotate(0.03 616.30 307.65)" font-size="7.0" stroke="#000" stroke-width="0.08" fill="#000">STARD3</text>
<text x="616.30" y="314.47" transform="rotate(0.03 616.30 314.47)" font-size="7.0" stroke="#000" stroke-width="0.08" fill="#000">PPP1R1B</text>
<text x="616.30" y="321.30" transform="rotate(0.03 616.30 321.30)" font-size="7.0" stroke="#000" stroke-width="0.08" fill="#000">NEUROD2</text>
<text x="616.30" y="330.60" transform="rotate(0.03 616.30 330.60)" font-size="7.1" font-weight="700" fill="#000">HER2 low expressor</text>
<text x="616.30" y="338.60" transform="rotate(0.03 616.30 338.60)" font-size="7.1" font-weight="700" fill="#000">pCR</text>
<text x="616.30" y="346.60" transform="rotate(0.03 616.30 346.60)" font-size="7.1" font-weight="700" fill="#000">HR status</text>
<text x="10.50" y="359.70" transform="rotate(0.03 10.50 359.70)" font-size="7.8" font-weight="700" fill="#000">HER2 low expressor</text>
<rect x="10.50" y="365.00" width="10.00" height="9.70" fill="#e02818" stroke="#9a9a9a" stroke-width="0.6"/>
<text x="23.90" y="372.65" transform="rotate(0.03 23.90 372.65)" font-size="7.7" stroke="#000" stroke-width="0.08" fill="#000">Yes</text>
<rect x="10.50" y="374.70" width="10.00" height="9.70" fill="#c4c0c0" stroke="#9a9a9a" stroke-width="0.6"/>
<text x="23.90" y="382.35" transform="rotate(0.03 23.90 382.35)" font-size="7.7" stroke="#000" stroke-width="0.08" fill="#000">No</text>
<text x="104.00" y="359.70" transform="rotate(0.03 104.00 359.70)" font-size="7.8" font-weight="700" fill="#000">pCR</text>
<rect x="104.00" y="365.00" width="10.00" height="9.70" fill="#4650b0" stroke="#9a9a9a" stroke-width="0.6"/>
<text x="117.30" y="372.65" transform="rotate(0.03 117.30 372.65)" font-size="7.7" stroke="#000" stroke-width="0.08" fill="#000">Yes</text>
<rect x="104.00" y="374.70" width="10.00" height="9.70" fill="#f8e010" stroke="#9a9a9a" stroke-width="0.6"/>
<text x="117.30" y="382.35" transform="rotate(0.03 117.30 382.35)" font-size="7.7" stroke="#000" stroke-width="0.08" fill="#000">No</text>
<text x="147.90" y="359.70" transform="rotate(0.03 147.90 359.70)" font-size="7.8" font-weight="700" fill="#000">HR status</text>
<rect x="147.90" y="363.90" width="10.00" height="9.80" fill="#9a3cc0" stroke="#9a9a9a" stroke-width="0.6"/>
<text x="161.40" y="371.60" transform="rotate(0.03 161.40 371.60)" font-size="7.7" stroke="#000" stroke-width="0.08" fill="#000">Pos</text>
<rect x="147.90" y="373.70" width="10.00" height="9.70" fill="#8adce8" stroke="#9a9a9a" stroke-width="0.6"/>
<text x="161.40" y="381.35" transform="rotate(0.03 161.40 381.35)" font-size="7.7" stroke="#000" stroke-width="0.08" fill="#000">Neg</text>
<text x="266.50" y="359.70" transform="rotate(0.03 266.50 359.70)" font-size="7.8" font-weight="700" fill="#000"><tspan font-style="italic">Z</tspan>-score</text>
<rect x="221.60" y="365.80" width="118.50" height="10.00" fill="url(#gZ)"/>
<text x="225.80" y="385.50" transform="rotate(0.03 225.80 385.50)" font-size="7.7" stroke="#000" stroke-width="0.08" text-anchor="middle" fill="#000">-3</text>
<text x="243.80" y="385.50" transform="rotate(0.03 243.80 385.50)" font-size="7.7" stroke="#000" stroke-width="0.08" text-anchor="middle" fill="#000">-2</text>
<text x="261.60" y="385.50" transform="rotate(0.03 261.60 385.50)" font-size="7.7" stroke="#000" stroke-width="0.08" text-anchor="middle" fill="#000">-1</text>
<text x="279.00" y="385.50" transform="rotate(0.03 279.00 385.50)" font-size="7.7" stroke="#000" stroke-width="0.08" text-anchor="middle" fill="#000">0</text>
<text x="297.60" y="385.50" transform="rotate(0.03 297.60 385.50)" font-size="7.7" stroke="#000" stroke-width="0.08" text-anchor="middle" fill="#000">1</text>
<text x="316.50" y="385.50" transform="rotate(0.03 316.50 385.50)" font-size="7.7" stroke="#000" stroke-width="0.08" text-anchor="middle" fill="#000">2</text>
<text x="335.10" y="385.50" transform="rotate(0.03 335.10 385.50)" font-size="7.7" stroke="#000" stroke-width="0.08" text-anchor="middle" fill="#000">3</text>
<text x="-0.40" y="256.10" transform="rotate(0.03 -0.40 256.10)" font-size="14" font-weight="700" fill="#000">b</text>
</g>
<g id="panel-c">
<rect x="61.45" y="478.50" width="24.00" height="24.00" fill="#ffffff" stroke="#c8c8c8" stroke-width="0.7"/>
<rect x="85.45" y="478.50" width="24.00" height="24.00" fill="#ffffff" stroke="#c8c8c8" stroke-width="0.7"/>
<rect x="109.45" y="478.50" width="24.00" height="24.00" fill="#ffffff" stroke="#c8c8c8" stroke-width="0.7"/>
<rect x="133.45" y="478.50" width="24.00" height="24.00" fill="#ffffff" stroke="#c8c8c8" stroke-width="0.7"/>
<rect x="157.45" y="478.50" width="24.00" height="24.00" fill="#ffffff" stroke="#c8c8c8" stroke-width="0.7"/>
<rect x="181.45" y="478.50" width="24.00" height="24.00" fill="#ffffff" stroke="#c8c8c8" stroke-width="0.7"/>
<rect x="205.45" y="478.50" width="24.00" height="24.00" fill="#ffffff" stroke="#c8c8c8" stroke-width="0.7"/>
<rect x="229.45" y="478.50" width="24.00" height="24.00" fill="#ffffff" stroke="#c8c8c8" stroke-width="0.7"/>
<rect x="253.45" y="478.50" width="24.00" height="24.00" fill="#ffffff" stroke="#c8c8c8" stroke-width="0.7"/>
<rect x="277.45" y="478.50" width="24.00" height="24.00" fill="#ffffff" stroke="#c8c8c8" stroke-width="0.7"/>
<rect x="85.45" y="502.50" width="24.00" height="24.00" fill="#ffffff" stroke="#c8c8c8" stroke-width="0.7"/>
<rect x="109.45" y="502.50" width="24.00" height="24.00" fill="#ffffff" stroke="#c8c8c8" stroke-width="0.7"/>
<rect x="133.45" y="502.50" width="24.00" height="24.00" fill="#ffffff" stroke="#c8c8c8" stroke-width="0.7"/>
<rect x="157.45" y="502.50" width="24.00" height="24.00" fill="#ffffff" stroke="#c8c8c8" stroke-width="0.7"/>
<rect x="181.45" y="502.50" width="24.00" height="24.00" fill="#ffffff" stroke="#c8c8c8" stroke-width="0.7"/>
<rect x="205.45" y="502.50" width="24.00" height="24.00" fill="#ffffff" stroke="#c8c8c8" stroke-width="0.7"/>
<rect x="229.45" y="502.50" width="24.00" height="24.00" fill="#ffffff" stroke="#c8c8c8" stroke-width="0.7"/>
<rect x="253.45" y="502.50" width="24.00" height="24.00" fill="#ffffff" stroke="#c8c8c8" stroke-width="0.7"/>
<rect x="277.45" y="502.50" width="24.00" height="24.00" fill="#ffffff" stroke="#c8c8c8" stroke-width="0.7"/>
<rect x="109.45" y="526.50" width="24.00" height="24.00" fill="#ffffff" stroke="#c8c8c8" stroke-width="0.7"/>
<rect x="133.45" y="526.50" width="24.00" height="24.00" fill="#ffffff" stroke="#c8c8c8" stroke-width="0.7"/>
<rect x="157.45" y="526.50" width="24.00" height="24.00" fill="#ffffff" stroke="#c8c8c8" stroke-width="0.7"/>
<rect x="181.45" y="526.50" width="24.00" height="24.00" fill="#ffffff" stroke="#c8c8c8" stroke-width="0.7"/>
<rect x="205.45" y="526.50" width="24.00" height="24.00" fill="#ffffff" stroke="#c8c8c8" stroke-width="0.7"/>
<rect x="229.45" y="526.50" width="24.00" height="24.00" fill="#ffffff" stroke="#c8c8c8" stroke-width="0.7"/>
<rect x="253.45" y="526.50" width="24.00" height="24.00" fill="#ffffff" stroke="#c8c8c8" stroke-width="0.7"/>
<rect x="277.45" y="526.50" width="24.00" height="24.00" fill="#ffffff" stroke="#c8c8c8" stroke-width="0.7"/>
<rect x="133.45" y="550.50" width="24.00" height="24.00" fill="#ffffff" stroke="#c8c8c8" stroke-width="0.7"/>
<rect x="157.45" y="550.50" width="24.00" height="24.00" fill="#ffffff" stroke="#c8c8c8" stroke-width="0.7"/>
<rect x="181.45" y="550.50" width="24.00" height="24.00" fill="#ffffff" stroke="#c8c8c8" stroke-width="0.7"/>
<rect x="205.45" y="550.50" width="24.00" height="24.00" fill="#ffffff" stroke="#c8c8c8" stroke-width="0.7"/>
<rect x="229.45" y="550.50" width="24.00" height="24.00" fill="#ffffff" stroke="#c8c8c8" stroke-width="0.7"/>
<rect x="253.45" y="550.50" width="24.00" height="24.00" fill="#ffffff" stroke="#c8c8c8" stroke-width="0.7"/>
<rect x="277.45" y="550.50" width="24.00" height="24.00" fill="#ffffff" stroke="#c8c8c8" stroke-width="0.7"/>
<rect x="157.45" y="574.50" width="24.00" height="24.00" fill="#ffffff" stroke="#c8c8c8" stroke-width="0.7"/>
<rect x="181.45" y="574.50" width="24.00" height="24.00" fill="#ffffff" stroke="#c8c8c8" stroke-width="0.7"/>
<rect x="205.45" y="574.50" width="24.00" height="24.00" fill="#ffffff" stroke="#c8c8c8" stroke-width="0.7"/>
<rect x="229.45" y="574.50" width="24.00" height="24.00" fill="#ffffff" stroke="#c8c8c8" stroke-width="0.7"/>
<rect x="253.45" y="574.50" width="24.00" height="24.00" fill="#ffffff" stroke="#c8c8c8" stroke-width="0.7"/>
<rect x="277.45" y="574.50" width="24.00" height="24.00" fill="#ffffff" stroke="#c8c8c8" stroke-width="0.7"/>
<rect x="181.45" y="598.50" width="24.00" height="24.00" fill="#ffffff" stroke="#c8c8c8" stroke-width="0.7"/>
<rect x="205.45" y="598.50" width="24.00" height="24.00" fill="#ffffff" stroke="#c8c8c8" stroke-width="0.7"/>
<rect x="229.45" y="598.50" width="24.00" height="24.00" fill="#ffffff" stroke="#c8c8c8" stroke-width="0.7"/>
<rect x="253.45" y="598.50" width="24.00" height="24.00" fill="#ffffff" stroke="#c8c8c8" stroke-width="0.7"/>
<rect x="277.45" y="598.50" width="24.00" height="24.00" fill="#ffffff" stroke="#c8c8c8" stroke-width="0.7"/>
<rect x="205.45" y="622.50" width="24.00" height="24.00" fill="#ffffff" stroke="#c8c8c8" stroke-width="0.7"/>
<rect x="229.45" y="622.50" width="24.00" height="24.00" fill="#ffffff" stroke="#c8c8c8" stroke-width="0.7"/>
<rect x="253.45" y="622.50" width="24.00" height="24.00" fill="#ffffff" stroke="#c8c8c8" stroke-width="0.7"/>
<rect x="277.45" y="622.50" width="24.00" height="24.00" fill="#ffffff" stroke="#c8c8c8" stroke-width="0.7"/>
<rect x="229.45" y="646.50" width="24.00" height="24.00" fill="#ffffff" stroke="#c8c8c8" stroke-width="0.7"/>
<rect x="253.45" y="646.50" width="24.00" height="24.00" fill="#ffffff" stroke="#c8c8c8" stroke-width="0.7"/>
<rect x="277.45" y="646.50" width="24.00" height="24.00" fill="#ffffff" stroke="#c8c8c8" stroke-width="0.7"/>
<rect x="253.45" y="670.50" width="24.00" height="24.00" fill="#ffffff" stroke="#c8c8c8" stroke-width="0.7"/>
<rect x="277.45" y="670.50" width="24.00" height="24.00" fill="#ffffff" stroke="#c8c8c8" stroke-width="0.7"/>
<rect x="277.45" y="694.50" width="24.00" height="24.00" fill="#ffffff" stroke="#c8c8c8" stroke-width="0.7"/>
<circle cx="73.45" cy="490.50" r="11.20" fill="#4049a3"/>
<circle cx="97.45" cy="490.50" r="6.34" fill="#c5c0ec"/>
<circle cx="121.45" cy="490.50" r="3.36" fill="#f3f2fb"/>
<circle cx="145.45" cy="490.50" r="6.13" fill="#fcc4ca"/>
<circle cx="169.45" cy="490.50" r="6.53" fill="#fcc4ca"/>
<circle cx="193.45" cy="490.50" r="8.31" fill="#f46e74"/>
<circle cx="217.45" cy="490.50" r="7.84" fill="#f98a92"/>
<circle cx="241.45" cy="490.50" r="8.31" fill="#f46e74"/>
<circle cx="265.45" cy="490.50" r="7.76" fill="#f98a92"/>
<circle cx="289.45" cy="490.50" r="8.60" fill="#f46e74"/>
<circle cx="97.45" cy="514.50" r="11.20" fill="#4049a3"/>
<circle cx="121.45" cy="514.50" r="6.72" fill="#c5c0ec"/>
<circle cx="145.45" cy="514.50" r="4.88" fill="#fddde0"/>
<circle cx="169.45" cy="514.50" r="1.28" fill="#fdeef0"/>
<circle cx="193.45" cy="514.50" r="4.69" fill="#fddde0"/>
<circle cx="217.45" cy="514.50" r="3.36" fill="#fdeef0"/>
<circle cx="241.45" cy="514.50" r="1.23" fill="#fdeef0"/>
<circle cx="265.45" cy="514.50" r="6.03" fill="#fcc4ca"/>
<circle cx="289.45" cy="514.50" r="6.08" fill="#fcc4ca"/>
<circle cx="121.45" cy="538.50" r="11.20" fill="#4049a3"/>
<circle cx="145.45" cy="538.50" r="7.08" fill="#fba8b0"/>
<circle cx="169.45" cy="538.50" r="4.95" fill="#fddde0"/>
<circle cx="193.45" cy="538.50" r="4.69" fill="#fddde0"/>
<circle cx="217.45" cy="538.50" r="1.94" fill="#fdeef0"/>
<circle cx="241.45" cy="538.50" r="3.36" fill="#f3f2fb"/>
<circle cx="265.45" cy="538.50" r="7.76" fill="#f98a92"/>
<circle cx="289.45" cy="538.50" r="7.43" fill="#f98a92"/>
<circle cx="145.45" cy="562.50" r="11.20" fill="#4049a3"/>
<circle cx="169.45" cy="562.50" r="10.33" fill="#464ca6"/>
<circle cx="193.45" cy="562.50" r="4.19" fill="#dddbf5"/>
<circle cx="217.45" cy="562.50" r="2.74" fill="#fdeef0"/>
<circle cx="241.45" cy="562.50" r="2.50" fill="#fdeef0"/>
<circle cx="265.45" cy="562.50" r="4.95" fill="#dddbf5"/>
<circle cx="289.45" cy="562.50" r="9.76" fill="#4c50ab"/>
<circle cx="169.45" cy="586.50" r="11.20" fill="#4049a3"/>
<circle cx="193.45" cy="586.50" r="4.19" fill="#dddbf5"/>
<circle cx="217.45" cy="586.50" r="1.58" fill="#fdeef0"/>
<circle cx="241.45" cy="586.50" r="1.94" fill="#f3f2fb"/>
<circle cx="265.45" cy="586.50" r="3.36" fill="#f3f2fb"/>
<circle cx="289.45" cy="586.50" r="8.60" fill="#6a62bc"/>
<circle cx="193.45" cy="610.50" r="11.20" fill="#4049a3"/>
<circle cx="217.45" cy="610.50" r="10.63" fill="#464ca6"/>
<circle cx="241.45" cy="610.50" r="10.14" fill="#464ca6"/>
<circle cx="265.45" cy="610.50" r="9.95" fill="#4c50ab"/>
<circle cx="289.45" cy="610.50" r="8.82" fill="#5856b2"/>
<circle cx="217.45" cy="634.50" r="11.20" fill="#4049a3"/>
<circle cx="241.45" cy="634.50" r="10.48" fill="#464ca6"/>
<circle cx="265.45" cy="634.50" r="9.30" fill="#5856b2"/>
<circle cx="289.45" cy="634.50" r="7.26" fill="#8a80cf"/>
<circle cx="241.45" cy="658.50" r="11.20" fill="#4049a3"/>
<circle cx="265.45" cy="658.50" r="8.31" fill="#6a62bc"/>
<circle cx="289.45" cy="658.50" r="6.86" fill="#a9a0df"/>
<circle cx="265.45" cy="682.50" r="11.20" fill="#4049a3"/>
<circle cx="289.45" cy="682.50" r="8.60" fill="#6a62bc"/>
<circle cx="289.45" cy="706.50" r="11.20" fill="#4049a3"/>
<rect x="305.30" y="478.50" width="8.70" height="12.40" fill="#4049a3"/>
<rect x="305.30" y="598.50" width="8.70" height="12.40" fill="#fdeef0"/>
<rect x="305.30" y="490.50" width="8.70" height="12.40" fill="#464ca6"/>
<rect x="305.30" y="610.50" width="8.70" height="12.40" fill="#fddde0"/>
<rect x="305.30" y="502.50" width="8.70" height="12.40" fill="#4c50ab"/>
<rect x="305.30" y="622.50" width="8.70" height="12.40" fill="#fcc4ca"/>
<rect x="305.30" y="514.50" width="8.70" height="12.40" fill="#5856b2"/>
<rect x="305.30" y="634.50" width="8.70" height="12.40" fill="#fba8b0"/>
<rect x="305.30" y="526.50" width="8.70" height="12.40" fill="#6a62bc"/>
<rect x="305.30" y="646.50" width="8.70" height="12.40" fill="#f98a92"/>
<rect x="305.30" y="538.50" width="8.70" height="12.40" fill="#8a80cf"/>
<rect x="305.30" y="658.50" width="8.70" height="12.40" fill="#f46e74"/>
<rect x="305.30" y="550.50" width="8.70" height="12.40" fill="#a9a0df"/>
<rect x="305.30" y="670.50" width="8.70" height="12.40" fill="#ec5458"/>
<rect x="305.30" y="562.50" width="8.70" height="12.40" fill="#c5c0ec"/>
<rect x="305.30" y="682.50" width="8.70" height="12.40" fill="#e44440"/>
<rect x="305.30" y="574.50" width="8.70" height="12.40" fill="#dddbf5"/>
<rect x="305.30" y="694.50" width="8.70" height="12.40" fill="#dc3428"/>
<rect x="305.30" y="586.50" width="8.70" height="12.40" fill="#f3f2fb"/>
<rect x="305.30" y="706.50" width="8.70" height="12.00" fill="#d82c1c"/>
<rect x="305.30" y="478.50" width="8.70" height="240.00" fill="none" stroke="#111" stroke-width="0.9"/>
<line x1="314.0" y1="478.50" x2="316.3" y2="478.50" stroke="#111" stroke-width="0.9"/>
<text x="319.60" y="480.90" transform="rotate(0.03 319.60 480.90)" font-size="6.6" stroke="#000" stroke-width="0.08" fill="#000">1</text>
<line x1="314.0" y1="490.50" x2="316.3" y2="490.50" stroke="#111" stroke-width="0.9"/>
<text x="319.60" y="492.90" transform="rotate(0.03 319.60 492.90)" font-size="6.6" stroke="#000" stroke-width="0.08" fill="#000">0.9</text>
<line x1="314.0" y1="502.50" x2="316.3" y2="502.50" stroke="#111" stroke-width="0.9"/>
<text x="319.60" y="504.90" transform="rotate(0.03 319.60 504.90)" font-size="6.6" stroke="#000" stroke-width="0.08" fill="#000">0.8</text>
<line x1="314.0" y1="514.50" x2="316.3" y2="514.50" stroke="#111" stroke-width="0.9"/>
<text x="319.60" y="516.90" transform="rotate(0.03 319.60 516.90)" font-size="6.6" stroke="#000" stroke-width="0.08" fill="#000">0.7</text>
<line x1="314.0" y1="526.50" x2="316.3" y2="526.50" stroke="#111" stroke-width="0.9"/>
<text x="319.60" y="528.90" transform="rotate(0.03 319.60 528.90)" font-size="6.6" stroke="#000" stroke-width="0.08" fill="#000">0.6</text>
<line x1="314.0" y1="538.50" x2="316.3" y2="538.50" stroke="#111" stroke-width="0.9"/>
<text x="319.60" y="540.90" transform="rotate(0.03 319.60 540.90)" font-size="6.6" stroke="#000" stroke-width="0.08" fill="#000">0.5</text>
<line x1="314.0" y1="550.50" x2="316.3" y2="550.50" stroke="#111" stroke-width="0.9"/>
<text x="319.60" y="552.90" transform="rotate(0.03 319.60 552.90)" font-size="6.6" stroke="#000" stroke-width="0.08" fill="#000">0.4</text>
<line x1="314.0" y1="562.50" x2="316.3" y2="562.50" stroke="#111" stroke-width="0.9"/>
<text x="319.60" y="564.90" transform="rotate(0.03 319.60 564.90)" font-size="6.6" stroke="#000" stroke-width="0.08" fill="#000">0.3</text>
<line x1="314.0" y1="574.50" x2="316.3" y2="574.50" stroke="#111" stroke-width="0.9"/>
<text x="319.60" y="576.90" transform="rotate(0.03 319.60 576.90)" font-size="6.6" stroke="#000" stroke-width="0.08" fill="#000">0.2</text>
<line x1="314.0" y1="586.50" x2="316.3" y2="586.50" stroke="#111" stroke-width="0.9"/>
<text x="319.60" y="588.90" transform="rotate(0.03 319.60 588.90)" font-size="6.6" stroke="#000" stroke-width="0.08" fill="#000">0.1</text>
<line x1="314.0" y1="598.50" x2="316.3" y2="598.50" stroke="#111" stroke-width="0.9"/>
<text x="319.60" y="600.90" transform="rotate(0.03 319.60 600.90)" font-size="6.6" stroke="#000" stroke-width="0.08" fill="#000">0</text>
<line x1="314.0" y1="610.50" x2="316.3" y2="610.50" stroke="#111" stroke-width="0.9"/>
<text x="319.60" y="612.90" transform="rotate(0.03 319.60 612.90)" font-size="6.6" stroke="#000" stroke-width="0.08" fill="#000">−0.1</text>
<line x1="314.0" y1="622.50" x2="316.3" y2="622.50" stroke="#111" stroke-width="0.9"/>
<text x="319.60" y="624.90" transform="rotate(0.03 319.60 624.90)" font-size="6.6" stroke="#000" stroke-width="0.08" fill="#000">−0.2</text>
<line x1="314.0" y1="634.50" x2="316.3" y2="634.50" stroke="#111" stroke-width="0.9"/>
<text x="319.60" y="636.90" transform="rotate(0.03 319.60 636.90)" font-size="6.6" stroke="#000" stroke-width="0.08" fill="#000">−0.3</text>
<line x1="314.0" y1="646.50" x2="316.3" y2="646.50" stroke="#111" stroke-width="0.9"/>
<text x="319.60" y="648.90" transform="rotate(0.03 319.60 648.90)" font-size="6.6" stroke="#000" stroke-width="0.08" fill="#000">−0.4</text>
<line x1="314.0" y1="658.50" x2="316.3" y2="658.50" stroke="#111" stroke-width="0.9"/>
<text x="319.60" y="660.90" transform="rotate(0.03 319.60 660.90)" font-size="6.6" stroke="#000" stroke-width="0.08" fill="#000">−0.5</text>
<line x1="314.0" y1="670.50" x2="316.3" y2="670.50" stroke="#111" stroke-width="0.9"/>
<text x="319.60" y="672.90" transform="rotate(0.03 319.60 672.90)" font-size="6.6" stroke="#000" stroke-width="0.08" fill="#000">−0.6</text>
<line x1="314.0" y1="682.50" x2="316.3" y2="682.50" stroke="#111" stroke-width="0.9"/>
<text x="319.60" y="684.90" transform="rotate(0.03 319.60 684.90)" font-size="6.6" stroke="#000" stroke-width="0.08" fill="#000">−0.7</text>
<line x1="314.0" y1="694.50" x2="316.3" y2="694.50" stroke="#111" stroke-width="0.9"/>
<text x="319.60" y="696.90" transform="rotate(0.03 319.60 696.90)" font-size="6.6" stroke="#000" stroke-width="0.08" fill="#000">−0.8</text>
<line x1="314.0" y1="706.50" x2="316.3" y2="706.50" stroke="#111" stroke-width="0.9"/>
<text x="319.60" y="708.90" transform="rotate(0.03 319.60 708.90)" font-size="6.6" stroke="#000" stroke-width="0.08" fill="#000">−0.9</text>
<line x1="314.0" y1="718.50" x2="316.3" y2="718.50" stroke="#111" stroke-width="0.9"/>
<text x="319.60" y="720.90" transform="rotate(0.03 319.60 720.90)" font-size="6.6" stroke="#000" stroke-width="0.08" fill="#000">−1</text>
<text x="103.65" y="542.30" transform="rotate(0.03 103.65 542.30)" font-size="8.66" stroke="#000" stroke-width="0.08" text-anchor="end" fill="#000">Proliferation (PAM50)</text>
<text x="127.65" y="566.30" transform="rotate(0.03 127.65 566.30)" font-size="8.66" stroke="#000" stroke-width="0.08" text-anchor="end" fill="#000">Stroma (Farmer)</text>
<text x="153.25" y="590.30" transform="rotate(0.03 153.25 590.30)" font-size="8.66" stroke="#000" stroke-width="0.08" text-anchor="end" fill="#000">Stroma (Desmedt)</text>
<text x="177.15" y="614.05" transform="rotate(0.03 177.15 614.05)" font-size="8.66" stroke="#000" stroke-width="0.08" text-anchor="end" fill="#000">Immune (ESTIMATE)</text>
<text x="199.95" y="635.90" transform="rotate(0.03 199.95 635.90)" font-size="8.66" stroke="#000" stroke-width="0.08" text-anchor="end" fill="#000">Immune (GeparSixto) *</text>
<text x="225.85" y="660.30" transform="rotate(0.03 225.85 660.30)" font-size="8.66" stroke="#000" stroke-width="0.08" text-anchor="end" fill="#000">Immune (Teff−high)</text>
<text x="249.05" y="683.70" transform="rotate(0.03 249.05 683.70)" font-size="8.66" stroke="#000" stroke-width="0.08" text-anchor="end" fill="#000">Immune (N9831)</text>
<text x="272.45" y="708.10" transform="rotate(0.03 272.45 708.10)" font-size="8.66" stroke="#000" stroke-width="0.08" text-anchor="end" fill="#000">Stroma (ESTIMATE)</text>
<text x="-0.30" y="492.90" transform="rotate(0.03 -0.30 492.90)" font-size="8.6" stroke="#000" stroke-width="0.08" fill="#000">ESR1 pathway</text>
<text x="-0.30" y="503.10" transform="rotate(0.03 -0.30 503.10)" font-size="8.6" stroke="#000" stroke-width="0.08" fill="#000">(Desmedt) **</text>
<text x="17.10" y="516.50" transform="rotate(0.03 17.10 516.50)" font-size="8.6" stroke="#000" stroke-width="0.08" fill="#000">ERBB2 pathway</text>
<text x="17.10" y="526.80" transform="rotate(0.03 17.10 526.80)" font-size="8.6" stroke="#000" stroke-width="0.08" fill="#000">(Desmedt)</text>
<text transform="translate(64.30,467.00) rotate(-45)" font-size="8.7" fill="#000">ESR1 pathway</text>
<text transform="translate(71.60,474.00) rotate(-45)" font-size="8.7" fill="#000">(Desmedt) **</text>
<text transform="translate(93.30,467.00) rotate(-45)" font-size="8.7" fill="#000">ERBB2 pathway</text>
<text transform="translate(101.20,474.00) rotate(-45)" font-size="8.7" fill="#000">(Desmedt)</text>
<text transform="translate(124.05,474.00) rotate(-45)" font-size="8.7" fill="#000">Proliferation (PAM50)</text>
<text transform="translate(147.45,474.00) rotate(-45)" font-size="8.7" fill="#000">Stroma (Farmer)</text>
<text transform="translate(170.45,474.00) rotate(-45)" font-size="8.7" fill="#000">Stroma (Desmedt)</text>
<text transform="translate(193.75,474.00) rotate(-45)" font-size="8.7" fill="#000">Immune (ESTIMATE)</text>
<text transform="translate(215.85,474.00) rotate(-45)" font-size="8.7" fill="#000">Immune (GeparSixto) *</text>
<text transform="translate(242.25,474.00) rotate(-45)" font-size="8.7" fill="#000">Immune (Teff−high)</text>
<text transform="translate(267.05,474.00) rotate(-45)" font-size="8.7" fill="#000">Immune (N9831)</text>
<text transform="translate(292.15,474.00) rotate(-45)" font-size="8.7" fill="#000">Stroma (ESTIMATE)</text>
<text x="-0.50" y="412.70" transform="rotate(0.03 -0.50 412.70)" font-size="14" font-weight="700" fill="#000">c</text>
</g>
<g id="panel-d">
<text x="376.20" y="412.70" transform="rotate(0.03 376.20 412.70)" font-size="14" font-weight="700" fill="#000">d</text>
<rect x="419.50" y="489.66" width="21.20" height="10.64" fill="#c8eef4"/>
<rect x="440.70" y="468.39" width="21.20" height="31.91" fill="#c8eef4"/>
<rect x="440.70" y="486.12" width="21.20" height="14.18" fill="#a9b9e3"/>
<rect x="461.90" y="457.75" width="21.20" height="42.55" fill="#c8eef4"/>
<rect x="461.90" y="489.66" width="21.20" height="10.64" fill="#a9b9e3"/>
<rect x="483.10" y="454.20" width="21.20" height="46.10" fill="#c8eef4"/>
<rect x="483.10" y="468.39" width="21.20" height="31.91" fill="#a9b9e3"/>
<rect x="504.30" y="450.66" width="21.20" height="49.64" fill="#c898dc"/>
<rect x="504.30" y="489.66" width="21.20" height="10.64" fill="#a9b9e3"/>
<rect x="525.50" y="454.20" width="21.20" height="46.10" fill="#c898dc"/>
<rect x="525.50" y="479.02" width="21.20" height="21.28" fill="#a9b9e3"/>
<rect x="546.70" y="461.29" width="21.20" height="39.01" fill="#c898dc"/>
<rect x="567.90" y="479.02" width="21.20" height="21.28" fill="#c898dc"/>
<rect x="589.10" y="489.66" width="21.20" height="10.64" fill="#c898dc"/>
<rect x="631.50" y="496.75" width="21.20" height="3.55" fill="#c898dc"/>
<path d="M419.50 500.30V489.66M440.70 500.30V468.39M461.90 500.30V457.75M483.10 500.30V454.20M504.30 500.30V450.66M525.50 500.30V450.66M546.70 500.30V454.20M567.90 500.30V461.29M589.10 500.30V479.02M610.30 500.30V489.66M631.50 500.30V496.75M652.70 500.30V496.75M419.50 489.66H440.70M419.50 500.30H440.70M440.70 468.39H461.90M440.70 486.12H461.90M440.70 500.30H461.90M461.90 489.66H483.10M461.90 457.75H483.10M461.90 500.30H483.10M483.10 468.39H504.30M483.10 454.20H504.30M483.10 500.30H504.30M504.30 489.66H525.50M504.30 450.66H525.50M504.30 500.30H525.50M525.50 454.20H546.70M525.50 479.02H546.70M525.50 500.30H546.70M546.70 461.29H567.90M546.70 500.30H567.90M567.90 479.02H589.10M567.90 500.30H589.10M589.10 489.66H610.30M589.10 500.30H610.30M631.50 496.75H652.70M631.50 500.30H652.70" fill="none" stroke="#000" stroke-width="1" stroke-linecap="square"/>
<line x1="410.2" y1="500.30" x2="410.2" y2="450.66" stroke="#111" stroke-width="0.8"/>
<line x1="405.6" y1="500.30" x2="410.2" y2="500.30" stroke="#111" stroke-width="0.8"/>
<text x="401.80" y="503.10" transform="rotate(0.03 401.80 503.10)" font-size="7.8" stroke="#000" stroke-width="0.08" text-anchor="end" fill="#000">0</text>
<line x1="405.6" y1="493.21" x2="410.2" y2="493.21" stroke="#111" stroke-width="0.8"/>
<line x1="405.6" y1="486.12" x2="410.2" y2="486.12" stroke="#111" stroke-width="0.8"/>
<text x="401.80" y="488.92" transform="rotate(0.03 401.80 488.92)" font-size="7.8" stroke="#000" stroke-width="0.08" text-anchor="end" fill="#000">4</text>
<line x1="405.6" y1="479.02" x2="410.2" y2="479.02" stroke="#111" stroke-width="0.8"/>
<line x1="405.6" y1="471.93" x2="410.2" y2="471.93" stroke="#111" stroke-width="0.8"/>
<text x="401.80" y="474.73" transform="rotate(0.03 401.80 474.73)" font-size="7.8" stroke="#000" stroke-width="0.08" text-anchor="end" fill="#000">8</text>
<line x1="405.6" y1="464.84" x2="410.2" y2="464.84" stroke="#111" stroke-width="0.8"/>
<line x1="405.6" y1="457.75" x2="410.2" y2="457.75" stroke="#111" stroke-width="0.8"/>
<text x="401.80" y="460.55" transform="rotate(0.03 401.80 460.55)" font-size="7.8" stroke="#000" stroke-width="0.08" text-anchor="end" fill="#000">12</text>
<line x1="405.6" y1="450.66" x2="410.2" y2="450.66" stroke="#111" stroke-width="0.8"/>
<text transform="translate(384.0,476.2) rotate(-90)" font-size="8.5" text-anchor="middle" fill="#000">Frequency</text>
<line x1="419.50" y1="503.6" x2="673.90" y2="503.6" stroke="#111" stroke-width="0.8"/>
<line x1="419.50" y1="503.6" x2="419.50" y2="507.8" stroke="#111" stroke-width="0.8"/>
<text x="419.50" y="518.00" transform="rotate(0.03 419.50 518.00)" font-size="7.8" stroke="#000" stroke-width="0.08" text-anchor="middle" fill="#000">−0.3</text>
<line x1="461.90" y1="503.6" x2="461.90" y2="507.8" stroke="#111" stroke-width="0.8"/>
<text x="461.90" y="518.00" transform="rotate(0.03 461.90 518.00)" font-size="7.8" stroke="#000" stroke-width="0.08" text-anchor="middle" fill="#000">−0.2</text>
<line x1="504.30" y1="503.6" x2="504.30" y2="507.8" stroke="#111" stroke-width="0.8"/>
<text x="504.30" y="518.00" transform="rotate(0.03 504.30 518.00)" font-size="7.8" stroke="#000" stroke-width="0.08" text-anchor="middle" fill="#000">−0.1</text>
<line x1="546.70" y1="503.6" x2="546.70" y2="507.8" stroke="#111" stroke-width="0.8"/>
<text x="546.70" y="518.00" transform="rotate(0.03 546.70 518.00)" font-size="7.8" stroke="#000" stroke-width="0.08" text-anchor="middle" fill="#000">0.0</text>
<line x1="589.10" y1="503.6" x2="589.10" y2="507.8" stroke="#111" stroke-width="0.8"/>
<text x="589.10" y="518.00" transform="rotate(0.03 589.10 518.00)" font-size="7.8" stroke="#000" stroke-width="0.08" text-anchor="middle" fill="#000">0.1</text>
<line x1="631.50" y1="503.6" x2="631.50" y2="507.8" stroke="#111" stroke-width="0.8"/>
<text x="631.50" y="518.00" transform="rotate(0.03 631.50 518.00)" font-size="7.8" stroke="#000" stroke-width="0.08" text-anchor="middle" fill="#000">0.2</text>
<line x1="673.90" y1="503.6" x2="673.90" y2="507.8" stroke="#111" stroke-width="0.8"/>
<text x="673.90" y="518.00" transform="rotate(0.03 673.90 518.00)" font-size="7.8" stroke="#000" stroke-width="0.08" text-anchor="middle" fill="#000">0.3</text>
<text x="547.00" y="527.80" transform="rotate(0.03 547.00 527.80)" font-size="7.1" stroke="#000" stroke-width="0.08" text-anchor="middle" fill="#000">ESR1 pathway score</text>
<rect x="651.10" y="448.90" width="32.70" height="23.60" fill="#ffffff" stroke="#111" stroke-width="0.9"/>
<rect x="656.40" y="454.60" width="5.40" height="4.40" fill="#d6a4e6" stroke="#111" stroke-width="0.7"/>
<rect x="656.40" y="462.40" width="5.40" height="4.40" fill="#c8eef4" stroke="#111" stroke-width="0.7"/>
<text x="665.30" y="458.90" transform="rotate(0.03 665.30 458.90)" font-size="6.95" stroke="#000" stroke-width="0.08" fill="#000">HR+</text>
<text x="665.30" y="466.70" transform="rotate(0.03 665.30 466.70)" font-size="6.95" stroke="#000" stroke-width="0.08" fill="#000">HR−</text>
<rect x="392.10" y="548.30" width="290.50" height="146.00" fill="none" stroke="#111" stroke-width="0.9"/>
<circle cx="427.0" cy="559.3" r="2.0" fill="#8adce8"/>
<circle cx="446.3" cy="559.5" r="2.0" fill="#8adce8"/>
<circle cx="468.7" cy="556.5" r="2.0" fill="#8adce8"/>
<circle cx="442.5" cy="563.1" r="2.0" fill="#8adce8"/>
<circle cx="456.1" cy="564.7" r="2.0" fill="#8adce8"/>
<circle cx="457.7" cy="567.8" r="2.0" fill="#8adce8"/>
<circle cx="454.1" cy="571.1" r="2.0" fill="#8adce8"/>
<circle cx="471.5" cy="571.1" r="2.0" fill="#8adce8"/>
<circle cx="491.6" cy="563.4" r="2.0" fill="#8adce8"/>
<circle cx="497.0" cy="563.4" r="2.0" fill="#8adce8"/>
<circle cx="484.1" cy="570.1" r="2.0" fill="#8adce8"/>
<circle cx="484.7" cy="572.2" r="2.0" fill="#8adce8"/>
<circle cx="489.5" cy="569.1" r="2.0" fill="#8adce8"/>
<circle cx="439.7" cy="578.1" r="2.0" fill="#8adce8"/>
<circle cx="449.2" cy="577.3" r="2.0" fill="#8adce8"/>
<circle cx="453.0" cy="581.9" r="2.0" fill="#8adce8"/>
<circle cx="469.0" cy="592.0" r="2.0" fill="#8adce8"/>
<circle cx="490.3" cy="593.2" r="2.0" fill="#8adce8"/>
<circle cx="482.1" cy="597.6" r="2.0" fill="#8adce8"/>
<circle cx="482.3" cy="601.2" r="2.0" fill="#8adce8"/>
<circle cx="476.9" cy="606.9" r="2.0" fill="#8adce8"/>
<circle cx="468.2" cy="608.9" r="2.0" fill="#8adce8"/>
<circle cx="464.3" cy="610.7" r="2.0" fill="#8adce8"/>
<circle cx="462.0" cy="613.0" r="2.0" fill="#8adce8"/>
<circle cx="477.7" cy="614.1" r="2.0" fill="#8adce8"/>
<circle cx="481.8" cy="616.9" r="2.0" fill="#8adce8"/>
<circle cx="491.9" cy="619.0" r="2.0" fill="#8adce8"/>
<circle cx="494.9" cy="620.5" r="2.0" fill="#8adce8"/>
<circle cx="490.1" cy="628.2" r="2.0" fill="#8adce8"/>
<circle cx="443.8" cy="630.0" r="2.0" fill="#8adce8"/>
<circle cx="448.9" cy="649.8" r="2.0" fill="#8adce8"/>
<circle cx="412.9" cy="656.0" r="2.0" fill="#8adce8"/>
<circle cx="411.4" cy="662.4" r="2.0" fill="#8adce8"/>
<circle cx="485.9" cy="675.0" r="2.0" fill="#8adce8"/>
<circle cx="503.8" cy="600.0" r="2.0" fill="#8adce8"/>
<circle cx="535.1" cy="588.6" r="2.0" fill="#8adce8"/>
<circle cx="537.8" cy="588.1" r="2.0" fill="#8adce8"/>
<circle cx="537.8" cy="618.3" r="2.0" fill="#8adce8"/>
<circle cx="547.0" cy="620.7" r="2.0" fill="#8adce8"/>
<circle cx="500.0" cy="625.9" r="2.0" fill="#8adce8"/>
<circle cx="518.1" cy="631.0" r="2.0" fill="#8adce8"/>
<circle cx="543.2" cy="629.7" r="2.0" fill="#8adce8"/>
<circle cx="524.3" cy="659.1" r="2.0" fill="#8adce8"/>
<circle cx="506.8" cy="671.5" r="2.0" fill="#8adce8"/>
<circle cx="539.2" cy="669.4" r="2.0" fill="#8adce8"/>
<circle cx="549.4" cy="667.7" r="2.0" fill="#8adce8"/>
<circle cx="484.1" cy="558.8" r="2.0" fill="#9a3cc0"/>
<circle cx="452.5" cy="565.2" r="2.0" fill="#9a3cc0"/>
<circle cx="440.2" cy="591.2" r="2.0" fill="#9a3cc0"/>
<circle cx="485.9" cy="589.9" r="2.0" fill="#9a3cc0"/>
<circle cx="475.4" cy="593.5" r="2.0" fill="#9a3cc0"/>
<circle cx="462.5" cy="599.7" r="2.0" fill="#9a3cc0"/>
<circle cx="436.6" cy="602.8" r="2.0" fill="#9a3cc0"/>
<circle cx="448.7" cy="603.5" r="2.0" fill="#9a3cc0"/>
<circle cx="484.7" cy="603.8" r="2.0" fill="#9a3cc0"/>
<circle cx="479.0" cy="630.5" r="2.0" fill="#9a3cc0"/>
<circle cx="489.3" cy="642.1" r="2.0" fill="#9a3cc0"/>
<circle cx="493.1" cy="645.7" r="2.0" fill="#9a3cc0"/>
<circle cx="492.1" cy="658.8" r="2.0" fill="#9a3cc0"/>
<circle cx="517.6" cy="560.5" r="2.0" fill="#9a3cc0"/>
<circle cx="545.6" cy="573.5" r="2.0" fill="#9a3cc0"/>
<circle cx="513.2" cy="580.0" r="2.0" fill="#9a3cc0"/>
<circle cx="517.6" cy="580.0" r="2.0" fill="#9a3cc0"/>
<circle cx="526.2" cy="592.7" r="2.0" fill="#9a3cc0"/>
<circle cx="540.5" cy="591.3" r="2.0" fill="#9a3cc0"/>
<circle cx="554.8" cy="593.2" r="2.0" fill="#9a3cc0"/>
<circle cx="517.8" cy="599.1" r="2.0" fill="#9a3cc0"/>
<circle cx="539.4" cy="599.1" r="2.0" fill="#9a3cc0"/>
<circle cx="550.0" cy="601.8" r="2.0" fill="#9a3cc0"/>
<circle cx="558.3" cy="600.5" r="2.0" fill="#9a3cc0"/>
<circle cx="596.1" cy="599.7" r="2.0" fill="#9a3cc0"/>
<circle cx="505.1" cy="611.6" r="2.0" fill="#9a3cc0"/>
<circle cx="512.4" cy="614.5" r="2.0" fill="#9a3cc0"/>
<circle cx="538.1" cy="611.6" r="2.0" fill="#9a3cc0"/>
<circle cx="563.7" cy="618.3" r="2.0" fill="#9a3cc0"/>
<circle cx="586.7" cy="620.5" r="2.0" fill="#9a3cc0"/>
<circle cx="511.1" cy="623.4" r="2.0" fill="#9a3cc0"/>
<circle cx="548.1" cy="624.0" r="2.0" fill="#9a3cc0"/>
<circle cx="557.8" cy="623.4" r="2.0" fill="#9a3cc0"/>
<circle cx="565.1" cy="624.5" r="2.0" fill="#9a3cc0"/>
<circle cx="513.8" cy="628.8" r="2.0" fill="#9a3cc0"/>
<circle cx="576.2" cy="632.6" r="2.0" fill="#9a3cc0"/>
<circle cx="578.6" cy="644.2" r="2.0" fill="#9a3cc0"/>
<circle cx="555.9" cy="646.7" r="2.0" fill="#9a3cc0"/>
<circle cx="521.3" cy="648.0" r="2.0" fill="#9a3cc0"/>
<circle cx="587.5" cy="646.7" r="2.0" fill="#9a3cc0"/>
<circle cx="595.9" cy="648.6" r="2.0" fill="#9a3cc0"/>
<circle cx="615.0" cy="653.7" r="2.0" fill="#9a3cc0"/>
<circle cx="626.9" cy="652.9" r="2.0" fill="#9a3cc0"/>
<circle cx="508.1" cy="659.6" r="2.0" fill="#9a3cc0"/>
<circle cx="518.4" cy="661.3" r="2.0" fill="#9a3cc0"/>
<circle cx="534.0" cy="661.8" r="2.0" fill="#9a3cc0"/>
<circle cx="546.7" cy="658.0" r="2.0" fill="#9a3cc0"/>
<circle cx="566.4" cy="658.3" r="2.0" fill="#9a3cc0"/>
<circle cx="571.6" cy="656.1" r="2.0" fill="#9a3cc0"/>
<circle cx="503.5" cy="665.0" r="2.0" fill="#9a3cc0"/>
<circle cx="619.1" cy="665.0" r="2.0" fill="#9a3cc0"/>
<circle cx="569.9" cy="667.7" r="2.0" fill="#9a3cc0"/>
<circle cx="587.2" cy="667.5" r="2.0" fill="#9a3cc0"/>
<circle cx="529.2" cy="670.7" r="2.0" fill="#9a3cc0"/>
<circle cx="579.1" cy="671.2" r="2.0" fill="#9a3cc0"/>
<circle cx="609.1" cy="674.5" r="2.0" fill="#9a3cc0"/>
<circle cx="614.8" cy="673.4" r="2.0" fill="#9a3cc0"/>
<circle cx="677.4" cy="668.3" r="2.0" fill="#9a3cc0"/>
<circle cx="619.9" cy="678.5" r="2.0" fill="#9a3cc0"/>
<circle cx="515.4" cy="680.4" r="2.0" fill="#9a3cc0"/>
<circle cx="539.2" cy="681.2" r="2.0" fill="#9a3cc0"/>
<circle cx="585.6" cy="682.3" r="2.0" fill="#9a3cc0"/>
<circle cx="524.8" cy="687.7" r="2.0" fill="#9a3cc0"/>
<line x1="386.3" y1="569.6" x2="392.1" y2="569.6" stroke="#111" stroke-width="0.9"/>
<text x="383.80" y="573.10" transform="rotate(0.03 383.80 573.10)" font-size="9.8" stroke="#000" stroke-width="0.08" text-anchor="end" fill="#000">0.4</text>
<line x1="386.3" y1="601.5" x2="392.1" y2="601.5" stroke="#111" stroke-width="0.9"/>
<text x="383.80" y="605.00" transform="rotate(0.03 383.80 605.00)" font-size="9.8" stroke="#000" stroke-width="0.08" text-anchor="end" fill="#000">0.2</text>
<line x1="386.3" y1="633.1" x2="392.1" y2="633.1" stroke="#111" stroke-width="0.9"/>
<text x="383.80" y="636.60" transform="rotate(0.03 383.80 636.60)" font-size="9.8" stroke="#000" stroke-width="0.08" text-anchor="end" fill="#000">0.0</text>
<line x1="386.3" y1="665.0" x2="392.1" y2="665.0" stroke="#111" stroke-width="0.9"/>
<text x="383.80" y="668.50" transform="rotate(0.03 383.80 668.50)" font-size="9.8" stroke="#000" stroke-width="0.08" text-anchor="end" fill="#000">−0.2</text>
<line x1="402.9" y1="694.3" x2="402.9" y2="699.5" stroke="#111" stroke-width="0.9"/>
<text x="402.90" y="710.60" transform="rotate(0.03 402.90 710.60)" font-size="9.8" stroke="#000" stroke-width="0.08" text-anchor="middle" fill="#000">−0.3</text>
<line x1="456.8" y1="694.3" x2="456.8" y2="699.5" stroke="#111" stroke-width="0.9"/>
<text x="456.80" y="710.60" transform="rotate(0.03 456.80 710.60)" font-size="9.8" stroke="#000" stroke-width="0.08" text-anchor="middle" fill="#000">−0.2</text>
<line x1="510.6" y1="694.3" x2="510.6" y2="699.5" stroke="#111" stroke-width="0.9"/>
<text x="510.60" y="710.60" transform="rotate(0.03 510.60 710.60)" font-size="9.8" stroke="#000" stroke-width="0.08" text-anchor="middle" fill="#000">−0.1</text>
<line x1="564.4" y1="694.3" x2="564.4" y2="699.5" stroke="#111" stroke-width="0.9"/>
<text x="564.40" y="710.60" transform="rotate(0.03 564.40 710.60)" font-size="9.8" stroke="#000" stroke-width="0.08" text-anchor="middle" fill="#000">0.0</text>
<line x1="618.0" y1="694.3" x2="618.0" y2="699.5" stroke="#111" stroke-width="0.9"/>
<text x="618.00" y="710.60" transform="rotate(0.03 618.00 710.60)" font-size="9.8" stroke="#000" stroke-width="0.08" text-anchor="middle" fill="#000">0.1</text>
<line x1="671.6" y1="694.3" x2="671.6" y2="699.5" stroke="#111" stroke-width="0.9"/>
<text x="671.60" y="710.60" transform="rotate(0.03 671.60 710.60)" font-size="9.8" stroke="#000" stroke-width="0.08" text-anchor="middle" fill="#000">0.2</text>
<text x="537.60" y="724.70" transform="rotate(0.03 537.60 724.70)" font-size="10.0" stroke="#000" stroke-width="0.08" text-anchor="middle" fill="#000">ESR1 pathway score</text>
<text transform="translate(356.9,621.0) rotate(-90)" font-size="10" text-anchor="middle" fill="#000">Immune score</text>
<rect x="595.60" y="548.30" width="87.00" height="42.60" fill="#ffffff" stroke="#111" stroke-width="0.9"/>
<circle cx="605.3" cy="563.8" r="2.0" fill="#9a3cc0"/>
<circle cx="605.3" cy="579.4" r="2.0" fill="#8adce8"/>
<text x="614.80" y="566.90" transform="rotate(0.03 614.80 566.90)" font-size="8.7" stroke="#000" stroke-width="0.08" fill="#000">HR+ (<tspan font-style="italic">r</tspan>=−0.45)</text>
<text x="614.80" y="582.50" transform="rotate(0.03 614.80 582.50)" font-size="8.7" stroke="#000" stroke-width="0.08" fill="#000">HR− (<tspan font-style="italic">r</tspan>=−0.29)</text>
</g>
</svg>
</body>
</html>
